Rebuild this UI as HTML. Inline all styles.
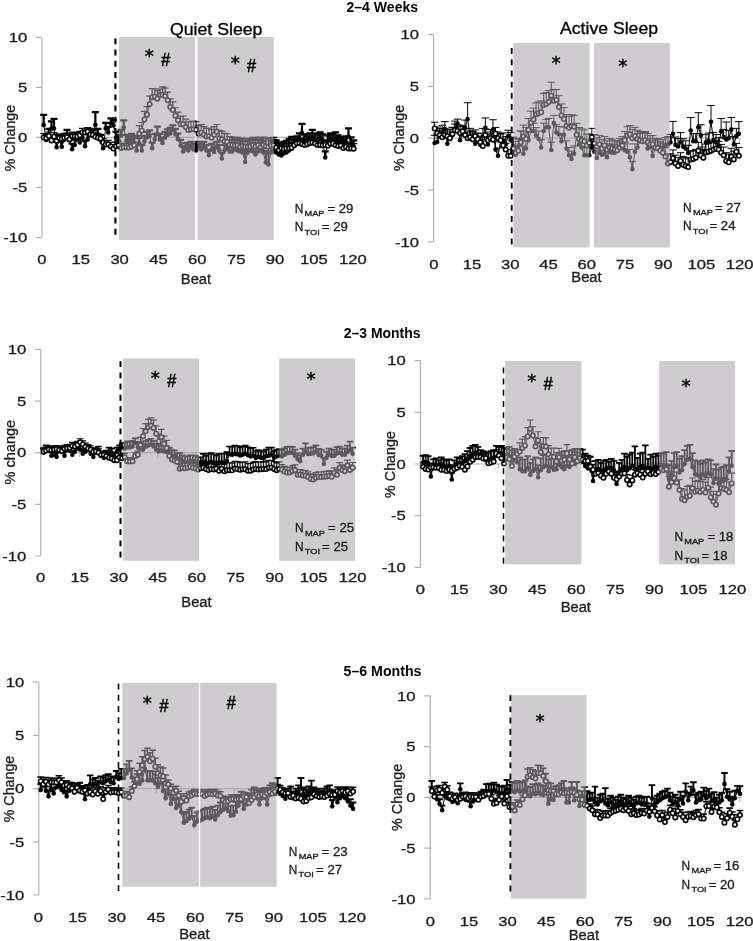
<!DOCTYPE html>
<html lang="en"><head><meta charset="utf-8"><title>Figure</title>
<style>html,body{margin:0;padding:0;background:#fff}body{width:753px;height:941px;overflow:hidden}svg{display:block}text{font-family:'Liberation Sans', 'DejaVu Sans', sans-serif}.dj{font-family:'DejaVu Sans',sans-serif}</style></head><body>
<svg width="753" height="941" viewBox="0 0 753 941">
<rect width="753" height="941" fill="#fff"/>
<g><g stroke="#b3b3b3" stroke-width="1.2" fill="none">
<path d="M41.9 37.3V237.6"/>
<path d="M36 37.3H41.9M36 87.37H41.9M36 137.45H41.9M36 187.52H41.9M36 237.6H41.9"/>
<path d="M41.9 137.45H354.95"/>
<path d="M41.9 137.45v4.5M80.77 137.45v4.5M119.63 137.45v4.5M158.5 137.45v4.5M197.36 137.45v4.5M236.23 137.45v4.5M275.09 137.45v4.5M313.95 137.45v4.5M352.82 137.45v4.5"/>
</g>
<path d="M43.69 124.93V114.92M40.19 114.92H47.19M46.27 140.05V134.55M42.77 134.55H49.77M48.86 134.45V128.94M45.36 128.94H52.36M51.44 128.44V121.43M47.94 121.43H54.94M54.02 128.44V118.92M50.52 118.92H57.52M56.6 147.26V141.76M53.1 141.76H60.1M59.19 140.45V134.95M55.69 134.95H62.69M61.77 146.76V141.26M58.27 141.26H65.27M64.35 139.45V133.94M60.85 133.94H67.85M66.94 135.45V129.94M63.44 129.94H70.44M69.52 140.45V134.95M66.02 134.95H73.02M72.1 149.27V143.76M68.6 143.76H75.6M74.69 145.06V139.55M71.19 139.55H78.19M77.27 139.45V133.94M73.77 133.94H80.77M79.85 142.46V136.95M76.35 136.95H83.35M82.44 137.45V131.94M78.94 131.94H85.94M85.02 146.16V140.65M81.52 140.65H88.52M87.6 139.45V133.94M84.1 133.94H91.1M90.18 134.45V128.94M86.68 128.94H93.68M92.77 135.45V129.94M89.27 129.94H96.27M95.35 124.63V112.11M91.85 112.11H98.85M97.93 134.45V128.94M94.43 128.94H101.43M100.52 140.45V134.95M97.02 134.95H104.02M103.1 148.17V142.66M99.6 142.66H106.6M105.68 128.34V122.83M102.18 122.83H109.18M108.27 132.44V126.93M104.77 126.93H111.77M110.85 123.43V118.42M107.35 118.42H114.35M113.43 125.43V119.92M109.93 119.92H116.93M116.01 137.45V131.94M112.51 131.94H119.51M118.6 140.45V134.95M115.1 134.95H122.1M121.18 135.45V129.94M117.68 129.94H124.68M123.76 127.43V120.42M120.26 120.42H127.26M126.35 140.45V134.95M122.85 134.95H129.85M128.93 142.46V136.95M125.43 136.95H132.43M131.51 139.45V133.94M128.01 133.94H135.01M134.09 141.46V135.95M130.59 135.95H137.59M136.68 150.47V144.96M133.18 144.96H140.18M139.26 143.46V137.95M135.76 137.95H142.76M141.84 150.47V144.96M138.34 144.96H145.34M144.43 141.46V135.95M140.93 135.95H147.93M147.01 137.45V131.94M143.51 131.94H150.51M149.59 135.95V130.44M146.09 130.44H153.09M152.18 148.17V142.66M148.68 142.66H155.68M154.76 139.45V133.94M151.26 133.94H158.26M157.34 134.15V126.63M153.84 126.63H160.84M159.93 139.45V133.94M156.43 133.94H163.43M162.51 143.06V137.55M159.01 137.55H166.01M165.09 137.45V131.94M161.59 131.94H168.59M167.67 134.75V129.24M164.17 129.24H171.17M170.26 133.44V127.94M166.76 127.94H173.76M172.84 130.24V125.23M169.34 125.23H176.34M175.42 134.45V128.94M171.92 128.94H178.92M178.01 139.15V133.64M174.51 133.64H181.51M180.59 145.46V139.95M177.09 139.95H184.09M183.17 151.47V145.96M179.67 145.96H186.67M185.75 148.47V142.96M182.25 142.96H189.25M188.34 150.47V144.96M184.84 144.96H191.84M190.92 147.46V141.96M187.42 141.96H194.42M193.5 149.47V143.96M190 143.96H197M196.09 150.47V144.96M192.59 144.96H199.59M198.67 147.46V141.96M195.17 141.96H202.17M201.25 149.47V143.96M197.75 143.96H204.75M203.84 147.46V141.96M200.34 141.96H207.34M206.42 150.47V144.96M202.92 144.96H209.92M209 155.28V149.77M205.5 149.77H212.5M211.59 149.47V143.96M208.09 143.96H215.09M214.17 151.97V146.46M210.67 146.46H217.67M216.75 147.46V141.96M213.25 141.96H220.25M219.33 150.47V144.96M215.83 144.96H222.83M221.92 158.48V152.97M218.42 152.97H225.42M224.5 150.47V144.96M221 144.96H228M227.08 148.47V142.96M223.58 142.96H230.58M229.67 151.47V145.96M226.17 145.96H233.17M232.25 151.47V139.95M228.75 139.95H235.75M234.83 149.47V137.95M231.33 137.95H238.33M237.42 150.47V138.95M233.92 138.95H240.92M240 151.47V139.95M236.5 139.95H243.5M242.58 152.47V140.96M239.08 140.96H246.08M245.16 161.99V150.47M241.66 150.47H248.66M247.75 152.47V140.96M244.25 140.96H251.25M250.33 150.47V138.95M246.83 138.95H253.83M252.91 151.47V139.95M249.41 139.95H256.41M255.5 154.48V142.96M252 142.96H259M258.08 151.47V139.95M254.58 139.95H261.58M260.66 150.47V138.95M257.16 138.95H264.16M263.25 152.47V140.96M259.75 140.96H266.75M265.83 162.49V150.97M262.33 150.97H269.33M268.41 164.49V152.97M264.91 152.97H271.91M270.99 152.47V140.96M267.49 140.96H274.49M273.58 151.47V139.95M270.08 139.95H277.08M276.16 152.47V140.96M272.66 140.96H279.66M278.74 154.48V142.96M275.24 142.96H282.24M281.33 155.48V143.96M277.83 143.96H284.83M283.91 153.47V141.96M280.41 141.96H287.41M286.49 152.47V140.96M282.99 140.96H289.99M289.08 150.47V138.95M285.58 138.95H292.58M291.66 148.47V136.95M288.16 136.95H295.16M294.24 145.46V139.45M290.74 139.45H297.74M296.82 142.46V136.45M293.32 136.45H300.32M299.41 139.45V133.44M295.91 133.44H302.91M301.99 132.94V123.93M298.49 123.93H305.49M304.57 140.45V134.45M301.07 134.45H308.07M307.16 142.46V136.45M303.66 136.45H310.66M309.74 139.45V133.44M306.24 133.44H313.24M312.32 137.45V129.94M308.82 129.94H315.82M314.91 139.45V133.44M311.41 133.44H318.41M317.49 140.45V134.45M313.99 134.45H320.99M320.07 138.45V132.44M316.57 132.44H323.57M322.65 140.45V134.45M319.15 134.45H326.15M325.24 157.48V151.47M321.74 151.47H328.74M327.82 141.46V135.45M324.32 135.45H331.32M330.4 139.45V133.44M326.9 133.44H333.9M332.99 140.45V134.45M329.49 134.45H336.49M335.57 138.45V132.44M332.07 132.44H339.07M338.15 141.46V135.45M334.65 135.45H341.65M340.74 143.46V137.45M337.24 137.45H344.24M343.32 145.46V139.45M339.82 139.45H346.82M345.9 142.46V136.45M342.4 136.45H349.4M348.48 136.45V128.44M344.98 128.44H351.98M351.07 143.46V137.45M347.57 137.45H354.57M353.65 146.46V140.45M350.15 140.45H357.15" stroke="#000" stroke-width="2.2" fill="none"/>
<path d="M43.69 124.93L46.27 140.05L48.86 134.45L51.44 128.44L54.02 128.44L56.6 147.26L59.19 140.45L61.77 146.76L64.35 139.45L66.94 135.45L69.52 140.45L72.1 149.27L74.69 145.06L77.27 139.45L79.85 142.46L82.44 137.45L85.02 146.16L87.6 139.45L90.18 134.45L92.77 135.45L95.35 124.63L97.93 134.45L100.52 140.45L103.1 148.17L105.68 128.34L108.27 132.44L110.85 123.43L113.43 125.43L116.01 137.45L118.6 140.45L121.18 135.45L123.76 127.43L126.35 140.45L128.93 142.46L131.51 139.45L134.09 141.46L136.68 150.47L139.26 143.46L141.84 150.47L144.43 141.46L147.01 137.45L149.59 135.95L152.18 148.17L154.76 139.45L157.34 134.15L159.93 139.45L162.51 143.06L165.09 137.45L167.67 134.75L170.26 133.44L172.84 130.24L175.42 134.45L178.01 139.15L180.59 145.46L183.17 151.47L185.75 148.47L188.34 150.47L190.92 147.46L193.5 149.47L196.09 150.47L198.67 147.46L201.25 149.47L203.84 147.46L206.42 150.47L209 155.28L211.59 149.47L214.17 151.97L216.75 147.46L219.33 150.47L221.92 158.48L224.5 150.47L227.08 148.47L229.67 151.47L232.25 151.47L234.83 149.47L237.42 150.47L240 151.47L242.58 152.47L245.16 161.99L247.75 152.47L250.33 150.47L252.91 151.47L255.5 154.48L258.08 151.47L260.66 150.47L263.25 152.47L265.83 162.49L268.41 164.49L270.99 152.47L273.58 151.47L276.16 152.47L278.74 154.48L281.33 155.48L283.91 153.47L286.49 152.47L289.08 150.47L291.66 148.47L294.24 145.46L296.82 142.46L299.41 139.45L301.99 132.94L304.57 140.45L307.16 142.46L309.74 139.45L312.32 137.45L314.91 139.45L317.49 140.45L320.07 138.45L322.65 140.45L325.24 157.48L327.82 141.46L330.4 139.45L332.99 140.45L335.57 138.45L338.15 141.46L340.74 143.46L343.32 145.46L345.9 142.46L348.48 136.45L351.07 143.46L353.65 146.46" stroke="#000" stroke-width="1" fill="none"/>
<g fill="#000"><circle cx="43.69" cy="124.93" r="2.3"/><circle cx="46.27" cy="140.05" r="2.3"/><circle cx="48.86" cy="134.45" r="2.3"/><circle cx="51.44" cy="128.44" r="2.3"/><circle cx="54.02" cy="128.44" r="2.3"/><circle cx="56.6" cy="147.26" r="2.3"/><circle cx="59.19" cy="140.45" r="2.3"/><circle cx="61.77" cy="146.76" r="2.3"/><circle cx="64.35" cy="139.45" r="2.3"/><circle cx="66.94" cy="135.45" r="2.3"/><circle cx="69.52" cy="140.45" r="2.3"/><circle cx="72.1" cy="149.27" r="2.3"/><circle cx="74.69" cy="145.06" r="2.3"/><circle cx="77.27" cy="139.45" r="2.3"/><circle cx="79.85" cy="142.46" r="2.3"/><circle cx="82.44" cy="137.45" r="2.3"/><circle cx="85.02" cy="146.16" r="2.3"/><circle cx="87.6" cy="139.45" r="2.3"/><circle cx="90.18" cy="134.45" r="2.3"/><circle cx="92.77" cy="135.45" r="2.3"/><circle cx="95.35" cy="124.63" r="2.3"/><circle cx="97.93" cy="134.45" r="2.3"/><circle cx="100.52" cy="140.45" r="2.3"/><circle cx="103.1" cy="148.17" r="2.3"/><circle cx="105.68" cy="128.34" r="2.3"/><circle cx="108.27" cy="132.44" r="2.3"/><circle cx="110.85" cy="123.43" r="2.3"/><circle cx="113.43" cy="125.43" r="2.3"/><circle cx="116.01" cy="137.45" r="2.3"/><circle cx="118.6" cy="140.45" r="2.3"/><circle cx="121.18" cy="135.45" r="2.3"/><circle cx="123.76" cy="127.43" r="2.3"/><circle cx="126.35" cy="140.45" r="2.3"/><circle cx="128.93" cy="142.46" r="2.3"/><circle cx="131.51" cy="139.45" r="2.3"/><circle cx="134.09" cy="141.46" r="2.3"/><circle cx="136.68" cy="150.47" r="2.3"/><circle cx="139.26" cy="143.46" r="2.3"/><circle cx="141.84" cy="150.47" r="2.3"/><circle cx="144.43" cy="141.46" r="2.3"/><circle cx="147.01" cy="137.45" r="2.3"/><circle cx="149.59" cy="135.95" r="2.3"/><circle cx="152.18" cy="148.17" r="2.3"/><circle cx="154.76" cy="139.45" r="2.3"/><circle cx="157.34" cy="134.15" r="2.3"/><circle cx="159.93" cy="139.45" r="2.3"/><circle cx="162.51" cy="143.06" r="2.3"/><circle cx="165.09" cy="137.45" r="2.3"/><circle cx="167.67" cy="134.75" r="2.3"/><circle cx="170.26" cy="133.44" r="2.3"/><circle cx="172.84" cy="130.24" r="2.3"/><circle cx="175.42" cy="134.45" r="2.3"/><circle cx="178.01" cy="139.15" r="2.3"/><circle cx="180.59" cy="145.46" r="2.3"/><circle cx="183.17" cy="151.47" r="2.3"/><circle cx="185.75" cy="148.47" r="2.3"/><circle cx="188.34" cy="150.47" r="2.3"/><circle cx="190.92" cy="147.46" r="2.3"/><circle cx="193.5" cy="149.47" r="2.3"/><circle cx="196.09" cy="150.47" r="2.3"/><circle cx="198.67" cy="147.46" r="2.3"/><circle cx="201.25" cy="149.47" r="2.3"/><circle cx="203.84" cy="147.46" r="2.3"/><circle cx="206.42" cy="150.47" r="2.3"/><circle cx="209" cy="155.28" r="2.3"/><circle cx="211.59" cy="149.47" r="2.3"/><circle cx="214.17" cy="151.97" r="2.3"/><circle cx="216.75" cy="147.46" r="2.3"/><circle cx="219.33" cy="150.47" r="2.3"/><circle cx="221.92" cy="158.48" r="2.3"/><circle cx="224.5" cy="150.47" r="2.3"/><circle cx="227.08" cy="148.47" r="2.3"/><circle cx="229.67" cy="151.47" r="2.3"/><circle cx="232.25" cy="151.47" r="2.3"/><circle cx="234.83" cy="149.47" r="2.3"/><circle cx="237.42" cy="150.47" r="2.3"/><circle cx="240" cy="151.47" r="2.3"/><circle cx="242.58" cy="152.47" r="2.3"/><circle cx="245.16" cy="161.99" r="2.3"/><circle cx="247.75" cy="152.47" r="2.3"/><circle cx="250.33" cy="150.47" r="2.3"/><circle cx="252.91" cy="151.47" r="2.3"/><circle cx="255.5" cy="154.48" r="2.3"/><circle cx="258.08" cy="151.47" r="2.3"/><circle cx="260.66" cy="150.47" r="2.3"/><circle cx="263.25" cy="152.47" r="2.3"/><circle cx="265.83" cy="162.49" r="2.3"/><circle cx="268.41" cy="164.49" r="2.3"/><circle cx="270.99" cy="152.47" r="2.3"/><circle cx="273.58" cy="151.47" r="2.3"/><circle cx="276.16" cy="152.47" r="2.3"/><circle cx="278.74" cy="154.48" r="2.3"/><circle cx="281.33" cy="155.48" r="2.3"/><circle cx="283.91" cy="153.47" r="2.3"/><circle cx="286.49" cy="152.47" r="2.3"/><circle cx="289.08" cy="150.47" r="2.3"/><circle cx="291.66" cy="148.47" r="2.3"/><circle cx="294.24" cy="145.46" r="2.3"/><circle cx="296.82" cy="142.46" r="2.3"/><circle cx="299.41" cy="139.45" r="2.3"/><circle cx="301.99" cy="132.94" r="2.3"/><circle cx="304.57" cy="140.45" r="2.3"/><circle cx="307.16" cy="142.46" r="2.3"/><circle cx="309.74" cy="139.45" r="2.3"/><circle cx="312.32" cy="137.45" r="2.3"/><circle cx="314.91" cy="139.45" r="2.3"/><circle cx="317.49" cy="140.45" r="2.3"/><circle cx="320.07" cy="138.45" r="2.3"/><circle cx="322.65" cy="140.45" r="2.3"/><circle cx="325.24" cy="157.48" r="2.3"/><circle cx="327.82" cy="141.46" r="2.3"/><circle cx="330.4" cy="139.45" r="2.3"/><circle cx="332.99" cy="140.45" r="2.3"/><circle cx="335.57" cy="138.45" r="2.3"/><circle cx="338.15" cy="141.46" r="2.3"/><circle cx="340.74" cy="143.46" r="2.3"/><circle cx="343.32" cy="145.46" r="2.3"/><circle cx="345.9" cy="142.46" r="2.3"/><circle cx="348.48" cy="136.45" r="2.3"/><circle cx="351.07" cy="143.46" r="2.3"/><circle cx="353.65" cy="146.46" r="2.3"/></g>
<path d="M43.69 137.52V133.51M40.19 133.51H47.19M46.27 138.04V134.04M42.77 134.04H49.77M48.86 136.02V132.01M45.36 132.01H52.36M51.44 140.38V136.38M47.94 136.38H54.94M54.02 136.72V132.71M50.52 132.71H57.52M56.6 140.78V136.77M53.1 136.77H60.1M59.19 138.04V134.03M55.69 134.03H62.69M61.77 138.64V134.64M58.27 134.64H65.27M64.35 137.96V133.95M60.85 133.95H67.85M66.94 137.19V133.18M63.44 133.18H70.44M69.52 139.3V135.3M66.02 135.3H73.02M72.1 136.03V132.02M68.6 132.02H75.6M74.69 136.37V132.36M71.19 132.36H78.19M77.27 136.6V132.6M73.77 132.6H80.77M79.85 135.32V131.32M76.35 131.32H83.35M82.44 132.39V128.38M78.94 128.38H85.94M85.02 132.59V128.58M81.52 128.58H88.52M87.6 131.61V127.61M84.1 127.61H91.1M90.18 134.55V130.55M86.68 130.55H93.68M92.77 134.96V130.95M89.27 130.95H96.27M95.35 136.87V132.87M91.85 132.87H98.85M97.93 137.7V133.69M94.43 133.69H101.43M100.52 138.56V134.56M97.02 134.56H104.02M103.1 142.71V138.7M99.6 138.7H106.6M105.68 144.6V140.6M102.18 140.6H109.18M108.27 144.38V140.38M104.77 140.38H111.77M110.85 146.44V142.43M107.35 142.43H114.35M113.43 148.53V144.52M109.93 144.52H116.93M116.01 146.2V142.19M112.51 142.19H119.51M118.6 145.3V141.29M115.1 141.29H122.1M121.18 147.97V143.97M117.68 143.97H124.68M123.76 147.16V143.16M120.26 143.16H127.26M126.35 147.41V143.41M122.85 143.41H129.85M128.93 147.45V143.45M125.43 143.45H132.43M131.51 146.65V142.64M128.01 142.64H135.01M134.09 145.34V141.33M130.59 141.33H137.59M136.68 140.34V136.34M133.18 136.34H140.18M139.26 133.61V125.6M135.76 125.6H142.76M141.84 130.49V122.48M138.34 122.48H145.34M144.43 119.4V111.39M140.93 111.39H147.93M147.01 114.67V106.66M143.51 106.66H150.51M149.59 104.21V96.2M146.09 96.2H153.09M152.18 97.14V88.63M148.68 88.63H155.68M154.76 96.75V88.74M151.26 88.74H158.26M157.34 98.69V90.68M153.84 90.68H160.84M159.93 95.11V89.1M156.43 89.1H163.43M162.51 94.8V86.79M159.01 86.79H166.01M165.09 96.17V88.16M161.59 88.16H168.59M167.67 100.16V92.14M164.17 92.14H171.17M170.26 106.98V98.97M166.76 98.97H173.76M172.84 109.98V101.97M169.34 101.97H176.34M175.42 115.77V107.76M171.92 107.76H178.92M178.01 120.23V112.22M174.51 112.22H181.51M180.59 124.18V116.17M177.09 116.17H184.09M183.17 124.03V116.02M179.67 116.02H186.67M185.75 127.12V119.11M182.25 119.11H189.25M188.34 129.99V121.98M184.84 121.98H191.84M190.92 129.41V121.4M187.42 121.4H194.42M193.5 129.13V121.12M190 121.12H197M196.09 129.64V121.63M192.59 121.63H199.59M198.67 133.67V125.66M195.17 125.66H202.17M201.25 132.7V124.69M197.75 124.69H204.75M203.84 134.63V126.62M200.34 126.62H207.34M206.42 136.4V128.39M202.92 128.39H209.92M209 136.17V128.16M205.5 128.16H212.5M211.59 137.64V129.63M208.09 129.63H215.09M214.17 134.74V126.72M210.67 126.72H217.67M216.75 131.53V124.52M213.25 124.52H220.25M219.33 138.48V130.47M215.83 130.47H222.83M221.92 139.32V131.31M218.42 131.31H225.42M224.5 141.29V133.28M221 133.28H228M227.08 141.95V133.94M223.58 133.94H230.58M229.67 144.67V136.65M226.17 136.65H233.17M232.25 145.04V137.03M228.75 137.03H235.75M234.83 145.87V137.86M231.33 137.86H238.33M237.42 145.3V137.29M233.92 137.29H240.92M240 146.87V138.86M236.5 138.86H243.5M242.58 146.06V138.05M239.08 138.05H246.08M245.16 146.83V138.82M241.66 138.82H248.66M247.75 146.82V138.81M244.25 138.81H251.25M250.33 146.53V138.51M246.83 138.51H253.83M252.91 145.28V137.27M249.41 137.27H256.41M255.5 146.34V138.33M252 138.33H259M258.08 145.12V137.11M254.58 137.11H261.58M260.66 146.93V138.92M257.16 138.92H264.16M263.25 145.03V137.01M259.75 137.01H266.75M265.83 146.32V138.3M262.33 138.3H269.33M268.41 146.83V138.82M264.91 138.82H271.91M270.99 145.62V137.6M267.49 137.6H274.49M273.58 145.35V137.34M270.08 137.34H277.08M276.16 147.75V139.74M272.66 139.74H279.66M278.74 150.07V145.06M275.24 145.06H282.24M281.33 148.32V143.31M277.83 143.31H284.83M283.91 148.88V143.87M280.41 143.87H287.41M286.49 148.42V143.41M282.99 143.41H289.99M289.08 148.31V143.3M285.58 143.3H292.58M291.66 147.66V142.65M288.16 142.65H295.16M294.24 145.18V140.17M290.74 140.17H297.74M296.82 143.2V138.19M293.32 138.19H300.32M299.41 143.1V138.09M295.91 138.09H302.91M301.99 144.12V139.11M298.49 139.11H305.49M304.57 145.1V140.1M301.07 140.1H308.07M307.16 144.22V139.21M303.66 139.21H310.66M309.74 142.94V137.93M306.24 137.93H313.24M312.32 142.59V137.59M308.82 137.59H315.82M314.91 143.62V138.62M311.41 138.62H318.41M317.49 145.11V140.1M313.99 140.1H320.99M320.07 144.9V139.89M316.57 139.89H323.57M322.65 145.52V140.51M319.15 140.51H326.15M325.24 144.96V139.95M321.74 139.95H328.74M327.82 145.63V140.62M324.32 140.62H331.32M330.4 143.79V138.78M326.9 138.78H333.9M332.99 143.71V138.71M329.49 138.71H336.49M335.57 145.34V140.33M332.07 140.33H339.07M338.15 145.96V140.96M334.65 140.96H341.65M340.74 145.57V140.56M337.24 140.56H344.24M343.32 148.04V143.03M339.82 143.03H346.82M345.9 146.9V141.89M342.4 141.89H349.4M348.48 148.43V143.42M344.98 143.42H351.98M351.07 148.46V143.45M347.57 143.45H354.57M353.65 148.63V143.63M350.15 143.63H357.15" stroke="#000" stroke-width="1.2" fill="none"/>
<path d="M43.69 137.52L46.27 138.04L48.86 136.02L51.44 140.38L54.02 136.72L56.6 140.78L59.19 138.04L61.77 138.64L64.35 137.96L66.94 137.19L69.52 139.3L72.1 136.03L74.69 136.37L77.27 136.6L79.85 135.32L82.44 132.39L85.02 132.59L87.6 131.61L90.18 134.55L92.77 134.96L95.35 136.87L97.93 137.7L100.52 138.56L103.1 142.71L105.68 144.6L108.27 144.38L110.85 146.44L113.43 148.53L116.01 146.2L118.6 145.3L121.18 147.97L123.76 147.16L126.35 147.41L128.93 147.45L131.51 146.65L134.09 145.34L136.68 140.34L139.26 133.61L141.84 130.49L144.43 119.4L147.01 114.67L149.59 104.21L152.18 97.14L154.76 96.75L157.34 98.69L159.93 95.11L162.51 94.8L165.09 96.17L167.67 100.16L170.26 106.98L172.84 109.98L175.42 115.77L178.01 120.23L180.59 124.18L183.17 124.03L185.75 127.12L188.34 129.99L190.92 129.41L193.5 129.13L196.09 129.64L198.67 133.67L201.25 132.7L203.84 134.63L206.42 136.4L209 136.17L211.59 137.64L214.17 134.74L216.75 131.53L219.33 138.48L221.92 139.32L224.5 141.29L227.08 141.95L229.67 144.67L232.25 145.04L234.83 145.87L237.42 145.3L240 146.87L242.58 146.06L245.16 146.83L247.75 146.82L250.33 146.53L252.91 145.28L255.5 146.34L258.08 145.12L260.66 146.93L263.25 145.03L265.83 146.32L268.41 146.83L270.99 145.62L273.58 145.35L276.16 147.75L278.74 150.07L281.33 148.32L283.91 148.88L286.49 148.42L289.08 148.31L291.66 147.66L294.24 145.18L296.82 143.2L299.41 143.1L301.99 144.12L304.57 145.1L307.16 144.22L309.74 142.94L312.32 142.59L314.91 143.62L317.49 145.11L320.07 144.9L322.65 145.52L325.24 144.96L327.82 145.63L330.4 143.79L332.99 143.71L335.57 145.34L338.15 145.96L340.74 145.57L343.32 148.04L345.9 146.9L348.48 148.43L351.07 148.46L353.65 148.63" stroke="#000" stroke-width="1" fill="none"/>
<g fill="#fff" stroke="#000" stroke-width="1.6"><circle cx="43.69" cy="137.52" r="2.2"/><circle cx="46.27" cy="138.04" r="2.2"/><circle cx="48.86" cy="136.02" r="2.2"/><circle cx="51.44" cy="140.38" r="2.2"/><circle cx="54.02" cy="136.72" r="2.2"/><circle cx="56.6" cy="140.78" r="2.2"/><circle cx="59.19" cy="138.04" r="2.2"/><circle cx="61.77" cy="138.64" r="2.2"/><circle cx="64.35" cy="137.96" r="2.2"/><circle cx="66.94" cy="137.19" r="2.2"/><circle cx="69.52" cy="139.3" r="2.2"/><circle cx="72.1" cy="136.03" r="2.2"/><circle cx="74.69" cy="136.37" r="2.2"/><circle cx="77.27" cy="136.6" r="2.2"/><circle cx="79.85" cy="135.32" r="2.2"/><circle cx="82.44" cy="132.39" r="2.2"/><circle cx="85.02" cy="132.59" r="2.2"/><circle cx="87.6" cy="131.61" r="2.2"/><circle cx="90.18" cy="134.55" r="2.2"/><circle cx="92.77" cy="134.96" r="2.2"/><circle cx="95.35" cy="136.87" r="2.2"/><circle cx="97.93" cy="137.7" r="2.2"/><circle cx="100.52" cy="138.56" r="2.2"/><circle cx="103.1" cy="142.71" r="2.2"/><circle cx="105.68" cy="144.6" r="2.2"/><circle cx="108.27" cy="144.38" r="2.2"/><circle cx="110.85" cy="146.44" r="2.2"/><circle cx="113.43" cy="148.53" r="2.2"/><circle cx="116.01" cy="146.2" r="2.2"/><circle cx="118.6" cy="145.3" r="2.2"/><circle cx="121.18" cy="147.97" r="2.2"/><circle cx="123.76" cy="147.16" r="2.2"/><circle cx="126.35" cy="147.41" r="2.2"/><circle cx="128.93" cy="147.45" r="2.2"/><circle cx="131.51" cy="146.65" r="2.2"/><circle cx="134.09" cy="145.34" r="2.2"/><circle cx="136.68" cy="140.34" r="2.2"/><circle cx="139.26" cy="133.61" r="2.2"/><circle cx="141.84" cy="130.49" r="2.2"/><circle cx="144.43" cy="119.4" r="2.2"/><circle cx="147.01" cy="114.67" r="2.2"/><circle cx="149.59" cy="104.21" r="2.2"/><circle cx="152.18" cy="97.14" r="2.2"/><circle cx="154.76" cy="96.75" r="2.2"/><circle cx="157.34" cy="98.69" r="2.2"/><circle cx="159.93" cy="95.11" r="2.2"/><circle cx="162.51" cy="94.8" r="2.2"/><circle cx="165.09" cy="96.17" r="2.2"/><circle cx="167.67" cy="100.16" r="2.2"/><circle cx="170.26" cy="106.98" r="2.2"/><circle cx="172.84" cy="109.98" r="2.2"/><circle cx="175.42" cy="115.77" r="2.2"/><circle cx="178.01" cy="120.23" r="2.2"/><circle cx="180.59" cy="124.18" r="2.2"/><circle cx="183.17" cy="124.03" r="2.2"/><circle cx="185.75" cy="127.12" r="2.2"/><circle cx="188.34" cy="129.99" r="2.2"/><circle cx="190.92" cy="129.41" r="2.2"/><circle cx="193.5" cy="129.13" r="2.2"/><circle cx="196.09" cy="129.64" r="2.2"/><circle cx="198.67" cy="133.67" r="2.2"/><circle cx="201.25" cy="132.7" r="2.2"/><circle cx="203.84" cy="134.63" r="2.2"/><circle cx="206.42" cy="136.4" r="2.2"/><circle cx="209" cy="136.17" r="2.2"/><circle cx="211.59" cy="137.64" r="2.2"/><circle cx="214.17" cy="134.74" r="2.2"/><circle cx="216.75" cy="131.53" r="2.2"/><circle cx="219.33" cy="138.48" r="2.2"/><circle cx="221.92" cy="139.32" r="2.2"/><circle cx="224.5" cy="141.29" r="2.2"/><circle cx="227.08" cy="141.95" r="2.2"/><circle cx="229.67" cy="144.67" r="2.2"/><circle cx="232.25" cy="145.04" r="2.2"/><circle cx="234.83" cy="145.87" r="2.2"/><circle cx="237.42" cy="145.3" r="2.2"/><circle cx="240" cy="146.87" r="2.2"/><circle cx="242.58" cy="146.06" r="2.2"/><circle cx="245.16" cy="146.83" r="2.2"/><circle cx="247.75" cy="146.82" r="2.2"/><circle cx="250.33" cy="146.53" r="2.2"/><circle cx="252.91" cy="145.28" r="2.2"/><circle cx="255.5" cy="146.34" r="2.2"/><circle cx="258.08" cy="145.12" r="2.2"/><circle cx="260.66" cy="146.93" r="2.2"/><circle cx="263.25" cy="145.03" r="2.2"/><circle cx="265.83" cy="146.32" r="2.2"/><circle cx="268.41" cy="146.83" r="2.2"/><circle cx="270.99" cy="145.62" r="2.2"/><circle cx="273.58" cy="145.35" r="2.2"/><circle cx="276.16" cy="147.75" r="2.2"/><circle cx="278.74" cy="150.07" r="2.2"/><circle cx="281.33" cy="148.32" r="2.2"/><circle cx="283.91" cy="148.88" r="2.2"/><circle cx="286.49" cy="148.42" r="2.2"/><circle cx="289.08" cy="148.31" r="2.2"/><circle cx="291.66" cy="147.66" r="2.2"/><circle cx="294.24" cy="145.18" r="2.2"/><circle cx="296.82" cy="143.2" r="2.2"/><circle cx="299.41" cy="143.1" r="2.2"/><circle cx="301.99" cy="144.12" r="2.2"/><circle cx="304.57" cy="145.1" r="2.2"/><circle cx="307.16" cy="144.22" r="2.2"/><circle cx="309.74" cy="142.94" r="2.2"/><circle cx="312.32" cy="142.59" r="2.2"/><circle cx="314.91" cy="143.62" r="2.2"/><circle cx="317.49" cy="145.11" r="2.2"/><circle cx="320.07" cy="144.9" r="2.2"/><circle cx="322.65" cy="145.52" r="2.2"/><circle cx="325.24" cy="144.96" r="2.2"/><circle cx="327.82" cy="145.63" r="2.2"/><circle cx="330.4" cy="143.79" r="2.2"/><circle cx="332.99" cy="143.71" r="2.2"/><circle cx="335.57" cy="145.34" r="2.2"/><circle cx="338.15" cy="145.96" r="2.2"/><circle cx="340.74" cy="145.57" r="2.2"/><circle cx="343.32" cy="148.04" r="2.2"/><circle cx="345.9" cy="146.9" r="2.2"/><circle cx="348.48" cy="148.43" r="2.2"/><circle cx="351.07" cy="148.46" r="2.2"/><circle cx="353.65" cy="148.63" r="2.2"/></g>
<rect x="119" y="37" width="76" height="203" fill="#a6a3a5" fill-opacity="0.55"/>
<rect x="197.6" y="37" width="76.2" height="203" fill="#a6a3a5" fill-opacity="0.55"/>
<path d="M115.4 38.4V234.8" stroke="#000" stroke-width="2.1" stroke-dasharray="5.9 5.3" fill="none"/>
<text x="0" y="0" font-size="13.3" fill="#1a1a1a" text-anchor="end" transform="translate(27.3 42.05) scale(1.25 1)" stroke="#1a1a1a" stroke-width="0.3">10</text>
<text x="0" y="0" font-size="13.3" fill="#1a1a1a" text-anchor="end" transform="translate(27.3 92.12) scale(1.25 1)" stroke="#1a1a1a" stroke-width="0.3">5</text>
<text x="0" y="0" font-size="13.3" fill="#1a1a1a" text-anchor="end" transform="translate(27.3 142.2) scale(1.25 1)" stroke="#1a1a1a" stroke-width="0.3">0</text>
<text x="0" y="0" font-size="13.3" fill="#1a1a1a" text-anchor="end" transform="translate(27.3 192.27) scale(1.25 1)" stroke="#1a1a1a" stroke-width="0.3">-5</text>
<text x="0" y="0" font-size="13.3" fill="#1a1a1a" text-anchor="end" transform="translate(27.3 242.35) scale(1.25 1)" stroke="#1a1a1a" stroke-width="0.3">-10</text>
<text x="0" y="0" font-size="13.3" fill="#1a1a1a" text-anchor="middle" transform="translate(41.9 264.4) scale(1.25 1)" stroke="#1a1a1a" stroke-width="0.3">0</text>
<text x="0" y="0" font-size="13.3" fill="#1a1a1a" text-anchor="middle" transform="translate(80.77 264.4) scale(1.25 1)" stroke="#1a1a1a" stroke-width="0.3">15</text>
<text x="0" y="0" font-size="13.3" fill="#1a1a1a" text-anchor="middle" transform="translate(119.63 264.4) scale(1.25 1)" stroke="#1a1a1a" stroke-width="0.3">30</text>
<text x="0" y="0" font-size="13.3" fill="#1a1a1a" text-anchor="middle" transform="translate(158.5 264.4) scale(1.25 1)" stroke="#1a1a1a" stroke-width="0.3">45</text>
<text x="0" y="0" font-size="13.3" fill="#1a1a1a" text-anchor="middle" transform="translate(197.36 264.4) scale(1.25 1)" stroke="#1a1a1a" stroke-width="0.3">60</text>
<text x="0" y="0" font-size="13.3" fill="#1a1a1a" text-anchor="middle" transform="translate(236.23 264.4) scale(1.25 1)" stroke="#1a1a1a" stroke-width="0.3">75</text>
<text x="0" y="0" font-size="13.3" fill="#1a1a1a" text-anchor="middle" transform="translate(275.09 264.4) scale(1.25 1)" stroke="#1a1a1a" stroke-width="0.3">90</text>
<text x="0" y="0" font-size="13.3" fill="#1a1a1a" text-anchor="middle" transform="translate(313.95 264.4) scale(1.25 1)" stroke="#1a1a1a" stroke-width="0.3">105</text>
<text x="0" y="0" font-size="13.3" fill="#1a1a1a" text-anchor="middle" transform="translate(352.82 264.4) scale(1.25 1)" stroke="#1a1a1a" stroke-width="0.3">120</text>
<text x="196" y="283.7" font-size="14" fill="#1a1a1a" text-anchor="middle" textLength="30.3" lengthAdjust="spacingAndGlyphs" stroke="#1a1a1a" stroke-width="0.3">Beat</text>
<text x="0" y="0" font-size="15.2" fill="#1a1a1a" text-anchor="middle" textLength="66.4" lengthAdjust="spacingAndGlyphs" transform="translate(14.7 138.1) rotate(-90)" stroke="#1a1a1a" stroke-width="0.3">% Change</text>
<text x="294.7" y="212.5" font-size="12.6" fill="#1a1a1a" textLength="8.6" lengthAdjust="spacingAndGlyphs" stroke="#1a1a1a" stroke-width="0.3">N</text>
<text x="304.6" y="215.8" font-size="7.7" fill="#1a1a1a" textLength="19.9" lengthAdjust="spacingAndGlyphs" stroke="#1a1a1a" stroke-width="0.3">MAP</text>
<text x="327.4" y="212.5" font-size="12.6" fill="#1a1a1a" textLength="26" lengthAdjust="spacingAndGlyphs" stroke="#1a1a1a" stroke-width="0.3">= 29</text>
<text x="294.7" y="231.4" font-size="12.6" fill="#1a1a1a" textLength="8.6" lengthAdjust="spacingAndGlyphs" stroke="#1a1a1a" stroke-width="0.3">N</text>
<text x="304.5" y="234.5" font-size="7.7" fill="#1a1a1a" textLength="15.3" lengthAdjust="spacingAndGlyphs" stroke="#1a1a1a" stroke-width="0.3">TOI</text>
<text x="321.8" y="231.4" font-size="12.6" fill="#1a1a1a" textLength="26" lengthAdjust="spacingAndGlyphs" stroke="#1a1a1a" stroke-width="0.3">= 29</text>
<text x="149.25" y="62.2" font-size="18.3" fill="#000" text-anchor="middle" class="dj" stroke="#000" stroke-width="0.4">*</text>
<text x="0" y="0" font-size="18" fill="#000" text-anchor="middle" transform="translate(165.75 65.55) scale(0.9 1)" stroke="#000" stroke-width="0.55">#</text>
<text x="235.3" y="68.9" font-size="18.3" fill="#000" text-anchor="middle" class="dj" stroke="#000" stroke-width="0.4">*</text>
<text x="0" y="0" font-size="18" fill="#000" text-anchor="middle" transform="translate(251.6 71.9) scale(0.9 1)" stroke="#000" stroke-width="0.55">#</text></g>
<g><g stroke="#b3b3b3" stroke-width="1.2" fill="none">
<path d="M433.6 34.5V241.9"/>
<path d="M427.7 34.5H433.6M427.7 86.35H433.6M427.7 138.2H433.6M427.7 190.05H433.6M427.7 241.9H433.6"/>
<path d="M433.6 138.2H740.17"/>
<path d="M433.9 138.2v4.5M472.12 138.2v4.5M510.34 138.2v4.5M548.56 138.2v4.5M586.78 138.2v4.5M625 138.2v4.5M663.22 138.2v4.5M701.44 138.2v4.5M739.66 138.2v4.5"/>
</g>
<path d="M434.67 143.07V135.3M430.87 135.3H438.47M437.21 141.93V134.16M433.41 134.16H441.01M439.74 136.13V128.35M435.94 128.35H443.54M442.28 133.01V125.24M438.48 125.24H446.08M444.81 129.07V121.61M441.01 121.61H448.61M447.35 143.7V135.92M443.55 135.92H451.15M449.88 137.16V129.39M446.08 129.39H453.68M452.42 135.09V127.31M448.62 127.31H456.22M454.95 128.87V121.09M451.15 121.09H458.75M457.49 123.79V119.12M453.69 119.12H461.29M460.02 140.27V132.5M456.22 132.5H463.82M462.56 134.05V126.27M458.75 126.27H466.36M465.09 127.83V120.05M461.29 120.05H468.89M467.62 119.12V102.73M463.82 102.73H471.43M470.16 136.13V128.35M466.36 128.35H473.96M472.7 139.24V131.46M468.9 131.46H476.5M475.23 143.7V135.92M471.43 135.92H479.03M477.76 141.31V133.53M473.96 133.53H481.56M480.3 144.84V137.06M476.5 137.06H484.1M482.84 136.13V128.35M479.04 128.35H486.64M485.37 127.83V117.98M481.57 117.98H489.17M487.91 144.42V136.64M484.11 136.64H491.71M490.44 137.16V129.39M486.64 129.39H494.24M492.98 129.7V119.74M489.18 119.74H496.78M495.51 149.61V141.83M491.71 141.83H499.31M498.05 155.83V148.05M494.25 148.05H501.85M500.58 141.31V133.53M496.78 133.53H504.38M503.12 140.79V133.01M499.31 133.01H506.92M505.65 144.42V136.64M501.85 136.64H509.45M508.19 136.13V130.22M504.38 130.22H511.99M510.72 140.27V132.5M506.92 132.5H514.52M513.25 145.46V137.68M509.45 137.68H517.05M515.79 154.79V147.01M511.99 147.01H519.59M518.33 146.5V138.72M514.53 138.72H522.12M520.86 138.93V131.15M517.06 131.15H524.66M523.39 153.75V145.98M519.6 145.98H527.19M525.93 148.57V140.79M522.13 140.79H529.73M528.47 140.27V132.5M524.67 132.5H532.26M531 130.94V123.16M527.2 123.16H534.8M533.54 130.94V123.16M529.74 123.16H537.34M536.07 135.4V127.62M532.27 127.62H539.87M538.61 138.93V131.15M534.81 131.15H542.4M541.14 147.53V139.76M537.34 139.76H544.94M543.68 130.94V123.16M539.88 123.16H547.48M546.21 127.21V119.43M542.41 119.43H550.01M548.75 127.21V118.39M544.95 118.39H552.54M551.28 150.02V142.24M547.48 142.24H555.08M553.82 123.16V115.39M550.02 115.39H557.62M556.35 132.5V124.72M552.55 124.72H560.15M558.88 134.26V126.48M555.09 126.48H562.68M561.42 141.31V133.53M557.62 133.53H565.22M563.96 134.78V127M560.16 127H567.75M566.49 148.57V140.79M562.69 140.79H570.29M569.03 155.31V147.53M565.23 147.53H572.83M571.56 158.94V151.16M567.76 151.16H575.36M574.1 153.75V145.98M570.3 145.98H577.89M576.63 135.4V127.62M572.83 127.62H580.43M579.16 144.42V136.64M575.37 136.64H582.96M581.7 147.53V139.76M577.9 139.76H585.5M584.24 155.31V147.53M580.44 147.53H588.03M586.77 155.31V147.53M582.97 147.53H590.57M589.31 155.31V147.53M585.51 147.53H593.11M591.84 147.53V139.76M588.04 139.76H595.64M594.38 151.68V143.9M590.58 143.9H598.17M596.91 157.9V150.13M593.11 150.13H600.71M599.45 152.72V144.94M595.65 144.94H603.25M601.98 154.79V147.01M598.18 147.01H605.78M604.51 153.75V145.98M600.72 145.98H608.31M607.05 157.18V149.4M603.25 149.4H610.85M609.59 151.68V143.9M605.79 143.9H613.38M612.12 152.72V144.94M608.32 144.94H615.92M614.65 152.72V144.94M610.86 144.94H618.45M617.19 150.64V142.87M613.39 142.87H620.99M619.73 148.57V140.79M615.93 140.79H623.52M622.26 147.53V139.76M618.46 139.76H626.06M624.8 150.13V142.35M621 142.35H628.6M627.33 151.68V143.9M623.53 143.9H631.13M629.87 157.18V149.4M626.07 149.4H633.66M632.4 169.1V161.33M628.6 161.33H636.2M634.94 151.68V143.9M631.14 143.9H638.74M637.47 147.53V139.76M633.67 139.76H641.27M640 141.31V133.53M636.21 133.53H643.8M642.54 140.27V132.5M638.74 132.5H646.34M645.08 140.27V132.5M641.28 132.5H648.88M647.61 148.57V140.79M643.81 140.79H651.41M650.14 146.5V138.72M646.35 138.72H653.94M652.68 155.83V148.05M648.88 148.05H656.48M655.22 148.57V140.79M651.42 140.79H659.01M657.75 146.5V138.72M653.95 138.72H661.55M660.29 150.64V142.87M656.49 142.87H664.09M662.82 147.53V139.76M659.02 139.76H666.62M665.36 145.46V137.68M661.56 137.68H669.15M667.89 144.42V136.64M664.09 136.64H671.69M670.43 142.35V134.57M666.63 134.57H674.23M672.96 133.74V121.4M669.16 121.4H676.76M675.5 144.84V137.06M671.7 137.06H679.29M678.03 146.5V138.72M674.23 138.72H681.83M680.57 142.35V132.5M676.77 132.5H684.37M683.1 146.5V138.72M679.3 138.72H686.9M685.63 148.57V140.79M681.84 140.79H689.43M688.17 153.03V145.25M684.37 145.25H691.97M690.71 130.53V117.46M686.91 117.46H694.5M693.24 141.31V133.53M689.44 133.53H697.04M695.78 141.31V133.53M691.98 133.53H699.58M698.31 127.31V112.69M694.51 112.69H702.11M700.85 135.4V124.72M697.05 124.72H704.64M703.38 158.21V150.44M699.58 150.44H707.18M705.91 142.35V134.57M702.12 134.57H709.71M708.45 140.79V133.01M704.65 133.01H712.25M710.99 121.82V105.43M707.19 105.43H714.78M713.52 140.17V132.39M709.72 132.39H717.32M716.06 142.35V134.57M712.26 134.57H719.86M718.59 145.46V137.68M714.79 137.68H722.39M721.12 131.36V118.5M717.33 118.5H724.92M723.66 137.16V129.39M719.86 129.39H727.46M726.2 139.55V122.02M722.4 122.02H730M728.73 138.2V130.42M724.93 130.42H732.53M731.27 129.59V117.46M727.47 117.46H735.07M733.8 144.42V136.64M730 136.64H737.6M736.34 136.13V128.35M732.54 128.35H740.13M738.87 133.74V121.61M735.07 121.61H742.67" stroke="#000" stroke-width="1" fill="none"/>
<path d="M434.67 143.07L437.21 141.93L439.74 136.13L442.28 133.01L444.81 129.07L447.35 143.7L449.88 137.16L452.42 135.09L454.95 128.87L457.49 123.79L460.02 140.27L462.56 134.05L465.09 127.83L467.62 119.12L470.16 136.13L472.7 139.24L475.23 143.7L477.76 141.31L480.3 144.84L482.84 136.13L485.37 127.83L487.91 144.42L490.44 137.16L492.98 129.7L495.51 149.61L498.05 155.83L500.58 141.31L503.12 140.79L505.65 144.42L508.19 136.13L510.72 140.27L513.25 145.46L515.79 154.79L518.33 146.5L520.86 138.93L523.39 153.75L525.93 148.57L528.47 140.27L531 130.94L533.54 130.94L536.07 135.4L538.61 138.93L541.14 147.53L543.68 130.94L546.21 127.21L548.75 127.21L551.28 150.02L553.82 123.16L556.35 132.5L558.88 134.26L561.42 141.31L563.96 134.78L566.49 148.57L569.03 155.31L571.56 158.94L574.1 153.75L576.63 135.4L579.16 144.42L581.7 147.53L584.24 155.31L586.77 155.31L589.31 155.31L591.84 147.53L594.38 151.68L596.91 157.9L599.45 152.72L601.98 154.79L604.51 153.75L607.05 157.18L609.59 151.68L612.12 152.72L614.65 152.72L617.19 150.64L619.73 148.57L622.26 147.53L624.8 150.13L627.33 151.68L629.87 157.18L632.4 169.1L634.94 151.68L637.47 147.53L640 141.31L642.54 140.27L645.08 140.27L647.61 148.57L650.14 146.5L652.68 155.83L655.22 148.57L657.75 146.5L660.29 150.64L662.82 147.53L665.36 145.46L667.89 144.42L670.43 142.35L672.96 133.74L675.5 144.84L678.03 146.5L680.57 142.35L683.1 146.5L685.63 148.57L688.17 153.03L690.71 130.53L693.24 141.31L695.78 141.31L698.31 127.31L700.85 135.4L703.38 158.21L705.91 142.35L708.45 140.79L710.99 121.82L713.52 140.17L716.06 142.35L718.59 145.46L721.12 131.36L723.66 137.16L726.2 139.55L728.73 138.2L731.27 129.59L733.8 144.42L736.34 136.13L738.87 133.74" stroke="#000" stroke-width="1" fill="none"/>
<g fill="#000"><circle cx="434.67" cy="143.07" r="2.3"/><circle cx="437.21" cy="141.93" r="2.3"/><circle cx="439.74" cy="136.13" r="2.3"/><circle cx="442.28" cy="133.01" r="2.3"/><circle cx="444.81" cy="129.07" r="2.3"/><circle cx="447.35" cy="143.7" r="2.3"/><circle cx="449.88" cy="137.16" r="2.3"/><circle cx="452.42" cy="135.09" r="2.3"/><circle cx="454.95" cy="128.87" r="2.3"/><circle cx="457.49" cy="123.79" r="2.3"/><circle cx="460.02" cy="140.27" r="2.3"/><circle cx="462.56" cy="134.05" r="2.3"/><circle cx="465.09" cy="127.83" r="2.3"/><circle cx="467.62" cy="119.12" r="2.3"/><circle cx="470.16" cy="136.13" r="2.3"/><circle cx="472.7" cy="139.24" r="2.3"/><circle cx="475.23" cy="143.7" r="2.3"/><circle cx="477.76" cy="141.31" r="2.3"/><circle cx="480.3" cy="144.84" r="2.3"/><circle cx="482.84" cy="136.13" r="2.3"/><circle cx="485.37" cy="127.83" r="2.3"/><circle cx="487.91" cy="144.42" r="2.3"/><circle cx="490.44" cy="137.16" r="2.3"/><circle cx="492.98" cy="129.7" r="2.3"/><circle cx="495.51" cy="149.61" r="2.3"/><circle cx="498.05" cy="155.83" r="2.3"/><circle cx="500.58" cy="141.31" r="2.3"/><circle cx="503.12" cy="140.79" r="2.3"/><circle cx="505.65" cy="144.42" r="2.3"/><circle cx="508.19" cy="136.13" r="2.3"/><circle cx="510.72" cy="140.27" r="2.3"/><circle cx="513.25" cy="145.46" r="2.3"/><circle cx="515.79" cy="154.79" r="2.3"/><circle cx="518.33" cy="146.5" r="2.3"/><circle cx="520.86" cy="138.93" r="2.3"/><circle cx="523.39" cy="153.75" r="2.3"/><circle cx="525.93" cy="148.57" r="2.3"/><circle cx="528.47" cy="140.27" r="2.3"/><circle cx="531" cy="130.94" r="2.3"/><circle cx="533.54" cy="130.94" r="2.3"/><circle cx="536.07" cy="135.4" r="2.3"/><circle cx="538.61" cy="138.93" r="2.3"/><circle cx="541.14" cy="147.53" r="2.3"/><circle cx="543.68" cy="130.94" r="2.3"/><circle cx="546.21" cy="127.21" r="2.3"/><circle cx="548.75" cy="127.21" r="2.3"/><circle cx="551.28" cy="150.02" r="2.3"/><circle cx="553.82" cy="123.16" r="2.3"/><circle cx="556.35" cy="132.5" r="2.3"/><circle cx="558.88" cy="134.26" r="2.3"/><circle cx="561.42" cy="141.31" r="2.3"/><circle cx="563.96" cy="134.78" r="2.3"/><circle cx="566.49" cy="148.57" r="2.3"/><circle cx="569.03" cy="155.31" r="2.3"/><circle cx="571.56" cy="158.94" r="2.3"/><circle cx="574.1" cy="153.75" r="2.3"/><circle cx="576.63" cy="135.4" r="2.3"/><circle cx="579.16" cy="144.42" r="2.3"/><circle cx="581.7" cy="147.53" r="2.3"/><circle cx="584.24" cy="155.31" r="2.3"/><circle cx="586.77" cy="155.31" r="2.3"/><circle cx="589.31" cy="155.31" r="2.3"/><circle cx="591.84" cy="147.53" r="2.3"/><circle cx="594.38" cy="151.68" r="2.3"/><circle cx="596.91" cy="157.9" r="2.3"/><circle cx="599.45" cy="152.72" r="2.3"/><circle cx="601.98" cy="154.79" r="2.3"/><circle cx="604.51" cy="153.75" r="2.3"/><circle cx="607.05" cy="157.18" r="2.3"/><circle cx="609.59" cy="151.68" r="2.3"/><circle cx="612.12" cy="152.72" r="2.3"/><circle cx="614.65" cy="152.72" r="2.3"/><circle cx="617.19" cy="150.64" r="2.3"/><circle cx="619.73" cy="148.57" r="2.3"/><circle cx="622.26" cy="147.53" r="2.3"/><circle cx="624.8" cy="150.13" r="2.3"/><circle cx="627.33" cy="151.68" r="2.3"/><circle cx="629.87" cy="157.18" r="2.3"/><circle cx="632.4" cy="169.1" r="2.3"/><circle cx="634.94" cy="151.68" r="2.3"/><circle cx="637.47" cy="147.53" r="2.3"/><circle cx="640" cy="141.31" r="2.3"/><circle cx="642.54" cy="140.27" r="2.3"/><circle cx="645.08" cy="140.27" r="2.3"/><circle cx="647.61" cy="148.57" r="2.3"/><circle cx="650.14" cy="146.5" r="2.3"/><circle cx="652.68" cy="155.83" r="2.3"/><circle cx="655.22" cy="148.57" r="2.3"/><circle cx="657.75" cy="146.5" r="2.3"/><circle cx="660.29" cy="150.64" r="2.3"/><circle cx="662.82" cy="147.53" r="2.3"/><circle cx="665.36" cy="145.46" r="2.3"/><circle cx="667.89" cy="144.42" r="2.3"/><circle cx="670.43" cy="142.35" r="2.3"/><circle cx="672.96" cy="133.74" r="2.3"/><circle cx="675.5" cy="144.84" r="2.3"/><circle cx="678.03" cy="146.5" r="2.3"/><circle cx="680.57" cy="142.35" r="2.3"/><circle cx="683.1" cy="146.5" r="2.3"/><circle cx="685.63" cy="148.57" r="2.3"/><circle cx="688.17" cy="153.03" r="2.3"/><circle cx="690.71" cy="130.53" r="2.3"/><circle cx="693.24" cy="141.31" r="2.3"/><circle cx="695.78" cy="141.31" r="2.3"/><circle cx="698.31" cy="127.31" r="2.3"/><circle cx="700.85" cy="135.4" r="2.3"/><circle cx="703.38" cy="158.21" r="2.3"/><circle cx="705.91" cy="142.35" r="2.3"/><circle cx="708.45" cy="140.79" r="2.3"/><circle cx="710.99" cy="121.82" r="2.3"/><circle cx="713.52" cy="140.17" r="2.3"/><circle cx="716.06" cy="142.35" r="2.3"/><circle cx="718.59" cy="145.46" r="2.3"/><circle cx="721.12" cy="131.36" r="2.3"/><circle cx="723.66" cy="137.16" r="2.3"/><circle cx="726.2" cy="139.55" r="2.3"/><circle cx="728.73" cy="138.2" r="2.3"/><circle cx="731.27" cy="129.59" r="2.3"/><circle cx="733.8" cy="144.42" r="2.3"/><circle cx="736.34" cy="136.13" r="2.3"/><circle cx="738.87" cy="133.74" r="2.3"/></g>
<path d="M434.67 128.45V122.23M430.87 122.23H438.47M437.21 133.22V127M433.41 127H441.01M439.74 135.09V128.87M435.94 128.87H443.54M442.28 137.16V130.94M438.48 130.94H446.08M444.81 135.09V128.87M441.01 128.87H448.61M447.35 136.13V129.9M443.55 129.9H451.15M449.88 138.2V131.98M446.08 131.98H453.68M452.42 134.05V127.83M448.62 127.83H456.22M454.95 130.22V123.99M451.15 123.99H458.75M457.49 130.94V124.72M453.69 124.72H461.29M460.02 133.01V126.79M456.22 126.79H463.82M462.56 131.46V125.24M458.75 125.24H466.36M465.09 135.09V128.87M461.29 128.87H468.89M467.62 138.2V131.98M463.82 131.98H471.43M470.16 137.16V130.94M466.36 130.94H473.96M472.7 139.24V133.01M468.9 133.01H476.5M475.23 136.13V129.9M471.43 129.9H479.03M477.76 139.24V133.01M473.96 133.01H481.56M480.3 142.35V136.13M476.5 136.13H484.1M482.84 145.98V139.76M479.04 139.76H486.64M485.37 135.09V128.87M481.57 128.87H489.17M487.91 140.27V134.05M484.11 134.05H491.71M490.44 138.2V131.98M486.64 131.98H494.24M492.98 139.55V133.33M489.18 133.33H496.78M495.51 133.74V127.52M491.71 127.52H499.31M498.05 138.2V131.98M494.25 131.98H501.85M500.58 140.27V134.05M496.78 134.05H504.38M503.12 145.46V139.24M499.31 139.24H506.92M505.65 149.61V143.38M501.85 143.38H509.45M508.19 155.83V149.61M504.38 149.61H511.99M510.72 155.83V149.61M506.92 149.61H514.52M513.25 148.57V137.16M509.45 137.16H517.05M515.79 152.72V141.31M511.99 141.31H519.59M518.33 150.64V139.24M514.53 139.24H522.12M520.86 142.35V130.94M517.06 130.94H524.66M523.39 136.54V125.13M519.6 125.13H527.19M525.93 138.93V127.52M522.13 127.52H529.73M528.47 129.9V118.5M524.67 118.5H532.26M531 122.64V111.24M527.2 111.24H534.8M533.54 119.53V108.13M529.74 108.13H537.34M536.07 114.35V102.94M532.27 102.94H539.87M538.61 113.31V101.91M534.81 101.91H542.4M541.14 112.27V100.87M537.34 100.87H544.94M543.68 105.02V93.61M539.88 93.61H547.48M546.21 103.98V92.57M542.41 92.57H550.01M548.75 101.91V90.5M544.95 90.5H552.54M551.28 95.68V82.2M547.48 82.2H555.08M553.82 100.87V89.46M550.02 89.46H557.62M556.35 99.83V89.46M552.55 89.46H560.15M558.88 107.09V95.68M555.09 95.68H562.68M561.42 115.39V103.98M557.62 103.98H565.22M563.96 119.02V107.61M560.16 107.61H567.75M566.49 126.07V114.66M562.69 114.66H570.29M569.03 127.83V116.42M565.23 116.42H572.83M571.56 126.07V114.66M567.76 114.66H575.36M574.1 126.79V115.39M570.3 115.39H577.89M576.63 134.78V123.37M572.83 123.37H580.43M579.16 138.93V127.52M575.37 127.52H582.96M581.7 140.27V128.87M577.9 128.87H585.5M584.24 141.31V129.9M580.44 129.9H588.03M586.77 145.46V134.05M582.97 134.05H590.57M589.31 142.97V134.16M585.51 134.16H593.11M591.84 137.16V128.35M588.04 128.35H595.64M594.38 143.38V134.57M590.58 134.57H598.17M596.91 146.5V137.68M593.11 137.68H600.71M599.45 144.42V135.61M595.65 135.61H603.25M601.98 148.57V139.76M598.18 139.76H605.78M604.51 145.46V136.64M600.72 136.64H608.31M607.05 149.61V140.79M603.25 140.79H610.85M609.59 147.53V138.72M605.79 138.72H613.38M612.12 148.57V139.76M608.32 139.76H615.92M614.65 149.61V140.79M610.86 140.79H618.45M617.19 150.13V141.31M613.39 141.31H620.99M619.73 147.53V138.72M615.93 138.72H623.52M622.26 145.46V136.64M618.46 136.64H626.06M624.8 140.27V131.46M621 131.46H628.6M627.33 135.5V126.69M623.53 126.69H631.13M629.87 134.36V125.55M626.07 125.55H633.66M632.4 138.2V129.39M628.6 129.39H636.2M634.94 136.13V127.31M631.14 127.31H638.74M637.47 139.03V130.22M633.67 130.22H641.27M640 140.27V131.46M636.21 131.46H643.8M642.54 141.31V132.5M638.74 132.5H646.34M645.08 140.27V131.46M641.28 131.46H648.88M647.61 142.35V133.53M643.81 133.53H651.41M650.14 144.42V135.61M646.35 135.61H653.94M652.68 144.42V135.61M648.88 135.61H656.48M655.22 147.53V138.72M651.42 138.72H659.01M657.75 148.05V139.24M653.95 139.24H661.55M660.29 150.64V141.83M656.49 141.83H664.09M662.82 152.72V143.9M659.02 143.9H666.62M665.36 156.55V147.74M661.56 147.74H669.15M667.89 163.5V154.69M664.09 154.69H671.69M670.43 162.05V153.75M666.63 153.75H674.23M672.96 158.21V149.92M669.16 149.92H676.76M675.5 163.5V155.21M671.7 155.21H679.29M678.03 165.89V157.59M674.23 157.59H681.83M680.57 161.01V152.72M676.77 152.72H684.37M683.1 164.64V156.35M679.3 156.35H686.9M685.63 165.89V157.59M681.84 157.59H689.43M688.17 167.03V158.73M684.37 158.73H691.97M690.71 159.46V151.16M686.91 151.16H694.5M693.24 158.94V150.64M689.44 150.64H697.04M695.78 157.7V149.4M691.98 149.4H699.58M698.31 150.64V142.35M694.51 142.35H702.11M700.85 155.31V147.01M697.05 147.01H704.64M703.38 157.7V149.4M699.58 149.4H707.18M705.91 152.41V144.11M702.12 144.11H709.71M708.45 151.68V143.38M704.65 143.38H712.25M710.99 150.64V142.35M707.19 142.35H714.78M713.52 149.61V141.31M709.72 141.31H717.32M716.06 148.57V140.27M712.26 140.27H719.86M718.59 149.61V141.31M714.79 141.31H722.39M721.12 152.72V144.42M717.33 144.42H724.92M723.66 155.31V147.01M719.86 147.01H727.46M726.2 161.01V152.72M722.4 152.72H730M728.73 162.36V154.07M724.93 154.07H732.53M731.27 156.55V148.26M727.47 148.26H735.07M733.8 159.46V151.16M730 151.16H737.6M736.34 151.68V143.38M732.54 143.38H740.13M738.87 155.83V147.53M735.07 147.53H742.67" stroke="#000" stroke-width="1" fill="none"/>
<path d="M434.67 128.45L437.21 133.22L439.74 135.09L442.28 137.16L444.81 135.09L447.35 136.13L449.88 138.2L452.42 134.05L454.95 130.22L457.49 130.94L460.02 133.01L462.56 131.46L465.09 135.09L467.62 138.2L470.16 137.16L472.7 139.24L475.23 136.13L477.76 139.24L480.3 142.35L482.84 145.98L485.37 135.09L487.91 140.27L490.44 138.2L492.98 139.55L495.51 133.74L498.05 138.2L500.58 140.27L503.12 145.46L505.65 149.61L508.19 155.83L510.72 155.83L513.25 148.57L515.79 152.72L518.33 150.64L520.86 142.35L523.39 136.54L525.93 138.93L528.47 129.9L531 122.64L533.54 119.53L536.07 114.35L538.61 113.31L541.14 112.27L543.68 105.02L546.21 103.98L548.75 101.91L551.28 95.68L553.82 100.87L556.35 99.83L558.88 107.09L561.42 115.39L563.96 119.02L566.49 126.07L569.03 127.83L571.56 126.07L574.1 126.79L576.63 134.78L579.16 138.93L581.7 140.27L584.24 141.31L586.77 145.46L589.31 142.97L591.84 137.16L594.38 143.38L596.91 146.5L599.45 144.42L601.98 148.57L604.51 145.46L607.05 149.61L609.59 147.53L612.12 148.57L614.65 149.61L617.19 150.13L619.73 147.53L622.26 145.46L624.8 140.27L627.33 135.5L629.87 134.36L632.4 138.2L634.94 136.13L637.47 139.03L640 140.27L642.54 141.31L645.08 140.27L647.61 142.35L650.14 144.42L652.68 144.42L655.22 147.53L657.75 148.05L660.29 150.64L662.82 152.72L665.36 156.55L667.89 163.5L670.43 162.05L672.96 158.21L675.5 163.5L678.03 165.89L680.57 161.01L683.1 164.64L685.63 165.89L688.17 167.03L690.71 159.46L693.24 158.94L695.78 157.7L698.31 150.64L700.85 155.31L703.38 157.7L705.91 152.41L708.45 151.68L710.99 150.64L713.52 149.61L716.06 148.57L718.59 149.61L721.12 152.72L723.66 155.31L726.2 161.01L728.73 162.36L731.27 156.55L733.8 159.46L736.34 151.68L738.87 155.83" stroke="#000" stroke-width="1" fill="none"/>
<g fill="#fff" stroke="#000" stroke-width="1.6"><circle cx="434.67" cy="128.45" r="2.2"/><circle cx="437.21" cy="133.22" r="2.2"/><circle cx="439.74" cy="135.09" r="2.2"/><circle cx="442.28" cy="137.16" r="2.2"/><circle cx="444.81" cy="135.09" r="2.2"/><circle cx="447.35" cy="136.13" r="2.2"/><circle cx="449.88" cy="138.2" r="2.2"/><circle cx="452.42" cy="134.05" r="2.2"/><circle cx="454.95" cy="130.22" r="2.2"/><circle cx="457.49" cy="130.94" r="2.2"/><circle cx="460.02" cy="133.01" r="2.2"/><circle cx="462.56" cy="131.46" r="2.2"/><circle cx="465.09" cy="135.09" r="2.2"/><circle cx="467.62" cy="138.2" r="2.2"/><circle cx="470.16" cy="137.16" r="2.2"/><circle cx="472.7" cy="139.24" r="2.2"/><circle cx="475.23" cy="136.13" r="2.2"/><circle cx="477.76" cy="139.24" r="2.2"/><circle cx="480.3" cy="142.35" r="2.2"/><circle cx="482.84" cy="145.98" r="2.2"/><circle cx="485.37" cy="135.09" r="2.2"/><circle cx="487.91" cy="140.27" r="2.2"/><circle cx="490.44" cy="138.2" r="2.2"/><circle cx="492.98" cy="139.55" r="2.2"/><circle cx="495.51" cy="133.74" r="2.2"/><circle cx="498.05" cy="138.2" r="2.2"/><circle cx="500.58" cy="140.27" r="2.2"/><circle cx="503.12" cy="145.46" r="2.2"/><circle cx="505.65" cy="149.61" r="2.2"/><circle cx="508.19" cy="155.83" r="2.2"/><circle cx="510.72" cy="155.83" r="2.2"/><circle cx="513.25" cy="148.57" r="2.2"/><circle cx="515.79" cy="152.72" r="2.2"/><circle cx="518.33" cy="150.64" r="2.2"/><circle cx="520.86" cy="142.35" r="2.2"/><circle cx="523.39" cy="136.54" r="2.2"/><circle cx="525.93" cy="138.93" r="2.2"/><circle cx="528.47" cy="129.9" r="2.2"/><circle cx="531" cy="122.64" r="2.2"/><circle cx="533.54" cy="119.53" r="2.2"/><circle cx="536.07" cy="114.35" r="2.2"/><circle cx="538.61" cy="113.31" r="2.2"/><circle cx="541.14" cy="112.27" r="2.2"/><circle cx="543.68" cy="105.02" r="2.2"/><circle cx="546.21" cy="103.98" r="2.2"/><circle cx="548.75" cy="101.91" r="2.2"/><circle cx="551.28" cy="95.68" r="2.2"/><circle cx="553.82" cy="100.87" r="2.2"/><circle cx="556.35" cy="99.83" r="2.2"/><circle cx="558.88" cy="107.09" r="2.2"/><circle cx="561.42" cy="115.39" r="2.2"/><circle cx="563.96" cy="119.02" r="2.2"/><circle cx="566.49" cy="126.07" r="2.2"/><circle cx="569.03" cy="127.83" r="2.2"/><circle cx="571.56" cy="126.07" r="2.2"/><circle cx="574.1" cy="126.79" r="2.2"/><circle cx="576.63" cy="134.78" r="2.2"/><circle cx="579.16" cy="138.93" r="2.2"/><circle cx="581.7" cy="140.27" r="2.2"/><circle cx="584.24" cy="141.31" r="2.2"/><circle cx="586.77" cy="145.46" r="2.2"/><circle cx="589.31" cy="142.97" r="2.2"/><circle cx="591.84" cy="137.16" r="2.2"/><circle cx="594.38" cy="143.38" r="2.2"/><circle cx="596.91" cy="146.5" r="2.2"/><circle cx="599.45" cy="144.42" r="2.2"/><circle cx="601.98" cy="148.57" r="2.2"/><circle cx="604.51" cy="145.46" r="2.2"/><circle cx="607.05" cy="149.61" r="2.2"/><circle cx="609.59" cy="147.53" r="2.2"/><circle cx="612.12" cy="148.57" r="2.2"/><circle cx="614.65" cy="149.61" r="2.2"/><circle cx="617.19" cy="150.13" r="2.2"/><circle cx="619.73" cy="147.53" r="2.2"/><circle cx="622.26" cy="145.46" r="2.2"/><circle cx="624.8" cy="140.27" r="2.2"/><circle cx="627.33" cy="135.5" r="2.2"/><circle cx="629.87" cy="134.36" r="2.2"/><circle cx="632.4" cy="138.2" r="2.2"/><circle cx="634.94" cy="136.13" r="2.2"/><circle cx="637.47" cy="139.03" r="2.2"/><circle cx="640" cy="140.27" r="2.2"/><circle cx="642.54" cy="141.31" r="2.2"/><circle cx="645.08" cy="140.27" r="2.2"/><circle cx="647.61" cy="142.35" r="2.2"/><circle cx="650.14" cy="144.42" r="2.2"/><circle cx="652.68" cy="144.42" r="2.2"/><circle cx="655.22" cy="147.53" r="2.2"/><circle cx="657.75" cy="148.05" r="2.2"/><circle cx="660.29" cy="150.64" r="2.2"/><circle cx="662.82" cy="152.72" r="2.2"/><circle cx="665.36" cy="156.55" r="2.2"/><circle cx="667.89" cy="163.5" r="2.2"/><circle cx="670.43" cy="162.05" r="2.2"/><circle cx="672.96" cy="158.21" r="2.2"/><circle cx="675.5" cy="163.5" r="2.2"/><circle cx="678.03" cy="165.89" r="2.2"/><circle cx="680.57" cy="161.01" r="2.2"/><circle cx="683.1" cy="164.64" r="2.2"/><circle cx="685.63" cy="165.89" r="2.2"/><circle cx="688.17" cy="167.03" r="2.2"/><circle cx="690.71" cy="159.46" r="2.2"/><circle cx="693.24" cy="158.94" r="2.2"/><circle cx="695.78" cy="157.7" r="2.2"/><circle cx="698.31" cy="150.64" r="2.2"/><circle cx="700.85" cy="155.31" r="2.2"/><circle cx="703.38" cy="157.7" r="2.2"/><circle cx="705.91" cy="152.41" r="2.2"/><circle cx="708.45" cy="151.68" r="2.2"/><circle cx="710.99" cy="150.64" r="2.2"/><circle cx="713.52" cy="149.61" r="2.2"/><circle cx="716.06" cy="148.57" r="2.2"/><circle cx="718.59" cy="149.61" r="2.2"/><circle cx="721.12" cy="152.72" r="2.2"/><circle cx="723.66" cy="155.31" r="2.2"/><circle cx="726.2" cy="161.01" r="2.2"/><circle cx="728.73" cy="162.36" r="2.2"/><circle cx="731.27" cy="156.55" r="2.2"/><circle cx="733.8" cy="159.46" r="2.2"/><circle cx="736.34" cy="151.68" r="2.2"/><circle cx="738.87" cy="155.83" r="2.2"/></g>
<rect x="513.3" y="43" width="76.2" height="204.4" fill="#a6a3a5" fill-opacity="0.55"/>
<rect x="594" y="43" width="75.8" height="204.4" fill="#a6a3a5" fill-opacity="0.55"/>
<path d="M511.7 48.1V245" stroke="#000" stroke-width="1.8" stroke-dasharray="5.9 5.3" fill="none"/>
<text x="0" y="0" font-size="13.3" fill="#1a1a1a" text-anchor="end" transform="translate(419 39.25) scale(1.25 1)" stroke="#1a1a1a" stroke-width="0.3">10</text>
<text x="0" y="0" font-size="13.3" fill="#1a1a1a" text-anchor="end" transform="translate(419 91.1) scale(1.25 1)" stroke="#1a1a1a" stroke-width="0.3">5</text>
<text x="0" y="0" font-size="13.3" fill="#1a1a1a" text-anchor="end" transform="translate(419 142.95) scale(1.25 1)" stroke="#1a1a1a" stroke-width="0.3">0</text>
<text x="0" y="0" font-size="13.3" fill="#1a1a1a" text-anchor="end" transform="translate(419 194.8) scale(1.25 1)" stroke="#1a1a1a" stroke-width="0.3">-5</text>
<text x="0" y="0" font-size="13.3" fill="#1a1a1a" text-anchor="end" transform="translate(419 246.65) scale(1.25 1)" stroke="#1a1a1a" stroke-width="0.3">-10</text>
<text x="0" y="0" font-size="13.3" fill="#1a1a1a" text-anchor="middle" transform="translate(433.9 268.6) scale(1.25 1)" stroke="#1a1a1a" stroke-width="0.3">0</text>
<text x="0" y="0" font-size="13.3" fill="#1a1a1a" text-anchor="middle" transform="translate(472.12 268.6) scale(1.25 1)" stroke="#1a1a1a" stroke-width="0.3">15</text>
<text x="0" y="0" font-size="13.3" fill="#1a1a1a" text-anchor="middle" transform="translate(510.34 268.6) scale(1.25 1)" stroke="#1a1a1a" stroke-width="0.3">30</text>
<text x="0" y="0" font-size="13.3" fill="#1a1a1a" text-anchor="middle" transform="translate(548.56 268.6) scale(1.25 1)" stroke="#1a1a1a" stroke-width="0.3">45</text>
<text x="0" y="0" font-size="13.3" fill="#1a1a1a" text-anchor="middle" transform="translate(586.78 268.6) scale(1.25 1)" stroke="#1a1a1a" stroke-width="0.3">60</text>
<text x="0" y="0" font-size="13.3" fill="#1a1a1a" text-anchor="middle" transform="translate(625 268.6) scale(1.25 1)" stroke="#1a1a1a" stroke-width="0.3">75</text>
<text x="0" y="0" font-size="13.3" fill="#1a1a1a" text-anchor="middle" transform="translate(663.22 268.6) scale(1.25 1)" stroke="#1a1a1a" stroke-width="0.3">90</text>
<text x="0" y="0" font-size="13.3" fill="#1a1a1a" text-anchor="middle" transform="translate(701.44 268.6) scale(1.25 1)" stroke="#1a1a1a" stroke-width="0.3">105</text>
<text x="0" y="0" font-size="13.3" fill="#1a1a1a" text-anchor="middle" transform="translate(739.66 268.6) scale(1.25 1)" stroke="#1a1a1a" stroke-width="0.3">120</text>
<text x="586.5" y="282.4" font-size="14" fill="#1a1a1a" text-anchor="middle" textLength="30.3" lengthAdjust="spacingAndGlyphs" stroke="#1a1a1a" stroke-width="0.3">Beat</text>
<text x="0" y="0" font-size="15.2" fill="#1a1a1a" text-anchor="middle" textLength="66" lengthAdjust="spacingAndGlyphs" transform="translate(403.5 138) rotate(-90)" stroke="#1a1a1a" stroke-width="0.3">% Change</text>
<text x="683" y="211.9" font-size="12.6" fill="#1a1a1a" textLength="8.6" lengthAdjust="spacingAndGlyphs" stroke="#1a1a1a" stroke-width="0.3">N</text>
<text x="692.9" y="215.2" font-size="7.7" fill="#1a1a1a" textLength="19.9" lengthAdjust="spacingAndGlyphs" stroke="#1a1a1a" stroke-width="0.3">MAP</text>
<text x="714.9" y="211.9" font-size="12.6" fill="#1a1a1a" textLength="26" lengthAdjust="spacingAndGlyphs" stroke="#1a1a1a" stroke-width="0.3">= 27</text>
<text x="683" y="230.4" font-size="12.6" fill="#1a1a1a" textLength="8.6" lengthAdjust="spacingAndGlyphs" stroke="#1a1a1a" stroke-width="0.3">N</text>
<text x="692.8" y="233.5" font-size="7.7" fill="#1a1a1a" textLength="15.3" lengthAdjust="spacingAndGlyphs" stroke="#1a1a1a" stroke-width="0.3">TOI</text>
<text x="709.5" y="230.4" font-size="12.6" fill="#1a1a1a" textLength="26" lengthAdjust="spacingAndGlyphs" stroke="#1a1a1a" stroke-width="0.3">= 24</text>
<text x="555.95" y="69.2" font-size="18.3" fill="#000" text-anchor="middle" class="dj" stroke="#000" stroke-width="0.4">*</text>
<text x="622.7" y="72.15" font-size="18.3" fill="#000" text-anchor="middle" class="dj" stroke="#000" stroke-width="0.4">*</text></g>
<g><g stroke="#b3b3b3" stroke-width="1.2" fill="none">
<path d="M40.8 349.4V556"/>
<path d="M34.9 349.4H40.8M34.9 401.05H40.8M34.9 452.7H40.8M34.9 504.35H40.8M34.9 556H40.8"/>
<path d="M40.8 452.7H353.96"/>
<path d="M40.7 452.7v4.5M79.69 452.7v4.5M118.67 452.7v4.5M157.66 452.7v4.5M196.64 452.7v4.5M235.62 452.7v4.5M274.61 452.7v4.5M313.6 452.7v4.5M352.58 452.7v4.5"/>
</g>
<path d="M43.5 452.7V448.57M40.2 448.57H46.8M46.12 449.6V445.47M42.82 445.47H49.42M48.74 450.63V446.5M45.44 446.5H52.04M51.36 455.8V451.67M48.06 451.67H54.66M53.98 454.77V450.63M50.68 450.63H57.28M56.6 456.83V452.7M53.3 452.7H59.9M59.22 450.63V446.5M55.92 446.5H62.52M61.84 451.67V447.53M58.54 447.53H65.14M64.46 455.8V451.67M61.16 451.67H67.76M67.08 449.6V445.47M63.78 445.47H70.38M69.7 450.63V446.5M66.4 446.5H73M72.32 454.77V450.63M69.02 450.63H75.62M74.94 451.67V447.53M71.64 447.53H78.24M77.56 448.57V444.44M74.26 444.44H80.86M80.18 449.6V445.47M76.88 445.47H83.48M82.8 453.73V449.6M79.5 449.6H86.1M85.42 451.67V447.53M82.12 447.53H88.72M88.04 449.6V445.47M84.74 445.47H91.34M90.66 453.73V449.6M87.36 449.6H93.96M93.28 456.83V452.7M89.98 452.7H96.58M95.9 452.7V448.57M92.6 448.57H99.2M98.52 450.63V446.5M95.22 446.5H101.82M101.14 455.8V451.67M97.84 451.67H104.44M103.76 457.87V453.73M100.46 453.73H107.06M106.38 454.77V450.63M103.08 450.63H109.68M109 451.67V447.53M105.7 447.53H112.3M111.62 452.7V448.57M108.32 448.57H114.92M114.24 456.83V452.7M110.94 452.7H117.54M116.86 451.67V447.53M113.56 447.53H120.16M119.48 449.6V445.47M116.18 445.47H122.78M122.1 447.53V443.4M118.8 443.4H125.4M124.72 448.57V442.89M121.42 442.89H128.02M127.34 447.15V441.47M124.04 441.47H130.64M129.96 447.53V441.85M126.66 441.85H133.26M132.58 446.52V440.84M129.28 440.84H135.88M135.2 442.99V438.34M131.9 438.34H138.5M137.82 447.53V441.85M134.52 441.85H141.12M140.44 448.16V442.48M137.14 442.48H143.74M143.06 449.6V443.92M139.76 443.92H146.36M145.68 446.74V441.06M142.38 441.06H148.98M148.3 445.47V439.79M145 439.79H151.6M150.92 444.44V438.75M147.62 438.75H154.22M153.54 446.5V440.82M150.24 440.82H156.84M156.16 449.6V443.92M152.86 443.92H159.46M158.78 451.35V445.67M155.48 445.67H162.08M161.4 450.63V444.95M158.1 444.95H164.7M164.02 451.6V445.91M160.72 445.91H167.32M166.64 451.67V445.99M163.34 445.99H169.94M169.26 453.34V447.66M165.96 447.66H172.56M171.88 455.8V450.12M168.58 450.12H175.18M174.5 456.11V450.43M171.2 450.43H177.8M177.12 458.9V453.22M173.82 453.22H180.42M179.74 458.61V452.92M176.44 452.92H183.04M182.36 460.96V455.28M179.06 455.28H185.66M184.98 462V456.32M181.68 456.32H188.28M187.6 462V456.32M184.3 456.32H190.9M190.22 461.15V455.47M186.92 455.47H193.52M192.84 460.96V455.28M189.54 455.28H196.14M195.46 461.53V455.85M192.16 455.85H198.76M198.08 463.03V457.35M194.78 457.35H201.38M200.7 463.03V457.35M197.4 457.35H204M203.32 462.67V453.89M200.02 453.89H206.62M205.94 464.58V455.8M202.64 455.8H209.24M208.56 462.76V453.98M205.26 453.98H211.86M211.18 462V453.22M207.88 453.22H214.48M213.8 463.3V454.52M210.5 454.52H217.1M216.42 464.06V455.28M213.12 455.28H219.72M219.04 462.89V454.11M215.74 454.11H222.34M221.66 462.51V453.73M218.36 453.73H224.96M224.28 462.55V453.77M220.98 453.77H227.58M226.9 460.96V452.18M223.6 452.18H230.2M229.52 454.25V446.5M226.22 446.5H232.82M232.14 454.77V446.71M228.84 446.71H235.44M234.76 453.73V445.67M231.46 445.67H238.06M237.38 454.25V446.19M234.08 446.19H240.68M240 455.53V447.48M236.7 447.48H243.3M242.62 454.77V446.71M239.32 446.71H245.92M245.24 453.73V445.67M241.94 445.67H248.54M247.86 455.28V447.23M244.56 447.23H251.16M250.48 456.36V448.3M247.18 448.3H253.78M253.1 455.8V447.74M249.8 447.74H256.4M255.72 457.87V451.15M252.42 451.15H259.02M258.34 456.83V450.12M255.04 450.12H261.64M260.96 457.67V450.96M257.66 450.96H264.26M263.58 458.38V451.67M260.28 451.67H266.88M266.2 456.32V449.6M262.9 449.6H269.5M268.82 455.8V447.53M265.52 447.53H272.12M271.44 454.77V447.53M268.14 447.53H274.74M274.06 457.87V451.15M270.76 451.15H277.36M276.68 456.47V449.75M273.38 449.75H279.98M279.3 455.8V449.08M276 449.08H282.6M281.92 456.32V450.13M278.62 450.13H285.22M284.54 454.77V448.57M281.24 448.57H287.84M287.16 453.13V446.93M283.86 446.93H290.46M289.78 452.7V446.5M286.48 446.5H293.08M292.4 452.98V446.78M289.1 446.78H295.7M295.02 455.8V449.6M291.72 449.6H298.32M297.64 459.2V453M294.34 453H300.94M300.26 461.27V455.08M296.96 455.08H303.56M302.88 454.77V448.57M299.58 448.57H306.18M305.5 451.67V443.4M302.2 443.4H308.8M308.12 454.01V447.81M304.82 447.81H311.42M310.74 453.73V447.53M307.44 447.53H314.04M313.36 453.28V447.09M310.06 447.09H316.66M315.98 451.67V445.47M312.68 445.47H319.28M318.6 454.95V448.76M315.3 448.76H321.9M321.22 455.8V449.6M317.92 449.6H324.52M323.84 464.06V457.87M320.54 457.87H327.14M326.46 457.87V451.67M323.16 451.67H329.76M329.08 454.77V448.57M325.78 448.57H332.38M331.7 456.07V449.87M328.4 449.87H335M334.32 455.8V449.6M331.02 449.6H337.62M336.94 453.39V447.19M333.64 447.19H340.24M339.56 452.7V446.5M336.26 446.5H342.86M342.18 454.58V448.38M338.88 448.38H345.48M344.8 454.77V448.57M341.5 448.57H348.1M347.42 451.92V445.72M344.12 445.72H350.72M350.04 450.12V441.65M346.74 441.65H353.34M352.66 453.73V447.53M349.36 447.53H355.96" stroke="#000" stroke-width="1.7" fill="none"/>
<path d="M43.5 452.7L46.12 449.6L48.74 450.63L51.36 455.8L53.98 454.77L56.6 456.83L59.22 450.63L61.84 451.67L64.46 455.8L67.08 449.6L69.7 450.63L72.32 454.77L74.94 451.67L77.56 448.57L80.18 449.6L82.8 453.73L85.42 451.67L88.04 449.6L90.66 453.73L93.28 456.83L95.9 452.7L98.52 450.63L101.14 455.8L103.76 457.87L106.38 454.77L109 451.67L111.62 452.7L114.24 456.83L116.86 451.67L119.48 449.6L122.1 447.53L124.72 448.57L127.34 447.15L129.96 447.53L132.58 446.52L135.2 442.99L137.82 447.53L140.44 448.16L143.06 449.6L145.68 446.74L148.3 445.47L150.92 444.44L153.54 446.5L156.16 449.6L158.78 451.35L161.4 450.63L164.02 451.6L166.64 451.67L169.26 453.34L171.88 455.8L174.5 456.11L177.12 458.9L179.74 458.61L182.36 460.96L184.98 462L187.6 462L190.22 461.15L192.84 460.96L195.46 461.53L198.08 463.03L200.7 463.03L203.32 462.67L205.94 464.58L208.56 462.76L211.18 462L213.8 463.3L216.42 464.06L219.04 462.89L221.66 462.51L224.28 462.55L226.9 460.96L229.52 454.25L232.14 454.77L234.76 453.73L237.38 454.25L240 455.53L242.62 454.77L245.24 453.73L247.86 455.28L250.48 456.36L253.1 455.8L255.72 457.87L258.34 456.83L260.96 457.67L263.58 458.38L266.2 456.32L268.82 455.8L271.44 454.77L274.06 457.87L276.68 456.47L279.3 455.8L281.92 456.32L284.54 454.77L287.16 453.13L289.78 452.7L292.4 452.98L295.02 455.8L297.64 459.2L300.26 461.27L302.88 454.77L305.5 451.67L308.12 454.01L310.74 453.73L313.36 453.28L315.98 451.67L318.6 454.95L321.22 455.8L323.84 464.06L326.46 457.87L329.08 454.77L331.7 456.07L334.32 455.8L336.94 453.39L339.56 452.7L342.18 454.58L344.8 454.77L347.42 451.92L350.04 450.12L352.66 453.73" stroke="#000" stroke-width="1" fill="none"/>
<g fill="#000"><circle cx="43.5" cy="452.7" r="2.3"/><circle cx="46.12" cy="449.6" r="2.3"/><circle cx="48.74" cy="450.63" r="2.3"/><circle cx="51.36" cy="455.8" r="2.3"/><circle cx="53.98" cy="454.77" r="2.3"/><circle cx="56.6" cy="456.83" r="2.3"/><circle cx="59.22" cy="450.63" r="2.3"/><circle cx="61.84" cy="451.67" r="2.3"/><circle cx="64.46" cy="455.8" r="2.3"/><circle cx="67.08" cy="449.6" r="2.3"/><circle cx="69.7" cy="450.63" r="2.3"/><circle cx="72.32" cy="454.77" r="2.3"/><circle cx="74.94" cy="451.67" r="2.3"/><circle cx="77.56" cy="448.57" r="2.3"/><circle cx="80.18" cy="449.6" r="2.3"/><circle cx="82.8" cy="453.73" r="2.3"/><circle cx="85.42" cy="451.67" r="2.3"/><circle cx="88.04" cy="449.6" r="2.3"/><circle cx="90.66" cy="453.73" r="2.3"/><circle cx="93.28" cy="456.83" r="2.3"/><circle cx="95.9" cy="452.7" r="2.3"/><circle cx="98.52" cy="450.63" r="2.3"/><circle cx="101.14" cy="455.8" r="2.3"/><circle cx="103.76" cy="457.87" r="2.3"/><circle cx="106.38" cy="454.77" r="2.3"/><circle cx="109" cy="451.67" r="2.3"/><circle cx="111.62" cy="452.7" r="2.3"/><circle cx="114.24" cy="456.83" r="2.3"/><circle cx="116.86" cy="451.67" r="2.3"/><circle cx="119.48" cy="449.6" r="2.3"/><circle cx="122.1" cy="447.53" r="2.3"/><circle cx="124.72" cy="448.57" r="2.3"/><circle cx="127.34" cy="447.15" r="2.3"/><circle cx="129.96" cy="447.53" r="2.3"/><circle cx="132.58" cy="446.52" r="2.3"/><circle cx="135.2" cy="442.99" r="2.3"/><circle cx="137.82" cy="447.53" r="2.3"/><circle cx="140.44" cy="448.16" r="2.3"/><circle cx="143.06" cy="449.6" r="2.3"/><circle cx="145.68" cy="446.74" r="2.3"/><circle cx="148.3" cy="445.47" r="2.3"/><circle cx="150.92" cy="444.44" r="2.3"/><circle cx="153.54" cy="446.5" r="2.3"/><circle cx="156.16" cy="449.6" r="2.3"/><circle cx="158.78" cy="451.35" r="2.3"/><circle cx="161.4" cy="450.63" r="2.3"/><circle cx="164.02" cy="451.6" r="2.3"/><circle cx="166.64" cy="451.67" r="2.3"/><circle cx="169.26" cy="453.34" r="2.3"/><circle cx="171.88" cy="455.8" r="2.3"/><circle cx="174.5" cy="456.11" r="2.3"/><circle cx="177.12" cy="458.9" r="2.3"/><circle cx="179.74" cy="458.61" r="2.3"/><circle cx="182.36" cy="460.96" r="2.3"/><circle cx="184.98" cy="462" r="2.3"/><circle cx="187.6" cy="462" r="2.3"/><circle cx="190.22" cy="461.15" r="2.3"/><circle cx="192.84" cy="460.96" r="2.3"/><circle cx="195.46" cy="461.53" r="2.3"/><circle cx="198.08" cy="463.03" r="2.3"/><circle cx="200.7" cy="463.03" r="2.3"/><circle cx="203.32" cy="462.67" r="2.3"/><circle cx="205.94" cy="464.58" r="2.3"/><circle cx="208.56" cy="462.76" r="2.3"/><circle cx="211.18" cy="462" r="2.3"/><circle cx="213.8" cy="463.3" r="2.3"/><circle cx="216.42" cy="464.06" r="2.3"/><circle cx="219.04" cy="462.89" r="2.3"/><circle cx="221.66" cy="462.51" r="2.3"/><circle cx="224.28" cy="462.55" r="2.3"/><circle cx="226.9" cy="460.96" r="2.3"/><circle cx="229.52" cy="454.25" r="2.3"/><circle cx="232.14" cy="454.77" r="2.3"/><circle cx="234.76" cy="453.73" r="2.3"/><circle cx="237.38" cy="454.25" r="2.3"/><circle cx="240" cy="455.53" r="2.3"/><circle cx="242.62" cy="454.77" r="2.3"/><circle cx="245.24" cy="453.73" r="2.3"/><circle cx="247.86" cy="455.28" r="2.3"/><circle cx="250.48" cy="456.36" r="2.3"/><circle cx="253.1" cy="455.8" r="2.3"/><circle cx="255.72" cy="457.87" r="2.3"/><circle cx="258.34" cy="456.83" r="2.3"/><circle cx="260.96" cy="457.67" r="2.3"/><circle cx="263.58" cy="458.38" r="2.3"/><circle cx="266.2" cy="456.32" r="2.3"/><circle cx="268.82" cy="455.8" r="2.3"/><circle cx="271.44" cy="454.77" r="2.3"/><circle cx="274.06" cy="457.87" r="2.3"/><circle cx="276.68" cy="456.47" r="2.3"/><circle cx="279.3" cy="455.8" r="2.3"/><circle cx="281.92" cy="456.32" r="2.3"/><circle cx="284.54" cy="454.77" r="2.3"/><circle cx="287.16" cy="453.13" r="2.3"/><circle cx="289.78" cy="452.7" r="2.3"/><circle cx="292.4" cy="452.98" r="2.3"/><circle cx="295.02" cy="455.8" r="2.3"/><circle cx="297.64" cy="459.2" r="2.3"/><circle cx="300.26" cy="461.27" r="2.3"/><circle cx="302.88" cy="454.77" r="2.3"/><circle cx="305.5" cy="451.67" r="2.3"/><circle cx="308.12" cy="454.01" r="2.3"/><circle cx="310.74" cy="453.73" r="2.3"/><circle cx="313.36" cy="453.28" r="2.3"/><circle cx="315.98" cy="451.67" r="2.3"/><circle cx="318.6" cy="454.95" r="2.3"/><circle cx="321.22" cy="455.8" r="2.3"/><circle cx="323.84" cy="464.06" r="2.3"/><circle cx="326.46" cy="457.87" r="2.3"/><circle cx="329.08" cy="454.77" r="2.3"/><circle cx="331.7" cy="456.07" r="2.3"/><circle cx="334.32" cy="455.8" r="2.3"/><circle cx="336.94" cy="453.39" r="2.3"/><circle cx="339.56" cy="452.7" r="2.3"/><circle cx="342.18" cy="454.58" r="2.3"/><circle cx="344.8" cy="454.77" r="2.3"/><circle cx="347.42" cy="451.92" r="2.3"/><circle cx="350.04" cy="450.12" r="2.3"/><circle cx="352.66" cy="453.73" r="2.3"/></g>
<path d="M43.5 451.55V447.94M40.2 447.94H46.8M46.12 450.62V447.01M42.82 447.01H49.42M48.74 449.44V445.82M45.44 445.82H52.04M51.36 449.97V446.35M48.06 446.35H54.66M53.98 449.54V445.92M50.68 445.92H57.28M56.6 449.24V445.62M53.3 445.62H59.9M59.22 449.96V446.34M55.92 446.34H62.52M61.84 450.79V447.17M58.54 447.17H65.14M64.46 448.85V445.23M61.16 445.23H67.76M67.08 448.37V444.76M63.78 444.76H70.38M69.7 447.87V444.25M66.4 444.25H73M72.32 445.94V442.32M69.02 442.32H75.62M74.94 446.46V442.84M71.64 442.84H78.24M77.56 444.94V441.33M74.26 441.33H80.86M80.18 442.36V438.74M76.88 438.74H83.48M82.8 444.43V440.82M79.5 440.82H86.1M85.42 446.83V443.21M82.12 443.21H88.72M88.04 448.56V444.95M84.74 444.95H91.34M90.66 449.61V445.99M87.36 445.99H93.96M93.28 451.84V448.22M89.98 448.22H96.58M95.9 451.49V447.87M92.6 447.87H99.2M98.52 452.58V448.97M95.22 448.97H101.82M101.14 454.89V451.27M97.84 451.27H104.44M103.76 454.87V451.25M100.46 451.25H107.06M106.38 456.12V452.51M103.08 452.51H109.68M109 457.72V454.1M105.7 454.1H112.3M111.62 458.6V454.98M108.32 454.98H114.92M114.24 460.18V456.57M110.94 456.57H117.54M116.86 460.15V456.53M113.56 456.53H120.16M119.48 457.35V453.74M116.18 453.74H122.78M122.1 458.22V454.61M118.8 454.61H125.4M124.72 457V453.38M121.42 453.38H128.02M127.34 461.13V457.52M124.04 457.52H130.64M129.96 461.58V457.97M126.66 457.97H133.26M132.58 461.28V457.66M129.28 457.66H135.88M135.2 456.09V452.48M131.9 452.48H138.5M137.82 454.67V451.06M134.52 451.06H141.12M140.44 445.12V437.37M137.14 437.37H143.74M143.06 436.26V428.52M139.76 428.52H146.36M145.68 431.28V423.53M142.38 423.53H148.98M148.3 427.2V419.45M145 419.45H151.6M150.92 425.6V417.86M147.62 417.86H154.22M153.54 427.91V420.16M150.24 420.16H156.84M156.16 433.72V425.97M152.86 425.97H159.46M158.78 441.49V433.74M155.48 433.74H162.08M161.4 437.11V429.36M158.1 429.36H164.7M164.02 443.82V436.07M160.72 436.07H167.32M166.64 448.16V440.41M163.34 440.41H169.94M169.26 456.01V448.26M165.96 448.26H172.56M171.88 459.48V454.83M168.58 454.83H175.18M174.5 460.56V455.91M171.2 455.91H177.8M177.12 461.78V457.14M173.82 457.14H180.42M179.74 468.72V464.07M176.44 464.07H183.04M182.36 468.05V463.4M179.06 463.4H185.66M184.98 468.22V463.57M181.68 463.57H188.28M187.6 467.67V463.02M184.3 463.02H190.9M190.22 467.01V462.36M186.92 462.36H193.52M192.84 467.75V463.1M189.54 463.1H196.14M195.46 468.52V463.88M192.16 463.88H198.76M198.08 469.46V464.81M194.78 464.81H201.38M200.7 468.13V460.9M197.4 460.9H204M203.32 467.64V460.4M200.02 460.4H206.62M205.94 469.12V461.89M202.64 461.89H209.24M208.56 469.97V462.74M205.26 462.74H211.86M211.18 469.07V461.84M207.88 461.84H214.48M213.8 469.43V462.2M210.5 462.2H217.1M216.42 468.68V461.45M213.12 461.45H219.72M219.04 470.69V463.45M215.74 463.45H222.34M221.66 468.85V461.62M218.36 461.62H224.96M224.28 471.36V464.13M220.98 464.13H227.58M226.9 470.19V462.96M223.6 462.96H230.2M229.52 470.21V462.97M226.22 462.97H232.82M232.14 470.34V463.11M228.84 463.11H235.44M234.76 468.6V461.37M231.46 461.37H238.06M237.38 468.89V461.66M234.08 461.66H240.68M240 469.78V462.55M236.7 462.55H243.3M242.62 469.34V462.11M239.32 462.11H245.92M245.24 469.13V461.9M241.94 461.9H248.54M247.86 470.79V463.56M244.56 463.56H251.16M250.48 470.75V463.52M247.18 463.52H253.78M253.1 469.58V462.35M249.8 462.35H256.4M255.72 468.92V461.69M252.42 461.69H259.02M258.34 469.43V462.2M255.04 462.2H261.64M260.96 469.33V462.1M257.66 462.1H264.26M263.58 468.9V461.67M260.28 461.67H266.88M266.2 469.11V461.88M262.9 461.88H269.5M268.82 467.74V460.51M265.52 460.51H272.12M271.44 467.55V460.32M268.14 460.32H274.74M274.06 468.88V461.65M270.76 461.65H277.36M276.68 470.16V462.93M273.38 462.93H279.98M279.3 469.09V461.86M276 461.86H282.6M281.92 469.76V464.6M278.62 464.6H285.22M284.54 471.51V466.34M281.24 466.34H287.84M287.16 472.46V467.3M283.86 467.3H290.46M289.78 472.4V467.23M286.48 467.23H293.08M292.4 470.94V465.78M289.1 465.78H295.7M295.02 470.06V464.89M291.72 464.89H298.32M297.64 474.75V469.58M294.34 469.58H300.94M300.26 474.84V469.67M296.96 469.67H303.56M302.88 475.51V470.35M299.58 470.35H306.18M305.5 475.69V470.52M302.2 470.52H308.8M308.12 476.94V471.78M304.82 471.78H311.42M310.74 478.96V473.8M307.44 473.8H314.04M313.36 479.56V474.4M310.06 474.4H316.66M315.98 477.82V472.66M312.68 472.66H319.28M318.6 477.02V471.85M315.3 471.85H321.9M321.22 477.08V471.91M317.92 471.91H324.52M323.84 476.74V471.58M320.54 471.58H327.14M326.46 476.44V471.28M323.16 471.28H329.76M329.08 475.78V470.61M325.78 470.61H332.38M331.7 476.77V471.6M328.4 471.6H335M334.32 472.99V467.83M331.02 467.83H337.62M336.94 474.84V469.68M333.64 469.68H340.24M339.56 467.84V462.67M336.26 462.67H342.86M342.18 470.12V464.96M338.88 464.96H345.48M344.8 471.16V465.99M341.5 465.99H348.1M347.42 465.29V460.12M344.12 460.12H350.72M350.04 469.93V464.77M346.74 464.77H353.34M352.66 467.68V462.51M349.36 462.51H355.96" stroke="#000" stroke-width="1.2" fill="none"/>
<path d="M43.5 451.55L46.12 450.62L48.74 449.44L51.36 449.97L53.98 449.54L56.6 449.24L59.22 449.96L61.84 450.79L64.46 448.85L67.08 448.37L69.7 447.87L72.32 445.94L74.94 446.46L77.56 444.94L80.18 442.36L82.8 444.43L85.42 446.83L88.04 448.56L90.66 449.61L93.28 451.84L95.9 451.49L98.52 452.58L101.14 454.89L103.76 454.87L106.38 456.12L109 457.72L111.62 458.6L114.24 460.18L116.86 460.15L119.48 457.35L122.1 458.22L124.72 457L127.34 461.13L129.96 461.58L132.58 461.28L135.2 456.09L137.82 454.67L140.44 445.12L143.06 436.26L145.68 431.28L148.3 427.2L150.92 425.6L153.54 427.91L156.16 433.72L158.78 441.49L161.4 437.11L164.02 443.82L166.64 448.16L169.26 456.01L171.88 459.48L174.5 460.56L177.12 461.78L179.74 468.72L182.36 468.05L184.98 468.22L187.6 467.67L190.22 467.01L192.84 467.75L195.46 468.52L198.08 469.46L200.7 468.13L203.32 467.64L205.94 469.12L208.56 469.97L211.18 469.07L213.8 469.43L216.42 468.68L219.04 470.69L221.66 468.85L224.28 471.36L226.9 470.19L229.52 470.21L232.14 470.34L234.76 468.6L237.38 468.89L240 469.78L242.62 469.34L245.24 469.13L247.86 470.79L250.48 470.75L253.1 469.58L255.72 468.92L258.34 469.43L260.96 469.33L263.58 468.9L266.2 469.11L268.82 467.74L271.44 467.55L274.06 468.88L276.68 470.16L279.3 469.09L281.92 469.76L284.54 471.51L287.16 472.46L289.78 472.4L292.4 470.94L295.02 470.06L297.64 474.75L300.26 474.84L302.88 475.51L305.5 475.69L308.12 476.94L310.74 478.96L313.36 479.56L315.98 477.82L318.6 477.02L321.22 477.08L323.84 476.74L326.46 476.44L329.08 475.78L331.7 476.77L334.32 472.99L336.94 474.84L339.56 467.84L342.18 470.12L344.8 471.16L347.42 465.29L350.04 469.93L352.66 467.68" stroke="#000" stroke-width="1" fill="none"/>
<g fill="#fff" stroke="#000" stroke-width="1.6"><circle cx="43.5" cy="451.55" r="2.2"/><circle cx="46.12" cy="450.62" r="2.2"/><circle cx="48.74" cy="449.44" r="2.2"/><circle cx="51.36" cy="449.97" r="2.2"/><circle cx="53.98" cy="449.54" r="2.2"/><circle cx="56.6" cy="449.24" r="2.2"/><circle cx="59.22" cy="449.96" r="2.2"/><circle cx="61.84" cy="450.79" r="2.2"/><circle cx="64.46" cy="448.85" r="2.2"/><circle cx="67.08" cy="448.37" r="2.2"/><circle cx="69.7" cy="447.87" r="2.2"/><circle cx="72.32" cy="445.94" r="2.2"/><circle cx="74.94" cy="446.46" r="2.2"/><circle cx="77.56" cy="444.94" r="2.2"/><circle cx="80.18" cy="442.36" r="2.2"/><circle cx="82.8" cy="444.43" r="2.2"/><circle cx="85.42" cy="446.83" r="2.2"/><circle cx="88.04" cy="448.56" r="2.2"/><circle cx="90.66" cy="449.61" r="2.2"/><circle cx="93.28" cy="451.84" r="2.2"/><circle cx="95.9" cy="451.49" r="2.2"/><circle cx="98.52" cy="452.58" r="2.2"/><circle cx="101.14" cy="454.89" r="2.2"/><circle cx="103.76" cy="454.87" r="2.2"/><circle cx="106.38" cy="456.12" r="2.2"/><circle cx="109" cy="457.72" r="2.2"/><circle cx="111.62" cy="458.6" r="2.2"/><circle cx="114.24" cy="460.18" r="2.2"/><circle cx="116.86" cy="460.15" r="2.2"/><circle cx="119.48" cy="457.35" r="2.2"/><circle cx="122.1" cy="458.22" r="2.2"/><circle cx="124.72" cy="457" r="2.2"/><circle cx="127.34" cy="461.13" r="2.2"/><circle cx="129.96" cy="461.58" r="2.2"/><circle cx="132.58" cy="461.28" r="2.2"/><circle cx="135.2" cy="456.09" r="2.2"/><circle cx="137.82" cy="454.67" r="2.2"/><circle cx="140.44" cy="445.12" r="2.2"/><circle cx="143.06" cy="436.26" r="2.2"/><circle cx="145.68" cy="431.28" r="2.2"/><circle cx="148.3" cy="427.2" r="2.2"/><circle cx="150.92" cy="425.6" r="2.2"/><circle cx="153.54" cy="427.91" r="2.2"/><circle cx="156.16" cy="433.72" r="2.2"/><circle cx="158.78" cy="441.49" r="2.2"/><circle cx="161.4" cy="437.11" r="2.2"/><circle cx="164.02" cy="443.82" r="2.2"/><circle cx="166.64" cy="448.16" r="2.2"/><circle cx="169.26" cy="456.01" r="2.2"/><circle cx="171.88" cy="459.48" r="2.2"/><circle cx="174.5" cy="460.56" r="2.2"/><circle cx="177.12" cy="461.78" r="2.2"/><circle cx="179.74" cy="468.72" r="2.2"/><circle cx="182.36" cy="468.05" r="2.2"/><circle cx="184.98" cy="468.22" r="2.2"/><circle cx="187.6" cy="467.67" r="2.2"/><circle cx="190.22" cy="467.01" r="2.2"/><circle cx="192.84" cy="467.75" r="2.2"/><circle cx="195.46" cy="468.52" r="2.2"/><circle cx="198.08" cy="469.46" r="2.2"/><circle cx="200.7" cy="468.13" r="2.2"/><circle cx="203.32" cy="467.64" r="2.2"/><circle cx="205.94" cy="469.12" r="2.2"/><circle cx="208.56" cy="469.97" r="2.2"/><circle cx="211.18" cy="469.07" r="2.2"/><circle cx="213.8" cy="469.43" r="2.2"/><circle cx="216.42" cy="468.68" r="2.2"/><circle cx="219.04" cy="470.69" r="2.2"/><circle cx="221.66" cy="468.85" r="2.2"/><circle cx="224.28" cy="471.36" r="2.2"/><circle cx="226.9" cy="470.19" r="2.2"/><circle cx="229.52" cy="470.21" r="2.2"/><circle cx="232.14" cy="470.34" r="2.2"/><circle cx="234.76" cy="468.6" r="2.2"/><circle cx="237.38" cy="468.89" r="2.2"/><circle cx="240" cy="469.78" r="2.2"/><circle cx="242.62" cy="469.34" r="2.2"/><circle cx="245.24" cy="469.13" r="2.2"/><circle cx="247.86" cy="470.79" r="2.2"/><circle cx="250.48" cy="470.75" r="2.2"/><circle cx="253.1" cy="469.58" r="2.2"/><circle cx="255.72" cy="468.92" r="2.2"/><circle cx="258.34" cy="469.43" r="2.2"/><circle cx="260.96" cy="469.33" r="2.2"/><circle cx="263.58" cy="468.9" r="2.2"/><circle cx="266.2" cy="469.11" r="2.2"/><circle cx="268.82" cy="467.74" r="2.2"/><circle cx="271.44" cy="467.55" r="2.2"/><circle cx="274.06" cy="468.88" r="2.2"/><circle cx="276.68" cy="470.16" r="2.2"/><circle cx="279.3" cy="469.09" r="2.2"/><circle cx="281.92" cy="469.76" r="2.2"/><circle cx="284.54" cy="471.51" r="2.2"/><circle cx="287.16" cy="472.46" r="2.2"/><circle cx="289.78" cy="472.4" r="2.2"/><circle cx="292.4" cy="470.94" r="2.2"/><circle cx="295.02" cy="470.06" r="2.2"/><circle cx="297.64" cy="474.75" r="2.2"/><circle cx="300.26" cy="474.84" r="2.2"/><circle cx="302.88" cy="475.51" r="2.2"/><circle cx="305.5" cy="475.69" r="2.2"/><circle cx="308.12" cy="476.94" r="2.2"/><circle cx="310.74" cy="478.96" r="2.2"/><circle cx="313.36" cy="479.56" r="2.2"/><circle cx="315.98" cy="477.82" r="2.2"/><circle cx="318.6" cy="477.02" r="2.2"/><circle cx="321.22" cy="477.08" r="2.2"/><circle cx="323.84" cy="476.74" r="2.2"/><circle cx="326.46" cy="476.44" r="2.2"/><circle cx="329.08" cy="475.78" r="2.2"/><circle cx="331.7" cy="476.77" r="2.2"/><circle cx="334.32" cy="472.99" r="2.2"/><circle cx="336.94" cy="474.84" r="2.2"/><circle cx="339.56" cy="467.84" r="2.2"/><circle cx="342.18" cy="470.12" r="2.2"/><circle cx="344.8" cy="471.16" r="2.2"/><circle cx="347.42" cy="465.29" r="2.2"/><circle cx="350.04" cy="469.93" r="2.2"/><circle cx="352.66" cy="467.68" r="2.2"/></g>
<rect x="123.2" y="358.4" width="76" height="202.4" fill="#a6a3a5" fill-opacity="0.55"/>
<rect x="279.2" y="358.4" width="75.9" height="202.4" fill="#a6a3a5" fill-opacity="0.55"/>
<path d="M120.5 361.2V558.2" stroke="#000" stroke-width="2" stroke-dasharray="5.9 5.3" fill="none"/>
<text x="0" y="0" font-size="13.3" fill="#1a1a1a" text-anchor="end" transform="translate(26.2 354.15) scale(1.25 1)" stroke="#1a1a1a" stroke-width="0.3">10</text>
<text x="0" y="0" font-size="13.3" fill="#1a1a1a" text-anchor="end" transform="translate(26.2 405.8) scale(1.25 1)" stroke="#1a1a1a" stroke-width="0.3">5</text>
<text x="0" y="0" font-size="13.3" fill="#1a1a1a" text-anchor="end" transform="translate(26.2 457.45) scale(1.25 1)" stroke="#1a1a1a" stroke-width="0.3">0</text>
<text x="0" y="0" font-size="13.3" fill="#1a1a1a" text-anchor="end" transform="translate(26.2 509.1) scale(1.25 1)" stroke="#1a1a1a" stroke-width="0.3">-5</text>
<text x="0" y="0" font-size="13.3" fill="#1a1a1a" text-anchor="end" transform="translate(26.2 560.75) scale(1.25 1)" stroke="#1a1a1a" stroke-width="0.3">-10</text>
<text x="0" y="0" font-size="13.3" fill="#1a1a1a" text-anchor="middle" transform="translate(40.7 581.85) scale(1.25 1)" stroke="#1a1a1a" stroke-width="0.3">0</text>
<text x="0" y="0" font-size="13.3" fill="#1a1a1a" text-anchor="middle" transform="translate(79.69 581.85) scale(1.25 1)" stroke="#1a1a1a" stroke-width="0.3">15</text>
<text x="0" y="0" font-size="13.3" fill="#1a1a1a" text-anchor="middle" transform="translate(118.67 581.85) scale(1.25 1)" stroke="#1a1a1a" stroke-width="0.3">30</text>
<text x="0" y="0" font-size="13.3" fill="#1a1a1a" text-anchor="middle" transform="translate(157.66 581.85) scale(1.25 1)" stroke="#1a1a1a" stroke-width="0.3">45</text>
<text x="0" y="0" font-size="13.3" fill="#1a1a1a" text-anchor="middle" transform="translate(196.64 581.85) scale(1.25 1)" stroke="#1a1a1a" stroke-width="0.3">60</text>
<text x="0" y="0" font-size="13.3" fill="#1a1a1a" text-anchor="middle" transform="translate(235.62 581.85) scale(1.25 1)" stroke="#1a1a1a" stroke-width="0.3">75</text>
<text x="0" y="0" font-size="13.3" fill="#1a1a1a" text-anchor="middle" transform="translate(274.61 581.85) scale(1.25 1)" stroke="#1a1a1a" stroke-width="0.3">90</text>
<text x="0" y="0" font-size="13.3" fill="#1a1a1a" text-anchor="middle" transform="translate(313.6 581.85) scale(1.25 1)" stroke="#1a1a1a" stroke-width="0.3">105</text>
<text x="0" y="0" font-size="13.3" fill="#1a1a1a" text-anchor="middle" transform="translate(352.58 581.85) scale(1.25 1)" stroke="#1a1a1a" stroke-width="0.3">120</text>
<text x="196.5" y="607.3" font-size="14" fill="#1a1a1a" text-anchor="middle" textLength="30.3" lengthAdjust="spacingAndGlyphs" stroke="#1a1a1a" stroke-width="0.3">Beat</text>
<text x="0" y="0" font-size="15.2" fill="#1a1a1a" text-anchor="middle" textLength="64.8" lengthAdjust="spacingAndGlyphs" transform="translate(14.6 452.2) rotate(-90)" stroke="#1a1a1a" stroke-width="0.3">% change</text>
<text x="295" y="532.4" font-size="12.6" fill="#1a1a1a" textLength="8.6" lengthAdjust="spacingAndGlyphs" stroke="#1a1a1a" stroke-width="0.3">N</text>
<text x="304.9" y="535.7" font-size="7.7" fill="#1a1a1a" textLength="19.9" lengthAdjust="spacingAndGlyphs" stroke="#1a1a1a" stroke-width="0.3">MAP</text>
<text x="328.1" y="532.4" font-size="12.6" fill="#1a1a1a" textLength="26" lengthAdjust="spacingAndGlyphs" stroke="#1a1a1a" stroke-width="0.3">= 25</text>
<text x="295" y="551.1" font-size="12.6" fill="#1a1a1a" textLength="8.6" lengthAdjust="spacingAndGlyphs" stroke="#1a1a1a" stroke-width="0.3">N</text>
<text x="304.8" y="554.2" font-size="7.7" fill="#1a1a1a" textLength="15.3" lengthAdjust="spacingAndGlyphs" stroke="#1a1a1a" stroke-width="0.3">TOI</text>
<text x="322.1" y="551.1" font-size="12.6" fill="#1a1a1a" textLength="26" lengthAdjust="spacingAndGlyphs" stroke="#1a1a1a" stroke-width="0.3">= 25</text>
<text x="155.3" y="384.1" font-size="18.3" fill="#000" text-anchor="middle" class="dj" stroke="#000" stroke-width="0.4">*</text>
<text x="0" y="0" font-size="18" fill="#000" text-anchor="middle" transform="translate(171.75 387) scale(0.9 1)" stroke="#000" stroke-width="0.55">#</text>
<text x="311.15" y="385.2" font-size="18.3" fill="#000" text-anchor="middle" class="dj" stroke="#000" stroke-width="0.4">*</text></g>
<g><g stroke="#b3b3b3" stroke-width="1.2" fill="none">
<path d="M420.4 360.7V567.3"/>
<path d="M414.5 360.7H420.4M414.5 412.35H420.4M414.5 464H420.4M414.5 515.65H420.4M414.5 567.3H420.4"/>
<path d="M420.4 464H732.99"/>
<path d="M420.3 464v4.5M459.3 464v4.5M498.3 464v4.5M537.3 464v4.5M576.3 464v4.5M615.3 464v4.5M654.3 464v4.5M693.3 464v4.5M732.3 464v4.5"/>
</g>
<path d="M423 462.45V455.74M419.7 455.74H426.3M425.62 461.93V455.22M422.32 455.22H428.92M428.23 462.97V456.25M424.93 456.25H431.53M430.85 476.4V469.68M427.55 469.68H434.15M433.46 466.07V459.35M430.16 459.35H436.76M436.08 465.03V458.32M432.78 458.32H439.38M438.7 467.1V460.38M435.4 460.38H442M441.31 464V457.29M438.01 457.29H444.61M443.93 466.07V459.35M440.63 459.35H447.23M446.54 467.1V460.38M443.24 460.38H449.84M449.16 466.07V459.35M445.86 459.35H452.46M451.78 479.5V472.78M448.48 472.78H455.08M454.39 467.1V460.38M451.09 460.38H457.69M457.01 464V457.29M453.71 457.29H460.31M459.62 465.03V458.32M456.32 458.32H462.92M462.24 462.97V456.25M458.94 456.25H465.54M464.86 460.9V454.19M461.56 454.19H468.16M467.47 458.83V451.09M464.17 451.09H470.77M470.09 455.74V447.99M466.79 447.99H473.39M472.7 453.67V445.92M469.4 445.92H476M475.32 452.64V444.89M472.02 444.89H478.62M477.94 454.7V446.96M474.64 446.96H481.24M480.55 457.8V450.05M477.25 450.05H483.85M483.17 458.83V451.09M479.87 451.09H486.47M485.78 459.87V452.12M482.48 452.12H489.08M488.4 460.9V453.15M485.1 453.15H491.7M491.02 458.83V451.09M487.72 451.09H494.32M493.63 457.8V450.05M490.33 450.05H496.93M496.25 453.67V445.92M492.95 445.92H499.55M498.86 454.7V446.96M495.56 446.96H502.16M501.48 453.67V445.92M498.18 445.92H504.78M504.1 457.8V447.99M500.8 447.99H507.4M506.71 458.83V449.02M503.41 449.02H510.01M509.33 456.77V446.96M506.03 446.96H512.63M511.94 459.87V450.05M508.64 450.05H515.24M514.56 458.83V449.02M511.26 449.02H517.86M517.18 461.93V452.12M513.88 452.12H520.48M519.79 469.17V457.29M516.49 457.29H523.09M522.41 471.23V459.35M519.11 459.35H525.71M525.02 471.23V459.35M521.72 459.35H528.32M527.64 468.13V456.25M524.34 456.25H530.94M530.26 474.85V462.97M526.96 462.97H533.56M532.87 471.23V459.35M529.57 459.35H536.17M535.49 469.17V457.29M532.19 457.29H538.79M538.1 477.22V465.34M534.8 465.34H541.4M540.72 470.2V458.32M537.42 458.32H544.02M543.34 467.1V455.22M540.04 455.22H546.64M545.95 466.07V454.19M542.65 454.19H549.25M548.57 471.23V459.35M545.27 459.35H551.87M551.18 467.1V455.22M547.88 455.22H554.48M553.8 469.68V457.8M550.5 457.8H557.1M556.42 469.17V457.29M553.12 457.29H559.72M559.03 465.03V453.15M555.73 453.15H562.33M561.65 467.1V455.22M558.35 455.22H564.95M564.26 469.17V457.29M560.96 457.29H567.56M566.88 466.07V451.09M563.58 451.09H570.18M569.5 467.1V455.22M566.2 455.22H572.8M572.11 461.93V450.05M568.81 450.05H575.41M574.73 464V452.12M571.43 452.12H578.03M577.34 460.9V449.02M574.04 449.02H580.64M579.96 460.9V449.02M576.66 449.02H583.26M582.58 461.93V449.54M579.28 449.54H585.88M585.19 466.07V453.67M581.89 453.67H588.49M587.81 468.13V455.74M584.51 455.74H591.11M590.42 469.17V456.77M587.12 456.77H593.72M593.04 481.04V471.75M589.74 471.75H596.34M595.66 470.2V460.9M592.36 460.9H598.96M598.27 469.17V459.87M594.97 459.87H601.57M600.89 472.26V462.97M597.59 462.97H604.19M603.5 470.2V460.9M600.2 460.9H606.8M606.12 469.17V459.87M602.82 459.87H609.42M608.74 471.23V461.93M605.44 461.93H612.04M611.35 468.13V458.83M608.05 458.83H614.65M613.97 470.2V460.9M610.67 460.9H617.27M616.58 484.04V474.74M613.28 474.74H619.88M619.2 472.26V462.97M615.9 462.97H622.5M621.82 469.17V459.87M618.52 459.87H625.12M624.43 467.1V453.67M621.13 453.67H627.73M627.05 470.2V456.77M623.75 456.77H630.35M629.66 468.13V454.7M626.36 454.7H632.96M632.28 466.07V452.64M628.98 452.64H635.58M634.9 469.17V446.44M631.6 446.44H638.2M637.51 471.23V457.8M634.21 457.8H640.81M640.13 467.1V453.67M636.83 453.67H643.43M642.74 466.07V452.64M639.44 452.64H646.04M645.36 469.17V445.41M642.06 445.41H648.66M647.98 472.26V458.83M644.68 458.83H651.28M650.59 468.13V454.7M647.29 454.7H653.89M653.21 470.2V456.77M649.91 456.77H656.51M655.82 467.1V453.67M652.52 453.67H659.12M658.44 469.17V455.74M655.14 455.74H661.74M661.06 467.1V453.15M657.76 453.15H664.36M663.67 468.13V454.19M660.37 454.19H666.97M666.29 466.07V452.12M662.99 452.12H669.59M668.9 478.98V465.03M665.6 465.03H672.2M671.52 474.85V460.9M668.22 460.9H674.82M674.14 467.1V453.15M670.84 453.15H677.44M676.75 466.07V452.12M673.45 452.12H680.05M679.37 472.57V458.63M676.07 458.63H682.67M681.98 470.2V456.25M678.68 456.25H685.28M684.6 464V450.05M681.3 450.05H687.9M687.22 459.87V445.92M683.92 445.92H690.52M689.83 458.83V444.89M686.53 444.89H693.13M692.45 467.1V453.15M689.15 453.15H695.75M695.06 474.33V460.38M691.76 460.38H698.36M697.68 475.36V461.42M694.38 461.42H700.98M700.3 477.43V463.48M697 463.48H703.6M702.91 474.33V460.38M699.61 460.38H706.21M705.53 476.4V462.45M702.23 462.45H708.83M708.14 473.3V459.35M704.84 459.35H711.44M710.76 474.33V460.38M707.46 460.38H714.06M713.38 483.11V469.17M710.08 469.17H716.68M715.99 478.46V464.52M712.69 464.52H719.29M718.61 483.63V469.68M715.31 469.68H721.91M721.22 481.56V467.62M717.92 467.62H724.52M723.84 480.53V466.58M720.54 466.58H727.14M726.46 478.98V465.03M723.16 465.03H729.76M729.07 471.23V457.29M725.77 457.29H732.37M731.69 465.76V450.78M728.39 450.78H734.99" stroke="#000" stroke-width="1.8" fill="none"/>
<path d="M423 462.45L425.62 461.93L428.23 462.97L430.85 476.4L433.46 466.07L436.08 465.03L438.7 467.1L441.31 464L443.93 466.07L446.54 467.1L449.16 466.07L451.78 479.5L454.39 467.1L457.01 464L459.62 465.03L462.24 462.97L464.86 460.9L467.47 458.83L470.09 455.74L472.7 453.67L475.32 452.64L477.94 454.7L480.55 457.8L483.17 458.83L485.78 459.87L488.4 460.9L491.02 458.83L493.63 457.8L496.25 453.67L498.86 454.7L501.48 453.67L504.1 457.8L506.71 458.83L509.33 456.77L511.94 459.87L514.56 458.83L517.18 461.93L519.79 469.17L522.41 471.23L525.02 471.23L527.64 468.13L530.26 474.85L532.87 471.23L535.49 469.17L538.1 477.22L540.72 470.2L543.34 467.1L545.95 466.07L548.57 471.23L551.18 467.1L553.8 469.68L556.42 469.17L559.03 465.03L561.65 467.1L564.26 469.17L566.88 466.07L569.5 467.1L572.11 461.93L574.73 464L577.34 460.9L579.96 460.9L582.58 461.93L585.19 466.07L587.81 468.13L590.42 469.17L593.04 481.04L595.66 470.2L598.27 469.17L600.89 472.26L603.5 470.2L606.12 469.17L608.74 471.23L611.35 468.13L613.97 470.2L616.58 484.04L619.2 472.26L621.82 469.17L624.43 467.1L627.05 470.2L629.66 468.13L632.28 466.07L634.9 469.17L637.51 471.23L640.13 467.1L642.74 466.07L645.36 469.17L647.98 472.26L650.59 468.13L653.21 470.2L655.82 467.1L658.44 469.17L661.06 467.1L663.67 468.13L666.29 466.07L668.9 478.98L671.52 474.85L674.14 467.1L676.75 466.07L679.37 472.57L681.98 470.2L684.6 464L687.22 459.87L689.83 458.83L692.45 467.1L695.06 474.33L697.68 475.36L700.3 477.43L702.91 474.33L705.53 476.4L708.14 473.3L710.76 474.33L713.38 483.11L715.99 478.46L718.61 483.63L721.22 481.56L723.84 480.53L726.46 478.98L729.07 471.23L731.69 465.76" stroke="#000" stroke-width="1" fill="none"/>
<g fill="#000"><circle cx="423" cy="462.45" r="2.3"/><circle cx="425.62" cy="461.93" r="2.3"/><circle cx="428.23" cy="462.97" r="2.3"/><circle cx="430.85" cy="476.4" r="2.3"/><circle cx="433.46" cy="466.07" r="2.3"/><circle cx="436.08" cy="465.03" r="2.3"/><circle cx="438.7" cy="467.1" r="2.3"/><circle cx="441.31" cy="464" r="2.3"/><circle cx="443.93" cy="466.07" r="2.3"/><circle cx="446.54" cy="467.1" r="2.3"/><circle cx="449.16" cy="466.07" r="2.3"/><circle cx="451.78" cy="479.5" r="2.3"/><circle cx="454.39" cy="467.1" r="2.3"/><circle cx="457.01" cy="464" r="2.3"/><circle cx="459.62" cy="465.03" r="2.3"/><circle cx="462.24" cy="462.97" r="2.3"/><circle cx="464.86" cy="460.9" r="2.3"/><circle cx="467.47" cy="458.83" r="2.3"/><circle cx="470.09" cy="455.74" r="2.3"/><circle cx="472.7" cy="453.67" r="2.3"/><circle cx="475.32" cy="452.64" r="2.3"/><circle cx="477.94" cy="454.7" r="2.3"/><circle cx="480.55" cy="457.8" r="2.3"/><circle cx="483.17" cy="458.83" r="2.3"/><circle cx="485.78" cy="459.87" r="2.3"/><circle cx="488.4" cy="460.9" r="2.3"/><circle cx="491.02" cy="458.83" r="2.3"/><circle cx="493.63" cy="457.8" r="2.3"/><circle cx="496.25" cy="453.67" r="2.3"/><circle cx="498.86" cy="454.7" r="2.3"/><circle cx="501.48" cy="453.67" r="2.3"/><circle cx="504.1" cy="457.8" r="2.3"/><circle cx="506.71" cy="458.83" r="2.3"/><circle cx="509.33" cy="456.77" r="2.3"/><circle cx="511.94" cy="459.87" r="2.3"/><circle cx="514.56" cy="458.83" r="2.3"/><circle cx="517.18" cy="461.93" r="2.3"/><circle cx="519.79" cy="469.17" r="2.3"/><circle cx="522.41" cy="471.23" r="2.3"/><circle cx="525.02" cy="471.23" r="2.3"/><circle cx="527.64" cy="468.13" r="2.3"/><circle cx="530.26" cy="474.85" r="2.3"/><circle cx="532.87" cy="471.23" r="2.3"/><circle cx="535.49" cy="469.17" r="2.3"/><circle cx="538.1" cy="477.22" r="2.3"/><circle cx="540.72" cy="470.2" r="2.3"/><circle cx="543.34" cy="467.1" r="2.3"/><circle cx="545.95" cy="466.07" r="2.3"/><circle cx="548.57" cy="471.23" r="2.3"/><circle cx="551.18" cy="467.1" r="2.3"/><circle cx="553.8" cy="469.68" r="2.3"/><circle cx="556.42" cy="469.17" r="2.3"/><circle cx="559.03" cy="465.03" r="2.3"/><circle cx="561.65" cy="467.1" r="2.3"/><circle cx="564.26" cy="469.17" r="2.3"/><circle cx="566.88" cy="466.07" r="2.3"/><circle cx="569.5" cy="467.1" r="2.3"/><circle cx="572.11" cy="461.93" r="2.3"/><circle cx="574.73" cy="464" r="2.3"/><circle cx="577.34" cy="460.9" r="2.3"/><circle cx="579.96" cy="460.9" r="2.3"/><circle cx="582.58" cy="461.93" r="2.3"/><circle cx="585.19" cy="466.07" r="2.3"/><circle cx="587.81" cy="468.13" r="2.3"/><circle cx="590.42" cy="469.17" r="2.3"/><circle cx="593.04" cy="481.04" r="2.3"/><circle cx="595.66" cy="470.2" r="2.3"/><circle cx="598.27" cy="469.17" r="2.3"/><circle cx="600.89" cy="472.26" r="2.3"/><circle cx="603.5" cy="470.2" r="2.3"/><circle cx="606.12" cy="469.17" r="2.3"/><circle cx="608.74" cy="471.23" r="2.3"/><circle cx="611.35" cy="468.13" r="2.3"/><circle cx="613.97" cy="470.2" r="2.3"/><circle cx="616.58" cy="484.04" r="2.3"/><circle cx="619.2" cy="472.26" r="2.3"/><circle cx="621.82" cy="469.17" r="2.3"/><circle cx="624.43" cy="467.1" r="2.3"/><circle cx="627.05" cy="470.2" r="2.3"/><circle cx="629.66" cy="468.13" r="2.3"/><circle cx="632.28" cy="466.07" r="2.3"/><circle cx="634.9" cy="469.17" r="2.3"/><circle cx="637.51" cy="471.23" r="2.3"/><circle cx="640.13" cy="467.1" r="2.3"/><circle cx="642.74" cy="466.07" r="2.3"/><circle cx="645.36" cy="469.17" r="2.3"/><circle cx="647.98" cy="472.26" r="2.3"/><circle cx="650.59" cy="468.13" r="2.3"/><circle cx="653.21" cy="470.2" r="2.3"/><circle cx="655.82" cy="467.1" r="2.3"/><circle cx="658.44" cy="469.17" r="2.3"/><circle cx="661.06" cy="467.1" r="2.3"/><circle cx="663.67" cy="468.13" r="2.3"/><circle cx="666.29" cy="466.07" r="2.3"/><circle cx="668.9" cy="478.98" r="2.3"/><circle cx="671.52" cy="474.85" r="2.3"/><circle cx="674.14" cy="467.1" r="2.3"/><circle cx="676.75" cy="466.07" r="2.3"/><circle cx="679.37" cy="472.57" r="2.3"/><circle cx="681.98" cy="470.2" r="2.3"/><circle cx="684.6" cy="464" r="2.3"/><circle cx="687.22" cy="459.87" r="2.3"/><circle cx="689.83" cy="458.83" r="2.3"/><circle cx="692.45" cy="467.1" r="2.3"/><circle cx="695.06" cy="474.33" r="2.3"/><circle cx="697.68" cy="475.36" r="2.3"/><circle cx="700.3" cy="477.43" r="2.3"/><circle cx="702.91" cy="474.33" r="2.3"/><circle cx="705.53" cy="476.4" r="2.3"/><circle cx="708.14" cy="473.3" r="2.3"/><circle cx="710.76" cy="474.33" r="2.3"/><circle cx="713.38" cy="483.11" r="2.3"/><circle cx="715.99" cy="478.46" r="2.3"/><circle cx="718.61" cy="483.63" r="2.3"/><circle cx="721.22" cy="481.56" r="2.3"/><circle cx="723.84" cy="480.53" r="2.3"/><circle cx="726.46" cy="478.98" r="2.3"/><circle cx="729.07" cy="471.23" r="2.3"/><circle cx="731.69" cy="465.76" r="2.3"/></g>
<path d="M423 466.87V462.74M419.7 462.74H426.3M425.62 468.92V464.79M422.32 464.79H428.92M428.23 469.54V465.4M424.93 465.4H431.53M430.85 467.56V463.42M427.55 463.42H434.15M433.46 467.13V462.99M430.16 462.99H436.76M436.08 467.84V463.71M432.78 463.71H439.38M438.7 467.84V463.71M435.4 463.71H442M441.31 469.85V465.72M438.01 465.72H444.61M443.93 469.84V465.71M440.63 465.71H447.23M446.54 470.98V466.84M443.24 466.84H449.84M449.16 469.63V465.5M445.86 465.5H452.46M451.78 470.5V466.37M448.48 466.37H455.08M454.39 468.91V464.78M451.09 464.78H457.69M457.01 467.72V463.59M453.71 463.59H460.31M459.62 465.82V461.69M456.32 461.69H462.92M462.24 467.02V462.89M458.94 462.89H465.54M464.86 469.63V465.5M461.56 465.5H468.16M467.47 466.43V462.3M464.17 462.3H470.77M470.09 461.84V457.7M466.79 457.7H473.39M472.7 459.65V455.52M469.4 455.52H476M475.32 457.3V453.16M472.02 453.16H478.62M477.94 456.88V452.74M474.64 452.74H481.24M480.55 457.03V452.9M477.25 452.9H483.85M483.17 458.51V454.38M479.87 454.38H486.47M485.78 458.08V453.95M482.48 453.95H489.08M488.4 463.24V459.11M485.1 459.11H491.7M491.02 462.61V458.48M487.72 458.48H494.32M493.63 461.57V457.44M490.33 457.44H496.93M496.25 453.61V449.48M492.95 449.48H499.55M498.86 455.56V451.43M495.56 451.43H502.16M501.48 458.33V454.2M498.18 454.2H504.78M504.1 463.62V459.49M500.8 459.49H507.4M506.71 457.74V453.61M503.41 453.61H510.01M509.33 459.09V454.95M506.03 454.95H512.63M511.94 466.06V461.93M508.64 461.93H515.24M514.56 456.68V452.55M511.26 452.55H517.86M517.18 453.85V449.72M513.88 449.72H520.48M519.79 451.61V442.83M516.49 442.83H523.09M522.41 447.91V439.13M519.11 439.13H525.71M525.02 445.48V436.7M521.72 436.7H528.32M527.64 436.49V427.71M524.34 427.71H530.94M530.26 428.8V420.02M526.96 420.02H533.56M532.87 435.53V426.75M529.57 426.75H536.17M535.49 446.58V437.8M532.19 437.8H538.79M538.1 440.52V431.74M534.8 431.74H541.4M540.72 452.05V443.27M537.42 443.27H544.02M543.34 446.27V437.49M540.04 437.49H546.64M545.95 446.6V437.82M542.65 437.82H549.25M548.57 454.48V445.7M545.27 445.7H551.87M551.18 456.99V448.21M547.88 448.21H554.48M553.8 456.98V448.2M550.5 448.2H557.1M556.42 461.38V452.6M553.12 452.6H559.72M559.03 457.15V448.37M555.73 448.37H562.33M561.65 460.7V451.92M558.35 451.92H564.95M564.26 459.62V450.84M560.96 450.84H567.56M566.88 453.49V444.71M563.58 444.71H570.18M569.5 459.38V450.6M566.2 450.6H572.8M572.11 463.62V454.84M568.81 454.84H575.41M574.73 457.33V448.54M571.43 448.54H578.03M577.34 461.1V452.32M574.04 452.32H580.64M579.96 458.03V449.25M576.66 449.25H583.26M582.58 459.64V454.47M579.28 454.47H585.88M585.19 461.12V455.95M581.89 455.95H588.49M587.81 460.91V455.74M584.51 455.74H591.11M590.42 466.53V461.37M587.12 461.37H593.72M593.04 469.74V464.58M589.74 464.58H596.34M595.66 473.74V468.58M592.36 468.58H598.96M598.27 473.04V467.87M594.97 467.87H601.57M600.89 475.67V470.5M597.59 470.5H604.19M603.5 477.81V472.65M600.2 472.65H606.8M606.12 473.77V468.61M602.82 468.61H609.42M608.74 471.53V466.37M605.44 466.37H612.04M611.35 473.71V468.54M608.05 468.54H614.65M613.97 477.74V472.57M610.67 472.57H617.27M616.58 479.24V474.07M613.28 474.07H619.88M619.2 476.57V471.4M615.9 471.4H622.5M621.82 473.64V468.48M618.52 468.48H625.12M624.43 473.37V468.2M621.13 468.2H627.73M627.05 479.88V474.72M623.75 474.72H630.35M629.66 484.46V479.29M626.36 479.29H632.96M632.28 480.43V475.26M628.98 475.26H635.58M634.9 474.72V469.56M631.6 469.56H638.2M637.51 473.16V467.99M634.21 467.99H640.81M640.13 474.71V469.54M636.83 469.54H643.43M642.74 477.6V472.43M639.44 472.43H646.04M645.36 473.76V468.6M642.06 468.6H648.66M647.98 471.44V466.28M644.68 466.28H651.28M650.59 474.31V469.15M647.29 469.15H653.89M653.21 472.94V467.78M649.91 467.78H656.51M655.82 474.05V468.88M652.52 468.88H659.12M658.44 471.88V466.71M655.14 466.71H661.74M661.06 468.95V463.79M657.76 463.79H664.36M663.67 470.34V465.17M660.37 465.17H666.97M666.29 469.29V464.13M662.99 464.13H669.59M668.9 486.72V476.39M665.6 476.39H672.2M671.52 482.27V471.94M668.22 471.94H674.82M674.14 478.16V467.83M670.84 467.83H677.44M676.75 482.55V472.22M673.45 472.22H680.05M679.37 490.08V479.75M676.07 479.75H682.67M681.98 498.84V488.51M678.68 488.51H685.28M684.6 500.24V489.91M681.3 489.91H687.9M687.22 496.69V486.36M683.92 486.36H690.52M689.83 495.72V485.39M686.53 485.39H693.13M692.45 488.32V477.99M689.15 477.99H695.75M695.06 491.66V481.33M691.76 481.33H698.36M697.68 490.63V480.3M694.38 480.3H700.98M700.3 491.91V481.58M697 481.58H703.6M702.91 489.93V479.6M699.61 479.6H706.21M705.53 492.48V482.15M702.23 482.15H708.83M708.14 487.63V477.3M704.84 477.3H711.44M710.76 497.47V487.14M707.46 487.14H714.06M713.38 501.58V491.25M710.08 491.25H716.68M715.99 504.7V494.37M712.69 494.37H719.29M718.61 493.46V483.13M715.31 483.13H721.91M721.22 488.11V477.78M717.92 477.78H724.52M723.84 488.9V478.57M720.54 478.57H727.14M726.46 489.85V479.52M723.16 479.52H729.76M729.07 492.18V481.85M725.77 481.85H732.37M731.69 483.45V473.12M728.39 473.12H734.99" stroke="#000" stroke-width="1.2" fill="none"/>
<path d="M423 466.87L425.62 468.92L428.23 469.54L430.85 467.56L433.46 467.13L436.08 467.84L438.7 467.84L441.31 469.85L443.93 469.84L446.54 470.98L449.16 469.63L451.78 470.5L454.39 468.91L457.01 467.72L459.62 465.82L462.24 467.02L464.86 469.63L467.47 466.43L470.09 461.84L472.7 459.65L475.32 457.3L477.94 456.88L480.55 457.03L483.17 458.51L485.78 458.08L488.4 463.24L491.02 462.61L493.63 461.57L496.25 453.61L498.86 455.56L501.48 458.33L504.1 463.62L506.71 457.74L509.33 459.09L511.94 466.06L514.56 456.68L517.18 453.85L519.79 451.61L522.41 447.91L525.02 445.48L527.64 436.49L530.26 428.8L532.87 435.53L535.49 446.58L538.1 440.52L540.72 452.05L543.34 446.27L545.95 446.6L548.57 454.48L551.18 456.99L553.8 456.98L556.42 461.38L559.03 457.15L561.65 460.7L564.26 459.62L566.88 453.49L569.5 459.38L572.11 463.62L574.73 457.33L577.34 461.1L579.96 458.03L582.58 459.64L585.19 461.12L587.81 460.91L590.42 466.53L593.04 469.74L595.66 473.74L598.27 473.04L600.89 475.67L603.5 477.81L606.12 473.77L608.74 471.53L611.35 473.71L613.97 477.74L616.58 479.24L619.2 476.57L621.82 473.64L624.43 473.37L627.05 479.88L629.66 484.46L632.28 480.43L634.9 474.72L637.51 473.16L640.13 474.71L642.74 477.6L645.36 473.76L647.98 471.44L650.59 474.31L653.21 472.94L655.82 474.05L658.44 471.88L661.06 468.95L663.67 470.34L666.29 469.29L668.9 486.72L671.52 482.27L674.14 478.16L676.75 482.55L679.37 490.08L681.98 498.84L684.6 500.24L687.22 496.69L689.83 495.72L692.45 488.32L695.06 491.66L697.68 490.63L700.3 491.91L702.91 489.93L705.53 492.48L708.14 487.63L710.76 497.47L713.38 501.58L715.99 504.7L718.61 493.46L721.22 488.11L723.84 488.9L726.46 489.85L729.07 492.18L731.69 483.45" stroke="#000" stroke-width="1" fill="none"/>
<g fill="#fff" stroke="#000" stroke-width="1.6"><circle cx="423" cy="466.87" r="2.2"/><circle cx="425.62" cy="468.92" r="2.2"/><circle cx="428.23" cy="469.54" r="2.2"/><circle cx="430.85" cy="467.56" r="2.2"/><circle cx="433.46" cy="467.13" r="2.2"/><circle cx="436.08" cy="467.84" r="2.2"/><circle cx="438.7" cy="467.84" r="2.2"/><circle cx="441.31" cy="469.85" r="2.2"/><circle cx="443.93" cy="469.84" r="2.2"/><circle cx="446.54" cy="470.98" r="2.2"/><circle cx="449.16" cy="469.63" r="2.2"/><circle cx="451.78" cy="470.5" r="2.2"/><circle cx="454.39" cy="468.91" r="2.2"/><circle cx="457.01" cy="467.72" r="2.2"/><circle cx="459.62" cy="465.82" r="2.2"/><circle cx="462.24" cy="467.02" r="2.2"/><circle cx="464.86" cy="469.63" r="2.2"/><circle cx="467.47" cy="466.43" r="2.2"/><circle cx="470.09" cy="461.84" r="2.2"/><circle cx="472.7" cy="459.65" r="2.2"/><circle cx="475.32" cy="457.3" r="2.2"/><circle cx="477.94" cy="456.88" r="2.2"/><circle cx="480.55" cy="457.03" r="2.2"/><circle cx="483.17" cy="458.51" r="2.2"/><circle cx="485.78" cy="458.08" r="2.2"/><circle cx="488.4" cy="463.24" r="2.2"/><circle cx="491.02" cy="462.61" r="2.2"/><circle cx="493.63" cy="461.57" r="2.2"/><circle cx="496.25" cy="453.61" r="2.2"/><circle cx="498.86" cy="455.56" r="2.2"/><circle cx="501.48" cy="458.33" r="2.2"/><circle cx="504.1" cy="463.62" r="2.2"/><circle cx="506.71" cy="457.74" r="2.2"/><circle cx="509.33" cy="459.09" r="2.2"/><circle cx="511.94" cy="466.06" r="2.2"/><circle cx="514.56" cy="456.68" r="2.2"/><circle cx="517.18" cy="453.85" r="2.2"/><circle cx="519.79" cy="451.61" r="2.2"/><circle cx="522.41" cy="447.91" r="2.2"/><circle cx="525.02" cy="445.48" r="2.2"/><circle cx="527.64" cy="436.49" r="2.2"/><circle cx="530.26" cy="428.8" r="2.2"/><circle cx="532.87" cy="435.53" r="2.2"/><circle cx="535.49" cy="446.58" r="2.2"/><circle cx="538.1" cy="440.52" r="2.2"/><circle cx="540.72" cy="452.05" r="2.2"/><circle cx="543.34" cy="446.27" r="2.2"/><circle cx="545.95" cy="446.6" r="2.2"/><circle cx="548.57" cy="454.48" r="2.2"/><circle cx="551.18" cy="456.99" r="2.2"/><circle cx="553.8" cy="456.98" r="2.2"/><circle cx="556.42" cy="461.38" r="2.2"/><circle cx="559.03" cy="457.15" r="2.2"/><circle cx="561.65" cy="460.7" r="2.2"/><circle cx="564.26" cy="459.62" r="2.2"/><circle cx="566.88" cy="453.49" r="2.2"/><circle cx="569.5" cy="459.38" r="2.2"/><circle cx="572.11" cy="463.62" r="2.2"/><circle cx="574.73" cy="457.33" r="2.2"/><circle cx="577.34" cy="461.1" r="2.2"/><circle cx="579.96" cy="458.03" r="2.2"/><circle cx="582.58" cy="459.64" r="2.2"/><circle cx="585.19" cy="461.12" r="2.2"/><circle cx="587.81" cy="460.91" r="2.2"/><circle cx="590.42" cy="466.53" r="2.2"/><circle cx="593.04" cy="469.74" r="2.2"/><circle cx="595.66" cy="473.74" r="2.2"/><circle cx="598.27" cy="473.04" r="2.2"/><circle cx="600.89" cy="475.67" r="2.2"/><circle cx="603.5" cy="477.81" r="2.2"/><circle cx="606.12" cy="473.77" r="2.2"/><circle cx="608.74" cy="471.53" r="2.2"/><circle cx="611.35" cy="473.71" r="2.2"/><circle cx="613.97" cy="477.74" r="2.2"/><circle cx="616.58" cy="479.24" r="2.2"/><circle cx="619.2" cy="476.57" r="2.2"/><circle cx="621.82" cy="473.64" r="2.2"/><circle cx="624.43" cy="473.37" r="2.2"/><circle cx="627.05" cy="479.88" r="2.2"/><circle cx="629.66" cy="484.46" r="2.2"/><circle cx="632.28" cy="480.43" r="2.2"/><circle cx="634.9" cy="474.72" r="2.2"/><circle cx="637.51" cy="473.16" r="2.2"/><circle cx="640.13" cy="474.71" r="2.2"/><circle cx="642.74" cy="477.6" r="2.2"/><circle cx="645.36" cy="473.76" r="2.2"/><circle cx="647.98" cy="471.44" r="2.2"/><circle cx="650.59" cy="474.31" r="2.2"/><circle cx="653.21" cy="472.94" r="2.2"/><circle cx="655.82" cy="474.05" r="2.2"/><circle cx="658.44" cy="471.88" r="2.2"/><circle cx="661.06" cy="468.95" r="2.2"/><circle cx="663.67" cy="470.34" r="2.2"/><circle cx="666.29" cy="469.29" r="2.2"/><circle cx="668.9" cy="486.72" r="2.2"/><circle cx="671.52" cy="482.27" r="2.2"/><circle cx="674.14" cy="478.16" r="2.2"/><circle cx="676.75" cy="482.55" r="2.2"/><circle cx="679.37" cy="490.08" r="2.2"/><circle cx="681.98" cy="498.84" r="2.2"/><circle cx="684.6" cy="500.24" r="2.2"/><circle cx="687.22" cy="496.69" r="2.2"/><circle cx="689.83" cy="495.72" r="2.2"/><circle cx="692.45" cy="488.32" r="2.2"/><circle cx="695.06" cy="491.66" r="2.2"/><circle cx="697.68" cy="490.63" r="2.2"/><circle cx="700.3" cy="491.91" r="2.2"/><circle cx="702.91" cy="489.93" r="2.2"/><circle cx="705.53" cy="492.48" r="2.2"/><circle cx="708.14" cy="487.63" r="2.2"/><circle cx="710.76" cy="497.47" r="2.2"/><circle cx="713.38" cy="501.58" r="2.2"/><circle cx="715.99" cy="504.7" r="2.2"/><circle cx="718.61" cy="493.46" r="2.2"/><circle cx="721.22" cy="488.11" r="2.2"/><circle cx="723.84" cy="488.9" r="2.2"/><circle cx="726.46" cy="489.85" r="2.2"/><circle cx="729.07" cy="492.18" r="2.2"/><circle cx="731.69" cy="483.45" r="2.2"/></g>
<rect x="505.2" y="361" width="76.2" height="203.4" fill="#a6a3a5" fill-opacity="0.55"/>
<rect x="659.1" y="361" width="75.9" height="203.4" fill="#a6a3a5" fill-opacity="0.55"/>
<path d="M503.5 367.4V563.7" stroke="#000" stroke-width="1.5" stroke-dasharray="5.9 5.3" fill="none"/>
<text x="0" y="0" font-size="13.3" fill="#1a1a1a" text-anchor="end" transform="translate(405.8 365.45) scale(1.25 1)" stroke="#1a1a1a" stroke-width="0.3">10</text>
<text x="0" y="0" font-size="13.3" fill="#1a1a1a" text-anchor="end" transform="translate(405.8 417.1) scale(1.25 1)" stroke="#1a1a1a" stroke-width="0.3">5</text>
<text x="0" y="0" font-size="13.3" fill="#1a1a1a" text-anchor="end" transform="translate(405.8 468.75) scale(1.25 1)" stroke="#1a1a1a" stroke-width="0.3">0</text>
<text x="0" y="0" font-size="13.3" fill="#1a1a1a" text-anchor="end" transform="translate(405.8 520.4) scale(1.25 1)" stroke="#1a1a1a" stroke-width="0.3">-5</text>
<text x="0" y="0" font-size="13.3" fill="#1a1a1a" text-anchor="end" transform="translate(405.8 572.05) scale(1.25 1)" stroke="#1a1a1a" stroke-width="0.3">-10</text>
<text x="0" y="0" font-size="13.3" fill="#1a1a1a" text-anchor="middle" transform="translate(420.3 594.05) scale(1.25 1)" stroke="#1a1a1a" stroke-width="0.3">0</text>
<text x="0" y="0" font-size="13.3" fill="#1a1a1a" text-anchor="middle" transform="translate(459.3 594.05) scale(1.25 1)" stroke="#1a1a1a" stroke-width="0.3">15</text>
<text x="0" y="0" font-size="13.3" fill="#1a1a1a" text-anchor="middle" transform="translate(498.3 594.05) scale(1.25 1)" stroke="#1a1a1a" stroke-width="0.3">30</text>
<text x="0" y="0" font-size="13.3" fill="#1a1a1a" text-anchor="middle" transform="translate(537.3 594.05) scale(1.25 1)" stroke="#1a1a1a" stroke-width="0.3">45</text>
<text x="0" y="0" font-size="13.3" fill="#1a1a1a" text-anchor="middle" transform="translate(576.3 594.05) scale(1.25 1)" stroke="#1a1a1a" stroke-width="0.3">60</text>
<text x="0" y="0" font-size="13.3" fill="#1a1a1a" text-anchor="middle" transform="translate(615.3 594.05) scale(1.25 1)" stroke="#1a1a1a" stroke-width="0.3">75</text>
<text x="0" y="0" font-size="13.3" fill="#1a1a1a" text-anchor="middle" transform="translate(654.3 594.05) scale(1.25 1)" stroke="#1a1a1a" stroke-width="0.3">90</text>
<text x="0" y="0" font-size="13.3" fill="#1a1a1a" text-anchor="middle" transform="translate(693.3 594.05) scale(1.25 1)" stroke="#1a1a1a" stroke-width="0.3">105</text>
<text x="0" y="0" font-size="13.3" fill="#1a1a1a" text-anchor="middle" transform="translate(732.3 594.05) scale(1.25 1)" stroke="#1a1a1a" stroke-width="0.3">120</text>
<text x="575.8" y="611.5" font-size="14" fill="#1a1a1a" text-anchor="middle" textLength="30.3" lengthAdjust="spacingAndGlyphs" stroke="#1a1a1a" stroke-width="0.3">Beat</text>
<text x="0" y="0" font-size="15.2" fill="#1a1a1a" text-anchor="middle" textLength="66.8" lengthAdjust="spacingAndGlyphs" transform="translate(394.7 464.5) rotate(-90)" stroke="#1a1a1a" stroke-width="0.3">% Change</text>
<text x="674.4" y="540.5" font-size="12.6" fill="#1a1a1a" textLength="8.6" lengthAdjust="spacingAndGlyphs" stroke="#1a1a1a" stroke-width="0.3">N</text>
<text x="684.3" y="543.8" font-size="7.7" fill="#1a1a1a" textLength="19.9" lengthAdjust="spacingAndGlyphs" stroke="#1a1a1a" stroke-width="0.3">MAP</text>
<text x="707.4" y="540.5" font-size="12.6" fill="#1a1a1a" textLength="26" lengthAdjust="spacingAndGlyphs" stroke="#1a1a1a" stroke-width="0.3">= 18</text>
<text x="674.4" y="559.7" font-size="12.6" fill="#1a1a1a" textLength="8.6" lengthAdjust="spacingAndGlyphs" stroke="#1a1a1a" stroke-width="0.3">N</text>
<text x="684.2" y="562.8" font-size="7.7" fill="#1a1a1a" textLength="15.3" lengthAdjust="spacingAndGlyphs" stroke="#1a1a1a" stroke-width="0.3">TOI</text>
<text x="701.5" y="559.7" font-size="12.6" fill="#1a1a1a" textLength="26" lengthAdjust="spacingAndGlyphs" stroke="#1a1a1a" stroke-width="0.3">= 18</text>
<text x="531.85" y="387" font-size="18.3" fill="#000" text-anchor="middle" class="dj" stroke="#000" stroke-width="0.4">*</text>
<text x="0" y="0" font-size="18" fill="#000" text-anchor="middle" transform="translate(548.2 390.05) scale(0.9 1)" stroke="#000" stroke-width="0.55">#</text>
<text x="685.95" y="392.4" font-size="18.3" fill="#000" text-anchor="middle" class="dj" stroke="#000" stroke-width="0.4">*</text></g>
<g><g stroke="#b3b3b3" stroke-width="1.2" fill="none">
<path d="M38.8 682.2V895"/>
<path d="M32.9 682.2H38.8M32.9 735.4H38.8M32.9 788.6H38.8M32.9 841.8H38.8M32.9 895H38.8"/>
<path d="M38.8 788.6H354.36"/>
<path d="M38.3 788.6v4.5M77.53 788.6v4.5M116.75 788.6v4.5M155.98 788.6v4.5M195.2 788.6v4.5M234.43 788.6v4.5M273.65 788.6v4.5M312.88 788.6v4.5M352.1 788.6v4.5"/>
</g>
<path d="M40.7 789.88V784.02M37.4 784.02H44M43.3 785.41V779.56M40 779.56H46.6M45.91 790.73V784.88M42.61 784.88H49.21M48.51 796.37V790.52M45.21 790.52H51.81M51.11 789.66V783.81M47.81 783.81H54.41M53.72 793.39V787.54M50.42 787.54H57.02M56.32 787.54V781.68M53.02 781.68H59.62M58.92 786.47V780.62M55.62 780.62H62.22M61.52 789.66V783.81M58.22 783.81H64.82M64.13 792.32V786.47M60.83 786.47H67.43M66.73 796.37V790.52M63.43 790.52H70.03M69.33 790.73V784.88M66.03 784.88H72.63M71.94 788.6V782.75M68.64 782.75H75.24M74.54 792.32V786.47M71.24 786.47H77.84M77.14 790.73V784.88M73.84 784.88H80.44M79.75 788.6V782.75M76.45 782.75H83.05M82.35 791.79V785.94M79.05 785.94H85.65M84.95 799.24V793.39M81.65 793.39H88.25M87.55 790.73V784.88M84.25 784.88H90.85M90.16 784.34V775.41M86.86 775.41H93.46M92.76 785.41V779.56M89.46 779.56H96.06M95.36 783.81V777.96M92.06 777.96H98.66M97.97 786.47V780.62M94.67 780.62H101.27M100.57 782.22V776.36M97.27 776.36H103.87M103.17 783.28V777.43M99.87 777.43H106.47M105.78 781.15V775.3M102.48 775.3H109.08M108.38 780.09V774.24M105.08 774.24H111.68M110.98 782.22V776.36M107.68 776.36H114.28M113.58 783.28V777.43M110.28 777.43H116.88M116.19 776.9V771.04M112.89 771.04H119.49M118.79 779.02V773.17M115.49 773.17H122.09M121.39 777.96V768.92M118.09 768.92H124.69M124 777.96V768.92M120.7 768.92H127.3M126.6 773.38V764.34M123.3 764.34H129.9M129.2 769.87V760.83M125.9 760.83H132.5M131.81 777.43V768.38M128.5 768.38H135.11M134.41 786.47V777.43M131.11 777.43H137.71M137.01 783.28V774.24M133.71 774.24H140.31M139.61 783.81V774.77M136.31 774.77H142.91M142.22 780.41V771.36M138.92 771.36H145.52M144.82 768.7V759.66M141.52 759.66H148.12M147.42 780.41V771.36M144.12 771.36H150.72M150.03 780.09V771.04M146.73 771.04H153.33M152.63 780.41V771.36M149.33 771.36H155.93M155.23 783.28V774.24M151.93 774.24H158.53M157.84 786.9V777.85M154.53 777.85H161.14M160.44 783.28V774.24M157.14 774.24H163.74M163.04 791.05V782M159.74 782H166.34M165.64 798.18V789.13M162.34 789.13H168.94M168.25 793.39V784.34M164.95 784.34H171.55M170.85 803.92V794.88M167.55 794.88H174.15M173.45 798.71V789.66M170.15 789.66H176.75M176.06 808.07V799.03M172.76 799.03H179.36M178.66 805.09V796.05M175.36 796.05H181.96M181.26 812.01V802.96M177.96 802.96H184.56M183.87 822.65V813.6M180.56 813.6H187.17M186.47 821.05V812.01M183.17 812.01H189.77M189.07 818.71V809.67M185.77 809.67H192.37M191.67 816.8V807.75M188.37 807.75H194.97M194.28 825.1V816.05M190.98 816.05H197.58M196.88 821.58V812.54M193.58 812.54H200.18M199.48 821.05V811.48M196.18 811.48H202.78M202.09 819.46V809.88M198.79 809.88H205.39M204.69 818.18V808.6M201.39 808.6H207.99M207.29 817.33V807.75M203.99 807.75H210.59M209.9 818.18V808.6M206.6 808.6H213.2M212.5 816.26V806.69M209.2 806.69H215.8M215.1 819.46V809.88M211.8 809.88H218.4M217.7 815.2V805.62M214.4 805.62H221M220.31 812.01V802.43M217.01 802.43H223.61M222.91 809.88V800.3M219.61 800.3H226.21M225.51 808.28V798.71M222.21 798.71H228.81M228.12 810.94V801.37M224.82 801.37H231.42M230.72 815.73V806.16M227.42 806.16H234.02M233.32 815.2V805.62M230.02 805.62H236.62M235.93 811.69V802.11M232.62 802.11H239.23M238.53 805.62V796.05M235.23 796.05H241.83M241.13 801.37V791.79M237.83 791.79H244.43M243.73 808.82V799.24M240.43 799.24H247.03M246.34 804.56V794.98M243.04 794.98H249.64M248.94 803.5V793.92M245.64 793.92H252.24M251.54 799.24V789.66M248.24 789.66H254.84M254.15 797.11V787.54M250.85 787.54H257.45M256.75 798.18V788.6M253.45 788.6H260.05M259.35 804.56V794.98M256.05 794.98H262.65M261.96 798.18V788.6M258.66 788.6H265.26M264.56 797.64V788.07M261.26 788.07H267.86M267.16 804.56V794.98M263.86 794.98H270.46M269.76 794.98V785.41M266.46 785.41H273.06M272.37 792.86V783.28M269.07 783.28H275.67M274.97 793.92V784.34M271.67 784.34H278.27M277.57 791.79V777.96M274.27 777.96H280.87M280.18 793.92V787.54M276.88 787.54H283.48M282.78 796.05V789.66M279.48 789.66H286.08M285.38 798.71V792.32M282.08 792.32H288.68M287.99 794.98V788.6M284.69 788.6H291.29M290.59 792.86V786.47M287.29 786.47H293.89M293.19 798.18V791.79M289.89 791.79H296.49M295.79 794.98V788.6M292.49 788.6H299.09M298.4 791.79V785.41M295.1 785.41H301.7M301 788.6V777.96M297.7 777.96H304.3M303.6 793.92V787.54M300.3 787.54H306.9M306.21 796.05V789.66M302.91 789.66H309.51M308.81 792.86V786.47M305.51 786.47H312.11M311.41 789.66V780.62M308.11 780.62H314.71M314.01 793.92V787.54M310.71 787.54H317.31M316.62 796.05V789.66M313.32 789.66H319.92M319.22 794.98V788.6M315.92 788.6H322.52M321.82 797.11V790.73M318.52 790.73H325.12M324.43 794.98V788.6M321.13 788.6H327.73M327.03 792.86V786.47M323.73 786.47H330.33M329.63 796.05V785.41M326.33 785.41H332.93M332.24 806.37V799.98M328.94 799.98H335.54M334.84 797.11V790.73M331.54 790.73H338.14M337.44 802.22V795.84M334.14 795.84H340.74M340.05 798.18V791.79M336.75 791.79H343.35M342.65 796.05V789.66M339.35 789.66H345.95M345.25 798.18V791.79M341.95 791.79H348.55M347.85 801.37V794.98M344.55 794.98H351.15M350.46 805.62V799.24M347.16 799.24H353.76M353.06 808.82V802.43M349.76 802.43H356.36" stroke="#000" stroke-width="1.9" fill="none"/>
<path d="M40.7 789.88L43.3 785.41L45.91 790.73L48.51 796.37L51.11 789.66L53.72 793.39L56.32 787.54L58.92 786.47L61.52 789.66L64.13 792.32L66.73 796.37L69.33 790.73L71.94 788.6L74.54 792.32L77.14 790.73L79.75 788.6L82.35 791.79L84.95 799.24L87.55 790.73L90.16 784.34L92.76 785.41L95.36 783.81L97.97 786.47L100.57 782.22L103.17 783.28L105.78 781.15L108.38 780.09L110.98 782.22L113.58 783.28L116.19 776.9L118.79 779.02L121.39 777.96L124 777.96L126.6 773.38L129.2 769.87L131.81 777.43L134.41 786.47L137.01 783.28L139.61 783.81L142.22 780.41L144.82 768.7L147.42 780.41L150.03 780.09L152.63 780.41L155.23 783.28L157.84 786.9L160.44 783.28L163.04 791.05L165.64 798.18L168.25 793.39L170.85 803.92L173.45 798.71L176.06 808.07L178.66 805.09L181.26 812.01L183.87 822.65L186.47 821.05L189.07 818.71L191.67 816.8L194.28 825.1L196.88 821.58L199.48 821.05L202.09 819.46L204.69 818.18L207.29 817.33L209.9 818.18L212.5 816.26L215.1 819.46L217.7 815.2L220.31 812.01L222.91 809.88L225.51 808.28L228.12 810.94L230.72 815.73L233.32 815.2L235.93 811.69L238.53 805.62L241.13 801.37L243.73 808.82L246.34 804.56L248.94 803.5L251.54 799.24L254.15 797.11L256.75 798.18L259.35 804.56L261.96 798.18L264.56 797.64L267.16 804.56L269.76 794.98L272.37 792.86L274.97 793.92L277.57 791.79L280.18 793.92L282.78 796.05L285.38 798.71L287.99 794.98L290.59 792.86L293.19 798.18L295.79 794.98L298.4 791.79L301 788.6L303.6 793.92L306.21 796.05L308.81 792.86L311.41 789.66L314.01 793.92L316.62 796.05L319.22 794.98L321.82 797.11L324.43 794.98L327.03 792.86L329.63 796.05L332.24 806.37L334.84 797.11L337.44 802.22L340.05 798.18L342.65 796.05L345.25 798.18L347.85 801.37L350.46 805.62L353.06 808.82" stroke="#000" stroke-width="1" fill="none"/>
<g fill="#000"><circle cx="40.7" cy="789.88" r="2.3"/><circle cx="43.3" cy="785.41" r="2.3"/><circle cx="45.91" cy="790.73" r="2.3"/><circle cx="48.51" cy="796.37" r="2.3"/><circle cx="51.11" cy="789.66" r="2.3"/><circle cx="53.72" cy="793.39" r="2.3"/><circle cx="56.32" cy="787.54" r="2.3"/><circle cx="58.92" cy="786.47" r="2.3"/><circle cx="61.52" cy="789.66" r="2.3"/><circle cx="64.13" cy="792.32" r="2.3"/><circle cx="66.73" cy="796.37" r="2.3"/><circle cx="69.33" cy="790.73" r="2.3"/><circle cx="71.94" cy="788.6" r="2.3"/><circle cx="74.54" cy="792.32" r="2.3"/><circle cx="77.14" cy="790.73" r="2.3"/><circle cx="79.75" cy="788.6" r="2.3"/><circle cx="82.35" cy="791.79" r="2.3"/><circle cx="84.95" cy="799.24" r="2.3"/><circle cx="87.55" cy="790.73" r="2.3"/><circle cx="90.16" cy="784.34" r="2.3"/><circle cx="92.76" cy="785.41" r="2.3"/><circle cx="95.36" cy="783.81" r="2.3"/><circle cx="97.97" cy="786.47" r="2.3"/><circle cx="100.57" cy="782.22" r="2.3"/><circle cx="103.17" cy="783.28" r="2.3"/><circle cx="105.78" cy="781.15" r="2.3"/><circle cx="108.38" cy="780.09" r="2.3"/><circle cx="110.98" cy="782.22" r="2.3"/><circle cx="113.58" cy="783.28" r="2.3"/><circle cx="116.19" cy="776.9" r="2.3"/><circle cx="118.79" cy="779.02" r="2.3"/><circle cx="121.39" cy="777.96" r="2.3"/><circle cx="124" cy="777.96" r="2.3"/><circle cx="126.6" cy="773.38" r="2.3"/><circle cx="129.2" cy="769.87" r="2.3"/><circle cx="131.81" cy="777.43" r="2.3"/><circle cx="134.41" cy="786.47" r="2.3"/><circle cx="137.01" cy="783.28" r="2.3"/><circle cx="139.61" cy="783.81" r="2.3"/><circle cx="142.22" cy="780.41" r="2.3"/><circle cx="144.82" cy="768.7" r="2.3"/><circle cx="147.42" cy="780.41" r="2.3"/><circle cx="150.03" cy="780.09" r="2.3"/><circle cx="152.63" cy="780.41" r="2.3"/><circle cx="155.23" cy="783.28" r="2.3"/><circle cx="157.84" cy="786.9" r="2.3"/><circle cx="160.44" cy="783.28" r="2.3"/><circle cx="163.04" cy="791.05" r="2.3"/><circle cx="165.64" cy="798.18" r="2.3"/><circle cx="168.25" cy="793.39" r="2.3"/><circle cx="170.85" cy="803.92" r="2.3"/><circle cx="173.45" cy="798.71" r="2.3"/><circle cx="176.06" cy="808.07" r="2.3"/><circle cx="178.66" cy="805.09" r="2.3"/><circle cx="181.26" cy="812.01" r="2.3"/><circle cx="183.87" cy="822.65" r="2.3"/><circle cx="186.47" cy="821.05" r="2.3"/><circle cx="189.07" cy="818.71" r="2.3"/><circle cx="191.67" cy="816.8" r="2.3"/><circle cx="194.28" cy="825.1" r="2.3"/><circle cx="196.88" cy="821.58" r="2.3"/><circle cx="199.48" cy="821.05" r="2.3"/><circle cx="202.09" cy="819.46" r="2.3"/><circle cx="204.69" cy="818.18" r="2.3"/><circle cx="207.29" cy="817.33" r="2.3"/><circle cx="209.9" cy="818.18" r="2.3"/><circle cx="212.5" cy="816.26" r="2.3"/><circle cx="215.1" cy="819.46" r="2.3"/><circle cx="217.7" cy="815.2" r="2.3"/><circle cx="220.31" cy="812.01" r="2.3"/><circle cx="222.91" cy="809.88" r="2.3"/><circle cx="225.51" cy="808.28" r="2.3"/><circle cx="228.12" cy="810.94" r="2.3"/><circle cx="230.72" cy="815.73" r="2.3"/><circle cx="233.32" cy="815.2" r="2.3"/><circle cx="235.93" cy="811.69" r="2.3"/><circle cx="238.53" cy="805.62" r="2.3"/><circle cx="241.13" cy="801.37" r="2.3"/><circle cx="243.73" cy="808.82" r="2.3"/><circle cx="246.34" cy="804.56" r="2.3"/><circle cx="248.94" cy="803.5" r="2.3"/><circle cx="251.54" cy="799.24" r="2.3"/><circle cx="254.15" cy="797.11" r="2.3"/><circle cx="256.75" cy="798.18" r="2.3"/><circle cx="259.35" cy="804.56" r="2.3"/><circle cx="261.96" cy="798.18" r="2.3"/><circle cx="264.56" cy="797.64" r="2.3"/><circle cx="267.16" cy="804.56" r="2.3"/><circle cx="269.76" cy="794.98" r="2.3"/><circle cx="272.37" cy="792.86" r="2.3"/><circle cx="274.97" cy="793.92" r="2.3"/><circle cx="277.57" cy="791.79" r="2.3"/><circle cx="280.18" cy="793.92" r="2.3"/><circle cx="282.78" cy="796.05" r="2.3"/><circle cx="285.38" cy="798.71" r="2.3"/><circle cx="287.99" cy="794.98" r="2.3"/><circle cx="290.59" cy="792.86" r="2.3"/><circle cx="293.19" cy="798.18" r="2.3"/><circle cx="295.79" cy="794.98" r="2.3"/><circle cx="298.4" cy="791.79" r="2.3"/><circle cx="301" cy="788.6" r="2.3"/><circle cx="303.6" cy="793.92" r="2.3"/><circle cx="306.21" cy="796.05" r="2.3"/><circle cx="308.81" cy="792.86" r="2.3"/><circle cx="311.41" cy="789.66" r="2.3"/><circle cx="314.01" cy="793.92" r="2.3"/><circle cx="316.62" cy="796.05" r="2.3"/><circle cx="319.22" cy="794.98" r="2.3"/><circle cx="321.82" cy="797.11" r="2.3"/><circle cx="324.43" cy="794.98" r="2.3"/><circle cx="327.03" cy="792.86" r="2.3"/><circle cx="329.63" cy="796.05" r="2.3"/><circle cx="332.24" cy="806.37" r="2.3"/><circle cx="334.84" cy="797.11" r="2.3"/><circle cx="337.44" cy="802.22" r="2.3"/><circle cx="340.05" cy="798.18" r="2.3"/><circle cx="342.65" cy="796.05" r="2.3"/><circle cx="345.25" cy="798.18" r="2.3"/><circle cx="347.85" cy="801.37" r="2.3"/><circle cx="350.46" cy="805.62" r="2.3"/><circle cx="353.06" cy="808.82" r="2.3"/></g>
<path d="M40.7 781.2V776.94M37.4 776.94H44M43.3 784.23V779.97M40 779.97H46.6M45.91 781.74V777.48M42.61 777.48H49.21M48.51 784.38V780.12M45.21 780.12H51.81M51.11 782.34V778.08M47.81 778.08H54.41M53.72 782.41V778.16M50.42 778.16H57.02M56.32 782.39V778.13M53.02 778.13H59.62M58.92 780.07V775.81M55.62 775.81H62.22M61.52 782.23V777.97M58.22 777.97H64.82M64.13 785.59V781.34M60.83 781.34H67.43M66.73 785.02V780.76M63.43 780.76H70.03M69.33 786.8V782.54M66.03 782.54H72.63M71.94 788.32V784.07M68.64 784.07H75.24M74.54 791.72V787.46M71.24 787.46H77.84M77.14 787.78V783.52M73.84 783.52H80.44M79.75 790.7V786.45M76.45 786.45H83.05M82.35 791.64V787.39M79.05 787.39H85.65M84.95 790.37V786.11M81.65 786.11H88.25M87.55 793.43V789.17M84.25 789.17H90.85M90.16 792.27V788.02M86.86 788.02H93.46M92.76 794.39V790.14M89.46 790.14H96.06M95.36 791.44V787.18M92.06 787.18H98.66M97.97 793.69V789.44M94.67 789.44H101.27M100.57 790.94V786.69M97.27 786.69H103.87M103.17 799.04V794.78M99.87 794.78H106.47M105.78 791.9V787.65M102.48 787.65H109.08M108.38 789.72V785.46M105.08 785.46H111.68M110.98 792.49V788.24M107.68 788.24H114.28M113.58 792.04V787.79M110.28 787.79H116.88M116.19 792.23V787.97M112.89 787.97H119.49M118.79 792.98V788.72M115.49 788.72H122.09M121.39 792.17V787.92M118.09 787.92H124.69M124 795.66V791.41M120.7 791.41H127.3M126.6 795.67V791.41M123.3 791.41H129.9M129.2 797.13V792.87M125.9 792.87H132.5M131.81 791.08V786.82M128.5 786.82H135.11M134.41 786.05V781.8M131.11 781.8H137.71M137.01 779.21V770.7M133.71 770.7H140.31M139.61 771.88V763.37M136.31 763.37H142.91M142.22 765.35V756.84M138.92 756.84H145.52M144.82 759.07V750.55M141.52 750.55H148.12M147.42 756.78V748.27M144.12 748.27H150.72M150.03 761.24V752.73M146.73 752.73H153.33M152.63 758.74V750.23M149.33 750.23H155.93M155.23 766.67V758.16M151.93 758.16H158.53M157.84 773.34V764.83M154.53 764.83H161.14M160.44 775.57V767.06M157.14 767.06H163.74M163.04 776.51V768M159.74 768H166.34M165.64 783.54V775.03M162.34 775.03H168.94M168.25 784.35V780.09M164.95 780.09H171.55M170.85 788.48V784.22M167.55 784.22H174.15M173.45 792.74V788.48M170.15 788.48H176.75M176.06 790.56V786.3M172.76 786.3H179.36M178.66 795.63V791.37M175.36 791.37H181.96M181.26 801.7V797.44M177.96 797.44H184.56M183.87 798.11V793.86M180.56 793.86H187.17M186.47 800.52V796.26M183.17 796.26H189.77M189.07 796.13V791.88M185.77 791.88H192.37M191.67 795.3V791.04M188.37 791.04H194.97M194.28 793.77V789.52M190.98 789.52H197.58M196.88 794.02V789.76M193.58 789.76H200.18M199.48 794.24V789.98M196.18 789.98H202.78M202.09 793.93V789.67M198.79 789.67H205.39M204.69 796.05V791.8M201.39 791.8H207.99M207.29 794.59V790.33M203.99 790.33H210.59M209.9 793.78V789.52M206.6 789.52H213.2M212.5 794.28V790.03M209.2 790.03H215.8M215.1 793.85V789.6M211.8 789.6H218.4M217.7 795.45V791.2M214.4 791.2H221M220.31 796V791.75M217.01 791.75H223.61M222.91 800.14V795.89M219.61 795.89H226.21M225.51 801.87V797.61M222.21 797.61H228.81M228.12 801.06V796.8M224.82 796.8H231.42M230.72 799.23V794.98M227.42 794.98H234.02M233.32 799.02V794.77M230.02 794.77H236.62M235.93 799.52V795.26M232.62 795.26H239.23M238.53 799.09V794.83M235.23 794.83H241.83M241.13 799.13V794.87M237.83 794.87H244.43M243.73 796.54V792.29M240.43 792.29H247.03M246.34 797.1V792.84M243.04 792.84H249.64M248.94 802.99V798.73M245.64 798.73H252.24M251.54 800.07V795.81M248.24 795.81H254.84M254.15 797.11V792.86M250.85 792.86H257.45M256.75 794.62V790.36M253.45 790.36H260.05M259.35 796.06V791.8M256.05 791.8H262.65M261.96 794.54V790.28M258.66 790.28H265.26M264.56 795.66V791.4M261.26 791.4H267.86M267.16 793.29V789.03M263.86 789.03H270.46M269.76 792V787.74M266.46 787.74H273.06M272.37 793.59V789.34M269.07 789.34H275.67M274.97 791.39V787.13M271.67 787.13H278.27M277.57 788.68V784.42M274.27 784.42H280.87M280.18 789.72V785.46M276.88 785.46H283.48M282.78 792.22V787.96M279.48 787.96H286.08M285.38 793.38V789.13M282.08 789.13H288.68M287.99 793.18V788.92M284.69 788.92H291.29M290.59 796.94V792.68M287.29 792.68H293.89M293.19 795.7V791.44M289.89 791.44H296.49M295.79 798.38V794.12M292.49 794.12H299.09M298.4 797.63V793.38M295.1 793.38H301.7M301 798.71V794.46M297.7 794.46H304.3M303.6 801.48V797.22M300.3 797.22H306.9M306.21 800.96V796.7M302.91 796.7H309.51M308.81 798.07V793.82M305.51 793.82H312.11M311.41 797.28V793.03M308.11 793.03H314.71M314.01 794.19V789.93M310.71 789.93H317.31M316.62 796.12V791.87M313.32 791.87H319.92M319.22 796.96V792.71M315.92 792.71H322.52M321.82 796.25V791.99M318.52 791.99H325.12M324.43 797.1V792.84M321.13 792.84H327.73M327.03 795.57V791.32M323.73 791.32H330.33M329.63 793.85V789.6M326.33 789.6H332.93M332.24 794.94V790.68M328.94 790.68H335.54M334.84 794.59V790.34M331.54 790.34H338.14M337.44 791.19V786.93M334.14 786.93H340.74M340.05 792.3V788.04M336.75 788.04H343.35M342.65 791.19V786.94M339.35 786.94H345.95M345.25 792.46V788.21M341.95 788.21H348.55M347.85 791.14V786.88M344.55 786.88H351.15M350.46 793.6V789.35M347.16 789.35H353.76M353.06 791.62V787.36M349.76 787.36H356.36" stroke="#000" stroke-width="1.5" fill="none"/>
<path d="M40.7 781.2L43.3 784.23L45.91 781.74L48.51 784.38L51.11 782.34L53.72 782.41L56.32 782.39L58.92 780.07L61.52 782.23L64.13 785.59L66.73 785.02L69.33 786.8L71.94 788.32L74.54 791.72L77.14 787.78L79.75 790.7L82.35 791.64L84.95 790.37L87.55 793.43L90.16 792.27L92.76 794.39L95.36 791.44L97.97 793.69L100.57 790.94L103.17 799.04L105.78 791.9L108.38 789.72L110.98 792.49L113.58 792.04L116.19 792.23L118.79 792.98L121.39 792.17L124 795.66L126.6 795.67L129.2 797.13L131.81 791.08L134.41 786.05L137.01 779.21L139.61 771.88L142.22 765.35L144.82 759.07L147.42 756.78L150.03 761.24L152.63 758.74L155.23 766.67L157.84 773.34L160.44 775.57L163.04 776.51L165.64 783.54L168.25 784.35L170.85 788.48L173.45 792.74L176.06 790.56L178.66 795.63L181.26 801.7L183.87 798.11L186.47 800.52L189.07 796.13L191.67 795.3L194.28 793.77L196.88 794.02L199.48 794.24L202.09 793.93L204.69 796.05L207.29 794.59L209.9 793.78L212.5 794.28L215.1 793.85L217.7 795.45L220.31 796L222.91 800.14L225.51 801.87L228.12 801.06L230.72 799.23L233.32 799.02L235.93 799.52L238.53 799.09L241.13 799.13L243.73 796.54L246.34 797.1L248.94 802.99L251.54 800.07L254.15 797.11L256.75 794.62L259.35 796.06L261.96 794.54L264.56 795.66L267.16 793.29L269.76 792L272.37 793.59L274.97 791.39L277.57 788.68L280.18 789.72L282.78 792.22L285.38 793.38L287.99 793.18L290.59 796.94L293.19 795.7L295.79 798.38L298.4 797.63L301 798.71L303.6 801.48L306.21 800.96L308.81 798.07L311.41 797.28L314.01 794.19L316.62 796.12L319.22 796.96L321.82 796.25L324.43 797.1L327.03 795.57L329.63 793.85L332.24 794.94L334.84 794.59L337.44 791.19L340.05 792.3L342.65 791.19L345.25 792.46L347.85 791.14L350.46 793.6L353.06 791.62" stroke="#000" stroke-width="1" fill="none"/>
<g fill="#fff" stroke="#000" stroke-width="1.6"><circle cx="40.7" cy="781.2" r="2.2"/><circle cx="43.3" cy="784.23" r="2.2"/><circle cx="45.91" cy="781.74" r="2.2"/><circle cx="48.51" cy="784.38" r="2.2"/><circle cx="51.11" cy="782.34" r="2.2"/><circle cx="53.72" cy="782.41" r="2.2"/><circle cx="56.32" cy="782.39" r="2.2"/><circle cx="58.92" cy="780.07" r="2.2"/><circle cx="61.52" cy="782.23" r="2.2"/><circle cx="64.13" cy="785.59" r="2.2"/><circle cx="66.73" cy="785.02" r="2.2"/><circle cx="69.33" cy="786.8" r="2.2"/><circle cx="71.94" cy="788.32" r="2.2"/><circle cx="74.54" cy="791.72" r="2.2"/><circle cx="77.14" cy="787.78" r="2.2"/><circle cx="79.75" cy="790.7" r="2.2"/><circle cx="82.35" cy="791.64" r="2.2"/><circle cx="84.95" cy="790.37" r="2.2"/><circle cx="87.55" cy="793.43" r="2.2"/><circle cx="90.16" cy="792.27" r="2.2"/><circle cx="92.76" cy="794.39" r="2.2"/><circle cx="95.36" cy="791.44" r="2.2"/><circle cx="97.97" cy="793.69" r="2.2"/><circle cx="100.57" cy="790.94" r="2.2"/><circle cx="103.17" cy="799.04" r="2.2"/><circle cx="105.78" cy="791.9" r="2.2"/><circle cx="108.38" cy="789.72" r="2.2"/><circle cx="110.98" cy="792.49" r="2.2"/><circle cx="113.58" cy="792.04" r="2.2"/><circle cx="116.19" cy="792.23" r="2.2"/><circle cx="118.79" cy="792.98" r="2.2"/><circle cx="121.39" cy="792.17" r="2.2"/><circle cx="124" cy="795.66" r="2.2"/><circle cx="126.6" cy="795.67" r="2.2"/><circle cx="129.2" cy="797.13" r="2.2"/><circle cx="131.81" cy="791.08" r="2.2"/><circle cx="134.41" cy="786.05" r="2.2"/><circle cx="137.01" cy="779.21" r="2.2"/><circle cx="139.61" cy="771.88" r="2.2"/><circle cx="142.22" cy="765.35" r="2.2"/><circle cx="144.82" cy="759.07" r="2.2"/><circle cx="147.42" cy="756.78" r="2.2"/><circle cx="150.03" cy="761.24" r="2.2"/><circle cx="152.63" cy="758.74" r="2.2"/><circle cx="155.23" cy="766.67" r="2.2"/><circle cx="157.84" cy="773.34" r="2.2"/><circle cx="160.44" cy="775.57" r="2.2"/><circle cx="163.04" cy="776.51" r="2.2"/><circle cx="165.64" cy="783.54" r="2.2"/><circle cx="168.25" cy="784.35" r="2.2"/><circle cx="170.85" cy="788.48" r="2.2"/><circle cx="173.45" cy="792.74" r="2.2"/><circle cx="176.06" cy="790.56" r="2.2"/><circle cx="178.66" cy="795.63" r="2.2"/><circle cx="181.26" cy="801.7" r="2.2"/><circle cx="183.87" cy="798.11" r="2.2"/><circle cx="186.47" cy="800.52" r="2.2"/><circle cx="189.07" cy="796.13" r="2.2"/><circle cx="191.67" cy="795.3" r="2.2"/><circle cx="194.28" cy="793.77" r="2.2"/><circle cx="196.88" cy="794.02" r="2.2"/><circle cx="199.48" cy="794.24" r="2.2"/><circle cx="202.09" cy="793.93" r="2.2"/><circle cx="204.69" cy="796.05" r="2.2"/><circle cx="207.29" cy="794.59" r="2.2"/><circle cx="209.9" cy="793.78" r="2.2"/><circle cx="212.5" cy="794.28" r="2.2"/><circle cx="215.1" cy="793.85" r="2.2"/><circle cx="217.7" cy="795.45" r="2.2"/><circle cx="220.31" cy="796" r="2.2"/><circle cx="222.91" cy="800.14" r="2.2"/><circle cx="225.51" cy="801.87" r="2.2"/><circle cx="228.12" cy="801.06" r="2.2"/><circle cx="230.72" cy="799.23" r="2.2"/><circle cx="233.32" cy="799.02" r="2.2"/><circle cx="235.93" cy="799.52" r="2.2"/><circle cx="238.53" cy="799.09" r="2.2"/><circle cx="241.13" cy="799.13" r="2.2"/><circle cx="243.73" cy="796.54" r="2.2"/><circle cx="246.34" cy="797.1" r="2.2"/><circle cx="248.94" cy="802.99" r="2.2"/><circle cx="251.54" cy="800.07" r="2.2"/><circle cx="254.15" cy="797.11" r="2.2"/><circle cx="256.75" cy="794.62" r="2.2"/><circle cx="259.35" cy="796.06" r="2.2"/><circle cx="261.96" cy="794.54" r="2.2"/><circle cx="264.56" cy="795.66" r="2.2"/><circle cx="267.16" cy="793.29" r="2.2"/><circle cx="269.76" cy="792" r="2.2"/><circle cx="272.37" cy="793.59" r="2.2"/><circle cx="274.97" cy="791.39" r="2.2"/><circle cx="277.57" cy="788.68" r="2.2"/><circle cx="280.18" cy="789.72" r="2.2"/><circle cx="282.78" cy="792.22" r="2.2"/><circle cx="285.38" cy="793.38" r="2.2"/><circle cx="287.99" cy="793.18" r="2.2"/><circle cx="290.59" cy="796.94" r="2.2"/><circle cx="293.19" cy="795.7" r="2.2"/><circle cx="295.79" cy="798.38" r="2.2"/><circle cx="298.4" cy="797.63" r="2.2"/><circle cx="301" cy="798.71" r="2.2"/><circle cx="303.6" cy="801.48" r="2.2"/><circle cx="306.21" cy="800.96" r="2.2"/><circle cx="308.81" cy="798.07" r="2.2"/><circle cx="311.41" cy="797.28" r="2.2"/><circle cx="314.01" cy="794.19" r="2.2"/><circle cx="316.62" cy="796.12" r="2.2"/><circle cx="319.22" cy="796.96" r="2.2"/><circle cx="321.82" cy="796.25" r="2.2"/><circle cx="324.43" cy="797.1" r="2.2"/><circle cx="327.03" cy="795.57" r="2.2"/><circle cx="329.63" cy="793.85" r="2.2"/><circle cx="332.24" cy="794.94" r="2.2"/><circle cx="334.84" cy="794.59" r="2.2"/><circle cx="337.44" cy="791.19" r="2.2"/><circle cx="340.05" cy="792.3" r="2.2"/><circle cx="342.65" cy="791.19" r="2.2"/><circle cx="345.25" cy="792.46" r="2.2"/><circle cx="347.85" cy="791.14" r="2.2"/><circle cx="350.46" cy="793.6" r="2.2"/><circle cx="353.06" cy="791.62" r="2.2"/></g>
<rect x="122.3" y="683" width="154.3" height="203.7" fill="#a6a3a5" fill-opacity="0.55"/>
<rect x="198.9" y="683" width="1.3" height="203.7" fill="#fff"/>
<path d="M118.5 683.6V891.9" stroke="#000" stroke-width="1.6" stroke-dasharray="5.9 5.3" fill="none"/>
<text x="0" y="0" font-size="13.3" fill="#1a1a1a" text-anchor="end" transform="translate(24.2 686.95) scale(1.25 1)" stroke="#1a1a1a" stroke-width="0.3">10</text>
<text x="0" y="0" font-size="13.3" fill="#1a1a1a" text-anchor="end" transform="translate(24.2 740.15) scale(1.25 1)" stroke="#1a1a1a" stroke-width="0.3">5</text>
<text x="0" y="0" font-size="13.3" fill="#1a1a1a" text-anchor="end" transform="translate(24.2 793.35) scale(1.25 1)" stroke="#1a1a1a" stroke-width="0.3">0</text>
<text x="0" y="0" font-size="13.3" fill="#1a1a1a" text-anchor="end" transform="translate(24.2 846.55) scale(1.25 1)" stroke="#1a1a1a" stroke-width="0.3">-5</text>
<text x="0" y="0" font-size="13.3" fill="#1a1a1a" text-anchor="end" transform="translate(24.2 899.75) scale(1.25 1)" stroke="#1a1a1a" stroke-width="0.3">-10</text>
<text x="0" y="0" font-size="13.3" fill="#1a1a1a" text-anchor="middle" transform="translate(38.3 921.65) scale(1.25 1)" stroke="#1a1a1a" stroke-width="0.3">0</text>
<text x="0" y="0" font-size="13.3" fill="#1a1a1a" text-anchor="middle" transform="translate(77.53 921.65) scale(1.25 1)" stroke="#1a1a1a" stroke-width="0.3">15</text>
<text x="0" y="0" font-size="13.3" fill="#1a1a1a" text-anchor="middle" transform="translate(116.75 921.65) scale(1.25 1)" stroke="#1a1a1a" stroke-width="0.3">30</text>
<text x="0" y="0" font-size="13.3" fill="#1a1a1a" text-anchor="middle" transform="translate(155.98 921.65) scale(1.25 1)" stroke="#1a1a1a" stroke-width="0.3">45</text>
<text x="0" y="0" font-size="13.3" fill="#1a1a1a" text-anchor="middle" transform="translate(195.2 921.65) scale(1.25 1)" stroke="#1a1a1a" stroke-width="0.3">60</text>
<text x="0" y="0" font-size="13.3" fill="#1a1a1a" text-anchor="middle" transform="translate(234.43 921.65) scale(1.25 1)" stroke="#1a1a1a" stroke-width="0.3">75</text>
<text x="0" y="0" font-size="13.3" fill="#1a1a1a" text-anchor="middle" transform="translate(273.65 921.65) scale(1.25 1)" stroke="#1a1a1a" stroke-width="0.3">90</text>
<text x="0" y="0" font-size="13.3" fill="#1a1a1a" text-anchor="middle" transform="translate(312.88 921.65) scale(1.25 1)" stroke="#1a1a1a" stroke-width="0.3">105</text>
<text x="0" y="0" font-size="13.3" fill="#1a1a1a" text-anchor="middle" transform="translate(352.1 921.65) scale(1.25 1)" stroke="#1a1a1a" stroke-width="0.3">120</text>
<text x="194.4" y="939.2" font-size="14" fill="#1a1a1a" text-anchor="middle" textLength="30.3" lengthAdjust="spacingAndGlyphs" stroke="#1a1a1a" stroke-width="0.3">Beat</text>
<text x="0" y="0" font-size="15.2" fill="#1a1a1a" text-anchor="middle" textLength="66.5" lengthAdjust="spacingAndGlyphs" transform="translate(14 789) rotate(-90)" stroke="#1a1a1a" stroke-width="0.3">% Change</text>
<text x="288.8" y="855.6" font-size="12.6" fill="#1a1a1a" textLength="8.6" lengthAdjust="spacingAndGlyphs" stroke="#1a1a1a" stroke-width="0.3">N</text>
<text x="298.7" y="858.9" font-size="7.7" fill="#1a1a1a" textLength="19.9" lengthAdjust="spacingAndGlyphs" stroke="#1a1a1a" stroke-width="0.3">MAP</text>
<text x="321.6" y="855.6" font-size="12.6" fill="#1a1a1a" textLength="26" lengthAdjust="spacingAndGlyphs" stroke="#1a1a1a" stroke-width="0.3">= 23</text>
<text x="288.8" y="874.2" font-size="12.6" fill="#1a1a1a" textLength="8.6" lengthAdjust="spacingAndGlyphs" stroke="#1a1a1a" stroke-width="0.3">N</text>
<text x="298.6" y="877.3" font-size="7.7" fill="#1a1a1a" textLength="15.3" lengthAdjust="spacingAndGlyphs" stroke="#1a1a1a" stroke-width="0.3">TOI</text>
<text x="316.1" y="874.2" font-size="12.6" fill="#1a1a1a" textLength="26" lengthAdjust="spacingAndGlyphs" stroke="#1a1a1a" stroke-width="0.3">= 27</text>
<text x="147.3" y="708.9" font-size="18.3" fill="#000" text-anchor="middle" class="dj" stroke="#000" stroke-width="0.4">*</text>
<text x="0" y="0" font-size="18" fill="#000" text-anchor="middle" transform="translate(164 711.5) scale(0.9 1)" stroke="#000" stroke-width="0.55">#</text>
<text x="0" y="0" font-size="18" fill="#000" text-anchor="middle" transform="translate(231.25 708.5) scale(0.9 1)" stroke="#000" stroke-width="0.55">#</text></g>
<g><g stroke="#b3b3b3" stroke-width="1.2" fill="none">
<path d="M430.2 695.8V898.8"/>
<path d="M424.3 695.8H430.2M424.3 746.55H430.2M424.3 797.3H430.2M424.3 848.05H430.2M424.3 898.8H430.2"/>
<path d="M430.2 797.3H741.31"/>
<path d="M430.3 797.3v4.5M468.96 797.3v4.5M507.61 797.3v4.5M546.26 797.3v4.5M584.92 797.3v4.5M623.58 797.3v4.5M662.23 797.3v4.5M700.88 797.3v4.5M739.54 797.3v4.5"/>
</g>
<path d="M431.8 789.18V781.06M428.5 781.06H435.1M434.39 794.25V789.69M431.09 789.69H437.69M436.98 799.33V794.76M433.68 794.76H440.28M439.57 803.8V799.23M436.27 799.23H442.87M442.16 810.19V805.62M438.86 805.62H445.46M444.75 796.28V791.72M441.45 791.72H448.05M447.34 798.31V793.75M444.04 793.75H450.64M449.93 799.33V794.76M446.63 794.76H453.23M452.52 802.07V797.5M449.22 797.5H455.82M455.11 800.34V795.78M451.81 795.78H458.41M457.7 803.19V798.62M454.4 798.62H461M460.29 789.18V783.39M456.99 783.39H463.59M462.88 798.31V793.75M459.58 793.75H466.18M465.47 799.84V795.27M462.17 795.27H468.77M468.06 800.34V795.78M464.76 795.78H471.36M470.65 806.13V801.56M467.35 801.56H473.95M473.24 801.36V796.79M469.94 796.79H476.54M475.83 799.33V794.76M472.53 794.76H479.13M478.42 798.31V793.75M475.12 793.75H481.72M481.01 796.28V791.72M477.71 791.72H484.31M483.6 794.25V789.69M480.3 789.69H486.9M486.19 791.72V784.1M482.89 784.1H489.49M488.78 791.21V783.6M485.48 783.6H492.08M491.37 792.22V784.61M488.07 784.61H494.67M493.96 790.19V782.58M490.66 782.58H497.26M496.55 792.22V784.61M493.25 784.61H499.85M499.14 793.75V786.13M495.84 786.13H502.44M501.73 794.25V786.64M498.43 786.64H505.03M504.32 793.24V785.63M501.02 785.63H507.62M506.91 789.18V780.04M503.61 780.04H510.21M509.5 792.22V784.61M506.2 784.61H512.8M512.09 791.21V782.07M508.79 782.07H515.39M514.68 792.22V783.09M511.38 783.09H517.98M517.27 790.19V781.06M513.97 781.06H520.57M519.86 791.72V782.58M516.56 782.58H523.16M522.45 791.21V782.07M519.15 782.07H525.75M525.04 789.69V780.55M521.74 780.55H528.34M527.63 795.57V786.44M524.33 786.44H530.93M530.22 796.28V787.15M526.92 787.15H533.52M532.81 793.24V784.1M529.51 784.1H536.11M535.4 794.25V785.12M532.1 785.12H538.7M537.99 792.63V783.5M534.69 783.5H541.29M540.58 794.25V785.12M537.28 785.12H543.88M543.17 794.97V785.83M539.87 785.83H546.47M545.76 789.69V780.55M542.46 780.55H549.06M548.35 803.69V794.56M545.05 794.56H551.65M550.94 799.33V790.19M547.64 790.19H554.24M553.53 799.84V790.7M550.23 790.7H556.83M556.12 795.27V786.13M552.82 786.13H559.42M558.71 794.25V785.12M555.41 785.12H562.01M561.3 792.22V783.09M558 783.09H564.6M563.89 790.19V781.06M560.59 781.06H567.19M566.48 802.38V793.24M563.18 793.24H569.78M569.07 802.38V793.24M565.77 793.24H572.37M571.66 791.21V782.07M568.36 782.07H574.96M574.25 800.34V791.21M570.95 791.21H577.55M576.84 791.21V782.07M573.54 782.07H580.14M579.43 806.03V796.89M576.13 796.89H582.73M582.02 800.34V791.21M578.72 791.21H585.32M584.61 796.28V787.15M581.31 787.15H587.91M587.2 800.34V791.21M583.9 791.21H590.5M589.79 799.84V793.24M586.49 793.24H593.09M592.38 799.33V792.73M589.08 792.73H595.68M594.97 802.38V786.64M591.67 786.64H598.27M597.56 804.4V797.81M594.26 797.81H600.86M600.15 801.36V794.76M596.85 794.76H603.45M602.74 800.34V793.75M599.44 793.75H606.04M605.33 803.39V788.16M602.03 788.16H608.63M607.92 805.42V798.82M604.62 798.82H611.22M610.51 802.38V795.78M607.21 795.78H613.81M613.1 804.4V797.81M609.8 797.81H616.4M615.69 806.43V799.84M612.39 799.84H618.99M618.28 803.39V796.79M614.98 796.79H621.58M620.87 801.36V794.76M617.57 794.76H624.17M623.46 804.4V797.81M620.16 797.81H626.76M626.05 805.42V798.82M622.75 798.82H629.35M628.64 802.38V795.78M625.34 795.78H631.94M631.23 804.4V797.81M627.93 797.81H634.53M633.82 806.43V799.84M630.52 799.84H637.12M636.41 803.39V796.79M633.11 796.79H639.71M639 802.38V795.78M635.7 795.78H642.3M641.59 804.4V797.81M638.29 797.81H644.89M644.18 803.39V796.79M640.88 796.79H647.48M646.77 803.39V796.79M643.47 796.79H650.07M649.36 816.58V809.99M646.06 809.99H652.66M651.95 798.52V785.12M648.65 785.12H655.25M654.54 805.42V798.82M651.24 798.82H657.84M657.13 802.38V795.78M653.83 795.78H660.43M659.72 800.34V793.75M656.42 793.75H663.02M662.31 798.31V791.72M659.01 791.72H665.61M664.9 797.3V790.7M661.6 790.7H668.2M667.49 796.28V788.67M664.19 788.67H670.79M670.08 800.34V792.73M666.78 792.73H673.38M672.67 804.4V796.79M669.37 796.79H675.97M675.26 802.38V794.76M671.96 794.76H678.56M677.85 805.42V797.81M674.55 797.81H681.15M680.44 799.33V791.72M677.14 791.72H683.74M683.03 803.39V795.78M679.73 795.78H686.33M685.62 791.51V783.39M682.32 783.39H688.92M688.21 800.34V792.73M684.91 792.73H691.51M690.8 794.25V786.64M687.5 786.64H694.1M693.39 790.4V782.28M690.09 782.28H696.69M695.98 802.38V794.76M692.68 794.76H699.28M698.57 800.34V792.73M695.27 792.73H701.87M701.16 799.33V791.72M697.86 791.72H704.46M703.75 795.27V787.66M700.45 787.66H707.05M706.34 798.31V790.7M703.04 790.7H709.64M708.93 796.28V788.67M705.63 788.67H712.23M711.52 801.36V793.75M708.22 793.75H714.82M714.11 799.84V792.22M710.81 792.22H717.41M716.7 805.42V797.81M713.4 797.81H720M719.29 802.38V794.76M715.99 794.76H722.59M721.88 800.34V792.73M718.58 792.73H725.18M724.47 783.9V772.94M721.17 772.94H727.77M727.06 796.79V789.18M723.76 789.18H730.36M729.65 799.33V791.72M726.35 791.72H732.95M732.24 804.4V796.79M728.94 796.79H735.54M734.83 798.31V790.7M731.53 790.7H738.13M737.42 790.91V785.83M734.12 785.83H740.72M740.01 793.85V786.24M736.71 786.24H743.31" stroke="#000" stroke-width="1.9" fill="none"/>
<path d="M431.8 789.18L434.39 794.25L436.98 799.33L439.57 803.8L442.16 810.19L444.75 796.28L447.34 798.31L449.93 799.33L452.52 802.07L455.11 800.34L457.7 803.19L460.29 789.18L462.88 798.31L465.47 799.84L468.06 800.34L470.65 806.13L473.24 801.36L475.83 799.33L478.42 798.31L481.01 796.28L483.6 794.25L486.19 791.72L488.78 791.21L491.37 792.22L493.96 790.19L496.55 792.22L499.14 793.75L501.73 794.25L504.32 793.24L506.91 789.18L509.5 792.22L512.09 791.21L514.68 792.22L517.27 790.19L519.86 791.72L522.45 791.21L525.04 789.69L527.63 795.57L530.22 796.28L532.81 793.24L535.4 794.25L537.99 792.63L540.58 794.25L543.17 794.97L545.76 789.69L548.35 803.69L550.94 799.33L553.53 799.84L556.12 795.27L558.71 794.25L561.3 792.22L563.89 790.19L566.48 802.38L569.07 802.38L571.66 791.21L574.25 800.34L576.84 791.21L579.43 806.03L582.02 800.34L584.61 796.28L587.2 800.34L589.79 799.84L592.38 799.33L594.97 802.38L597.56 804.4L600.15 801.36L602.74 800.34L605.33 803.39L607.92 805.42L610.51 802.38L613.1 804.4L615.69 806.43L618.28 803.39L620.87 801.36L623.46 804.4L626.05 805.42L628.64 802.38L631.23 804.4L633.82 806.43L636.41 803.39L639 802.38L641.59 804.4L644.18 803.39L646.77 803.39L649.36 816.58L651.95 798.52L654.54 805.42L657.13 802.38L659.72 800.34L662.31 798.31L664.9 797.3L667.49 796.28L670.08 800.34L672.67 804.4L675.26 802.38L677.85 805.42L680.44 799.33L683.03 803.39L685.62 791.51L688.21 800.34L690.8 794.25L693.39 790.4L695.98 802.38L698.57 800.34L701.16 799.33L703.75 795.27L706.34 798.31L708.93 796.28L711.52 801.36L714.11 799.84L716.7 805.42L719.29 802.38L721.88 800.34L724.47 783.9L727.06 796.79L729.65 799.33L732.24 804.4L734.83 798.31L737.42 790.91L740.01 793.85" stroke="#000" stroke-width="1" fill="none"/>
<g fill="#000"><circle cx="431.8" cy="789.18" r="2.3"/><circle cx="434.39" cy="794.25" r="2.3"/><circle cx="436.98" cy="799.33" r="2.3"/><circle cx="439.57" cy="803.8" r="2.3"/><circle cx="442.16" cy="810.19" r="2.3"/><circle cx="444.75" cy="796.28" r="2.3"/><circle cx="447.34" cy="798.31" r="2.3"/><circle cx="449.93" cy="799.33" r="2.3"/><circle cx="452.52" cy="802.07" r="2.3"/><circle cx="455.11" cy="800.34" r="2.3"/><circle cx="457.7" cy="803.19" r="2.3"/><circle cx="460.29" cy="789.18" r="2.3"/><circle cx="462.88" cy="798.31" r="2.3"/><circle cx="465.47" cy="799.84" r="2.3"/><circle cx="468.06" cy="800.34" r="2.3"/><circle cx="470.65" cy="806.13" r="2.3"/><circle cx="473.24" cy="801.36" r="2.3"/><circle cx="475.83" cy="799.33" r="2.3"/><circle cx="478.42" cy="798.31" r="2.3"/><circle cx="481.01" cy="796.28" r="2.3"/><circle cx="483.6" cy="794.25" r="2.3"/><circle cx="486.19" cy="791.72" r="2.3"/><circle cx="488.78" cy="791.21" r="2.3"/><circle cx="491.37" cy="792.22" r="2.3"/><circle cx="493.96" cy="790.19" r="2.3"/><circle cx="496.55" cy="792.22" r="2.3"/><circle cx="499.14" cy="793.75" r="2.3"/><circle cx="501.73" cy="794.25" r="2.3"/><circle cx="504.32" cy="793.24" r="2.3"/><circle cx="506.91" cy="789.18" r="2.3"/><circle cx="509.5" cy="792.22" r="2.3"/><circle cx="512.09" cy="791.21" r="2.3"/><circle cx="514.68" cy="792.22" r="2.3"/><circle cx="517.27" cy="790.19" r="2.3"/><circle cx="519.86" cy="791.72" r="2.3"/><circle cx="522.45" cy="791.21" r="2.3"/><circle cx="525.04" cy="789.69" r="2.3"/><circle cx="527.63" cy="795.57" r="2.3"/><circle cx="530.22" cy="796.28" r="2.3"/><circle cx="532.81" cy="793.24" r="2.3"/><circle cx="535.4" cy="794.25" r="2.3"/><circle cx="537.99" cy="792.63" r="2.3"/><circle cx="540.58" cy="794.25" r="2.3"/><circle cx="543.17" cy="794.97" r="2.3"/><circle cx="545.76" cy="789.69" r="2.3"/><circle cx="548.35" cy="803.69" r="2.3"/><circle cx="550.94" cy="799.33" r="2.3"/><circle cx="553.53" cy="799.84" r="2.3"/><circle cx="556.12" cy="795.27" r="2.3"/><circle cx="558.71" cy="794.25" r="2.3"/><circle cx="561.3" cy="792.22" r="2.3"/><circle cx="563.89" cy="790.19" r="2.3"/><circle cx="566.48" cy="802.38" r="2.3"/><circle cx="569.07" cy="802.38" r="2.3"/><circle cx="571.66" cy="791.21" r="2.3"/><circle cx="574.25" cy="800.34" r="2.3"/><circle cx="576.84" cy="791.21" r="2.3"/><circle cx="579.43" cy="806.03" r="2.3"/><circle cx="582.02" cy="800.34" r="2.3"/><circle cx="584.61" cy="796.28" r="2.3"/><circle cx="587.2" cy="800.34" r="2.3"/><circle cx="589.79" cy="799.84" r="2.3"/><circle cx="592.38" cy="799.33" r="2.3"/><circle cx="594.97" cy="802.38" r="2.3"/><circle cx="597.56" cy="804.4" r="2.3"/><circle cx="600.15" cy="801.36" r="2.3"/><circle cx="602.74" cy="800.34" r="2.3"/><circle cx="605.33" cy="803.39" r="2.3"/><circle cx="607.92" cy="805.42" r="2.3"/><circle cx="610.51" cy="802.38" r="2.3"/><circle cx="613.1" cy="804.4" r="2.3"/><circle cx="615.69" cy="806.43" r="2.3"/><circle cx="618.28" cy="803.39" r="2.3"/><circle cx="620.87" cy="801.36" r="2.3"/><circle cx="623.46" cy="804.4" r="2.3"/><circle cx="626.05" cy="805.42" r="2.3"/><circle cx="628.64" cy="802.38" r="2.3"/><circle cx="631.23" cy="804.4" r="2.3"/><circle cx="633.82" cy="806.43" r="2.3"/><circle cx="636.41" cy="803.39" r="2.3"/><circle cx="639" cy="802.38" r="2.3"/><circle cx="641.59" cy="804.4" r="2.3"/><circle cx="644.18" cy="803.39" r="2.3"/><circle cx="646.77" cy="803.39" r="2.3"/><circle cx="649.36" cy="816.58" r="2.3"/><circle cx="651.95" cy="798.52" r="2.3"/><circle cx="654.54" cy="805.42" r="2.3"/><circle cx="657.13" cy="802.38" r="2.3"/><circle cx="659.72" cy="800.34" r="2.3"/><circle cx="662.31" cy="798.31" r="2.3"/><circle cx="664.9" cy="797.3" r="2.3"/><circle cx="667.49" cy="796.28" r="2.3"/><circle cx="670.08" cy="800.34" r="2.3"/><circle cx="672.67" cy="804.4" r="2.3"/><circle cx="675.26" cy="802.38" r="2.3"/><circle cx="677.85" cy="805.42" r="2.3"/><circle cx="680.44" cy="799.33" r="2.3"/><circle cx="683.03" cy="803.39" r="2.3"/><circle cx="685.62" cy="791.51" r="2.3"/><circle cx="688.21" cy="800.34" r="2.3"/><circle cx="690.8" cy="794.25" r="2.3"/><circle cx="693.39" cy="790.4" r="2.3"/><circle cx="695.98" cy="802.38" r="2.3"/><circle cx="698.57" cy="800.34" r="2.3"/><circle cx="701.16" cy="799.33" r="2.3"/><circle cx="703.75" cy="795.27" r="2.3"/><circle cx="706.34" cy="798.31" r="2.3"/><circle cx="708.93" cy="796.28" r="2.3"/><circle cx="711.52" cy="801.36" r="2.3"/><circle cx="714.11" cy="799.84" r="2.3"/><circle cx="716.7" cy="805.42" r="2.3"/><circle cx="719.29" cy="802.38" r="2.3"/><circle cx="721.88" cy="800.34" r="2.3"/><circle cx="724.47" cy="783.9" r="2.3"/><circle cx="727.06" cy="796.79" r="2.3"/><circle cx="729.65" cy="799.33" r="2.3"/><circle cx="732.24" cy="804.4" r="2.3"/><circle cx="734.83" cy="798.31" r="2.3"/><circle cx="737.42" cy="790.91" r="2.3"/><circle cx="740.01" cy="793.85" r="2.3"/></g>
<path d="M431.8 790.99V786.93M428.5 786.93H435.1M434.39 796.6V792.54M431.09 792.54H437.69M436.98 790.31V786.25M433.68 786.25H440.28M439.57 789.63V785.57M436.27 785.57H442.87M442.16 792.88V788.82M438.86 788.82H445.46M444.75 786.55V782.49M441.45 782.49H448.05M447.34 789.77V785.71M444.04 785.71H450.64M449.93 796.25V792.19M446.63 792.19H453.23M452.52 798.67V794.61M449.22 794.61H455.82M455.11 797.46V793.4M451.81 793.4H458.41M457.7 800.1V796.04M454.4 796.04H461M460.29 798.63V794.57M456.99 794.57H463.59M462.88 796.8V792.74M459.58 792.74H466.18M465.47 796.4V792.34M462.17 792.34H468.77M468.06 798.24V794.18M464.76 794.18H471.36M470.65 796.74V792.68M467.35 792.68H473.95M473.24 796.92V792.86M469.94 792.86H476.54M475.83 797.12V793.06M472.53 793.06H479.13M478.42 799.69V795.63M475.12 795.63H481.72M481.01 796.87V792.81M477.71 792.81H484.31M483.6 795.97V791.91M480.3 791.91H486.9M486.19 794.16V790.1M482.89 790.1H489.49M488.78 794V789.94M485.48 789.94H492.08M491.37 798.65V794.59M488.07 794.59H494.67M493.96 803.65V799.59M490.66 799.59H497.26M496.55 802.86V798.8M493.25 798.8H499.85M499.14 799.77V795.71M495.84 795.71H502.44M501.73 796.43V792.37M498.43 792.37H505.03M504.32 803.61V799.55M501.02 799.55H507.62M506.91 796.36V792.3M503.61 792.3H510.21M509.5 806.98V802.92M506.2 802.92H512.8M512.09 806.94V802.88M508.79 802.88H515.39M514.68 810.54V806.48M511.38 806.48H517.98M517.27 804.08V800.02M513.97 800.02H520.57M519.86 805.02V800.96M516.56 800.96H523.16M522.45 799.3V795.24M519.15 795.24H525.75M525.04 795.27V791.21M521.74 791.21H528.34M527.63 776.68V769.07M524.33 769.07H530.93M530.22 775.32V767.71M526.92 767.71H533.52M532.81 777.31V769.7M529.51 769.7H536.11M535.4 778.62V771M532.1 771H538.7M537.99 772.98V765.37M534.69 765.37H541.29M540.58 773.32V765.71M537.28 765.71H543.88M543.17 776.03V768.42M539.87 768.42H546.47M545.76 781.28V773.66M542.46 773.66H549.06M548.35 790.22V782.6M545.05 782.6H551.65M550.94 790.94V783.33M547.64 783.33H554.24M553.53 791.12V786.55M550.23 786.55H556.83M556.12 793.88V789.31M552.82 789.31H559.42M558.71 794.16V789.59M555.41 789.59H562.01M561.3 792.37V787.8M558 787.8H564.6M563.89 793.37V788.8M560.59 788.8H567.19M566.48 792.53V787.96M563.18 787.96H569.78M569.07 792.78V788.22M565.77 788.22H572.37M571.66 791.82V787.26M568.36 787.26H574.96M574.25 792.66V788.09M570.95 788.09H577.55M576.84 794.87V790.31M573.54 790.31H580.14M579.43 799.27V794.7M576.13 794.7H582.73M582.02 799.77V795.2M578.72 795.2H585.32M584.61 804.95V800.38M581.31 800.38H587.91M587.2 805.75V801.18M583.9 801.18H590.5M589.79 808.58V804.01M586.49 804.01H593.09M592.38 810.37V805.8M589.08 805.8H595.68M594.97 814.18V809.61M591.67 809.61H598.27M597.56 814.43V809.87M594.26 809.87H600.86M600.15 818.08V813.51M596.85 813.51H603.45M602.74 815.43V810.87M599.44 810.87H606.04M605.33 815.44V810.87M602.03 810.87H608.63M607.92 815.53V810.96M604.62 810.96H611.22M610.51 813.07V808.5M607.21 808.5H613.81M613.1 811.55V806.98M609.8 806.98H616.4M615.69 810.63V806.06M612.39 806.06H618.99M618.28 809.76V805.19M614.98 805.19H621.58M620.87 808.7V804.14M617.57 804.14H624.17M623.46 810.21V805.64M620.16 805.64H626.76M626.05 808.62V804.05M622.75 804.05H629.35M628.64 810.88V806.31M625.34 806.31H631.94M631.23 814.29V809.72M627.93 809.72H634.53M633.82 813.34V808.77M630.52 808.77H637.12M636.41 814.88V810.32M633.11 810.32H639.71M639 814.52V809.96M635.7 809.96H642.3M641.59 813.03V808.46M638.29 808.46H644.89M644.18 813.6V809.04M640.88 809.04H647.48M646.77 810.65V806.08M643.47 806.08H650.07M649.36 811.84V807.27M646.06 807.27H652.66M651.95 808.21V803.64M648.65 803.64H655.25M654.54 811.36V806.79M651.24 806.79H657.84M657.13 815.46V810.89M653.83 810.89H660.43M659.72 819.5V814.93M656.42 814.93H663.02M662.31 815.12V810.55M659.01 810.55H665.61M664.9 822.12V817.55M661.6 817.55H668.2M667.49 816.97V812.4M664.19 812.4H670.79M670.08 809.76V805.19M666.78 805.19H673.38M672.67 813.23V808.67M669.37 808.67H675.97M675.26 817.47V812.9M671.96 812.9H678.56M677.85 811.1V806.53M674.55 806.53H681.15M680.44 814.32V809.75M677.14 809.75H683.74M683.03 816.94V812.38M679.73 812.38H686.33M685.62 820.16V815.59M682.32 815.59H688.92M688.21 816.7V812.13M684.91 812.13H691.51M690.8 816.13V811.56M687.5 811.56H694.1M693.39 817.19V812.63M690.09 812.63H696.69M695.98 815.12V810.56M692.68 810.56H699.28M698.57 814.19V809.63M695.27 809.63H701.87M701.16 818.57V814M697.86 814H704.46M703.75 818.6V814.03M700.45 814.03H707.05M706.34 806.18V801.62M703.04 801.62H709.64M708.93 806.04V801.47M705.63 801.47H712.23M711.52 811.92V807.36M708.22 807.36H714.82M714.11 806.78V802.22M710.81 802.22H717.41M716.7 807.5V802.94M713.4 802.94H720M719.29 812.29V807.72M715.99 807.72H722.59M721.88 816.97V812.4M718.58 812.4H725.18M724.47 822.7V818.13M721.17 818.13H727.77M727.06 818.25V813.68M723.76 813.68H730.36M729.65 812.69V808.12M726.35 808.12H732.95M732.24 816.54V811.97M728.94 811.97H735.54M734.83 824.63V820.06M731.53 820.06H738.13M737.42 819.27V814.71M734.12 814.71H740.72M740.01 815.05V810.48M736.71 810.48H743.31" stroke="#000" stroke-width="1.6" fill="none"/>
<path d="M431.8 790.99L434.39 796.6L436.98 790.31L439.57 789.63L442.16 792.88L444.75 786.55L447.34 789.77L449.93 796.25L452.52 798.67L455.11 797.46L457.7 800.1L460.29 798.63L462.88 796.8L465.47 796.4L468.06 798.24L470.65 796.74L473.24 796.92L475.83 797.12L478.42 799.69L481.01 796.87L483.6 795.97L486.19 794.16L488.78 794L491.37 798.65L493.96 803.65L496.55 802.86L499.14 799.77L501.73 796.43L504.32 803.61L506.91 796.36L509.5 806.98L512.09 806.94L514.68 810.54L517.27 804.08L519.86 805.02L522.45 799.3L525.04 795.27L527.63 776.68L530.22 775.32L532.81 777.31L535.4 778.62L537.99 772.98L540.58 773.32L543.17 776.03L545.76 781.28L548.35 790.22L550.94 790.94L553.53 791.12L556.12 793.88L558.71 794.16L561.3 792.37L563.89 793.37L566.48 792.53L569.07 792.78L571.66 791.82L574.25 792.66L576.84 794.87L579.43 799.27L582.02 799.77L584.61 804.95L587.2 805.75L589.79 808.58L592.38 810.37L594.97 814.18L597.56 814.43L600.15 818.08L602.74 815.43L605.33 815.44L607.92 815.53L610.51 813.07L613.1 811.55L615.69 810.63L618.28 809.76L620.87 808.7L623.46 810.21L626.05 808.62L628.64 810.88L631.23 814.29L633.82 813.34L636.41 814.88L639 814.52L641.59 813.03L644.18 813.6L646.77 810.65L649.36 811.84L651.95 808.21L654.54 811.36L657.13 815.46L659.72 819.5L662.31 815.12L664.9 822.12L667.49 816.97L670.08 809.76L672.67 813.23L675.26 817.47L677.85 811.1L680.44 814.32L683.03 816.94L685.62 820.16L688.21 816.7L690.8 816.13L693.39 817.19L695.98 815.12L698.57 814.19L701.16 818.57L703.75 818.6L706.34 806.18L708.93 806.04L711.52 811.92L714.11 806.78L716.7 807.5L719.29 812.29L721.88 816.97L724.47 822.7L727.06 818.25L729.65 812.69L732.24 816.54L734.83 824.63L737.42 819.27L740.01 815.05" stroke="#000" stroke-width="1" fill="none"/>
<g fill="#fff" stroke="#000" stroke-width="1.6"><circle cx="431.8" cy="790.99" r="2.2"/><circle cx="434.39" cy="796.6" r="2.2"/><circle cx="436.98" cy="790.31" r="2.2"/><circle cx="439.57" cy="789.63" r="2.2"/><circle cx="442.16" cy="792.88" r="2.2"/><circle cx="444.75" cy="786.55" r="2.2"/><circle cx="447.34" cy="789.77" r="2.2"/><circle cx="449.93" cy="796.25" r="2.2"/><circle cx="452.52" cy="798.67" r="2.2"/><circle cx="455.11" cy="797.46" r="2.2"/><circle cx="457.7" cy="800.1" r="2.2"/><circle cx="460.29" cy="798.63" r="2.2"/><circle cx="462.88" cy="796.8" r="2.2"/><circle cx="465.47" cy="796.4" r="2.2"/><circle cx="468.06" cy="798.24" r="2.2"/><circle cx="470.65" cy="796.74" r="2.2"/><circle cx="473.24" cy="796.92" r="2.2"/><circle cx="475.83" cy="797.12" r="2.2"/><circle cx="478.42" cy="799.69" r="2.2"/><circle cx="481.01" cy="796.87" r="2.2"/><circle cx="483.6" cy="795.97" r="2.2"/><circle cx="486.19" cy="794.16" r="2.2"/><circle cx="488.78" cy="794" r="2.2"/><circle cx="491.37" cy="798.65" r="2.2"/><circle cx="493.96" cy="803.65" r="2.2"/><circle cx="496.55" cy="802.86" r="2.2"/><circle cx="499.14" cy="799.77" r="2.2"/><circle cx="501.73" cy="796.43" r="2.2"/><circle cx="504.32" cy="803.61" r="2.2"/><circle cx="506.91" cy="796.36" r="2.2"/><circle cx="509.5" cy="806.98" r="2.2"/><circle cx="512.09" cy="806.94" r="2.2"/><circle cx="514.68" cy="810.54" r="2.2"/><circle cx="517.27" cy="804.08" r="2.2"/><circle cx="519.86" cy="805.02" r="2.2"/><circle cx="522.45" cy="799.3" r="2.2"/><circle cx="525.04" cy="795.27" r="2.2"/><circle cx="527.63" cy="776.68" r="2.2"/><circle cx="530.22" cy="775.32" r="2.2"/><circle cx="532.81" cy="777.31" r="2.2"/><circle cx="535.4" cy="778.62" r="2.2"/><circle cx="537.99" cy="772.98" r="2.2"/><circle cx="540.58" cy="773.32" r="2.2"/><circle cx="543.17" cy="776.03" r="2.2"/><circle cx="545.76" cy="781.28" r="2.2"/><circle cx="548.35" cy="790.22" r="2.2"/><circle cx="550.94" cy="790.94" r="2.2"/><circle cx="553.53" cy="791.12" r="2.2"/><circle cx="556.12" cy="793.88" r="2.2"/><circle cx="558.71" cy="794.16" r="2.2"/><circle cx="561.3" cy="792.37" r="2.2"/><circle cx="563.89" cy="793.37" r="2.2"/><circle cx="566.48" cy="792.53" r="2.2"/><circle cx="569.07" cy="792.78" r="2.2"/><circle cx="571.66" cy="791.82" r="2.2"/><circle cx="574.25" cy="792.66" r="2.2"/><circle cx="576.84" cy="794.87" r="2.2"/><circle cx="579.43" cy="799.27" r="2.2"/><circle cx="582.02" cy="799.77" r="2.2"/><circle cx="584.61" cy="804.95" r="2.2"/><circle cx="587.2" cy="805.75" r="2.2"/><circle cx="589.79" cy="808.58" r="2.2"/><circle cx="592.38" cy="810.37" r="2.2"/><circle cx="594.97" cy="814.18" r="2.2"/><circle cx="597.56" cy="814.43" r="2.2"/><circle cx="600.15" cy="818.08" r="2.2"/><circle cx="602.74" cy="815.43" r="2.2"/><circle cx="605.33" cy="815.44" r="2.2"/><circle cx="607.92" cy="815.53" r="2.2"/><circle cx="610.51" cy="813.07" r="2.2"/><circle cx="613.1" cy="811.55" r="2.2"/><circle cx="615.69" cy="810.63" r="2.2"/><circle cx="618.28" cy="809.76" r="2.2"/><circle cx="620.87" cy="808.7" r="2.2"/><circle cx="623.46" cy="810.21" r="2.2"/><circle cx="626.05" cy="808.62" r="2.2"/><circle cx="628.64" cy="810.88" r="2.2"/><circle cx="631.23" cy="814.29" r="2.2"/><circle cx="633.82" cy="813.34" r="2.2"/><circle cx="636.41" cy="814.88" r="2.2"/><circle cx="639" cy="814.52" r="2.2"/><circle cx="641.59" cy="813.03" r="2.2"/><circle cx="644.18" cy="813.6" r="2.2"/><circle cx="646.77" cy="810.65" r="2.2"/><circle cx="649.36" cy="811.84" r="2.2"/><circle cx="651.95" cy="808.21" r="2.2"/><circle cx="654.54" cy="811.36" r="2.2"/><circle cx="657.13" cy="815.46" r="2.2"/><circle cx="659.72" cy="819.5" r="2.2"/><circle cx="662.31" cy="815.12" r="2.2"/><circle cx="664.9" cy="822.12" r="2.2"/><circle cx="667.49" cy="816.97" r="2.2"/><circle cx="670.08" cy="809.76" r="2.2"/><circle cx="672.67" cy="813.23" r="2.2"/><circle cx="675.26" cy="817.47" r="2.2"/><circle cx="677.85" cy="811.1" r="2.2"/><circle cx="680.44" cy="814.32" r="2.2"/><circle cx="683.03" cy="816.94" r="2.2"/><circle cx="685.62" cy="820.16" r="2.2"/><circle cx="688.21" cy="816.7" r="2.2"/><circle cx="690.8" cy="816.13" r="2.2"/><circle cx="693.39" cy="817.19" r="2.2"/><circle cx="695.98" cy="815.12" r="2.2"/><circle cx="698.57" cy="814.19" r="2.2"/><circle cx="701.16" cy="818.57" r="2.2"/><circle cx="703.75" cy="818.6" r="2.2"/><circle cx="706.34" cy="806.18" r="2.2"/><circle cx="708.93" cy="806.04" r="2.2"/><circle cx="711.52" cy="811.92" r="2.2"/><circle cx="714.11" cy="806.78" r="2.2"/><circle cx="716.7" cy="807.5" r="2.2"/><circle cx="719.29" cy="812.29" r="2.2"/><circle cx="721.88" cy="816.97" r="2.2"/><circle cx="724.47" cy="822.7" r="2.2"/><circle cx="727.06" cy="818.25" r="2.2"/><circle cx="729.65" cy="812.69" r="2.2"/><circle cx="732.24" cy="816.54" r="2.2"/><circle cx="734.83" cy="824.63" r="2.2"/><circle cx="737.42" cy="819.27" r="2.2"/><circle cx="740.01" cy="815.05" r="2.2"/></g>
<rect x="511" y="695.1" width="75.3" height="203.5" fill="#a6a3a5" fill-opacity="0.55"/>
<path d="M510.4 695.2V892.6" stroke="#000" stroke-width="1.8" stroke-dasharray="5.9 5.3" fill="none"/>
<text x="0" y="0" font-size="13.3" fill="#1a1a1a" text-anchor="end" transform="translate(415.6 700.55) scale(1.25 1)" stroke="#1a1a1a" stroke-width="0.3">10</text>
<text x="0" y="0" font-size="13.3" fill="#1a1a1a" text-anchor="end" transform="translate(415.6 751.3) scale(1.25 1)" stroke="#1a1a1a" stroke-width="0.3">5</text>
<text x="0" y="0" font-size="13.3" fill="#1a1a1a" text-anchor="end" transform="translate(415.6 802.05) scale(1.25 1)" stroke="#1a1a1a" stroke-width="0.3">0</text>
<text x="0" y="0" font-size="13.3" fill="#1a1a1a" text-anchor="end" transform="translate(415.6 852.8) scale(1.25 1)" stroke="#1a1a1a" stroke-width="0.3">-5</text>
<text x="0" y="0" font-size="13.3" fill="#1a1a1a" text-anchor="end" transform="translate(415.6 903.55) scale(1.25 1)" stroke="#1a1a1a" stroke-width="0.3">-10</text>
<text x="0" y="0" font-size="13.3" fill="#1a1a1a" text-anchor="middle" transform="translate(430.3 926.25) scale(1.25 1)" stroke="#1a1a1a" stroke-width="0.3">0</text>
<text x="0" y="0" font-size="13.3" fill="#1a1a1a" text-anchor="middle" transform="translate(468.96 926.25) scale(1.25 1)" stroke="#1a1a1a" stroke-width="0.3">15</text>
<text x="0" y="0" font-size="13.3" fill="#1a1a1a" text-anchor="middle" transform="translate(507.61 926.25) scale(1.25 1)" stroke="#1a1a1a" stroke-width="0.3">30</text>
<text x="0" y="0" font-size="13.3" fill="#1a1a1a" text-anchor="middle" transform="translate(546.26 926.25) scale(1.25 1)" stroke="#1a1a1a" stroke-width="0.3">45</text>
<text x="0" y="0" font-size="13.3" fill="#1a1a1a" text-anchor="middle" transform="translate(584.92 926.25) scale(1.25 1)" stroke="#1a1a1a" stroke-width="0.3">60</text>
<text x="0" y="0" font-size="13.3" fill="#1a1a1a" text-anchor="middle" transform="translate(623.58 926.25) scale(1.25 1)" stroke="#1a1a1a" stroke-width="0.3">75</text>
<text x="0" y="0" font-size="13.3" fill="#1a1a1a" text-anchor="middle" transform="translate(662.23 926.25) scale(1.25 1)" stroke="#1a1a1a" stroke-width="0.3">90</text>
<text x="0" y="0" font-size="13.3" fill="#1a1a1a" text-anchor="middle" transform="translate(700.88 926.25) scale(1.25 1)" stroke="#1a1a1a" stroke-width="0.3">105</text>
<text x="0" y="0" font-size="13.3" fill="#1a1a1a" text-anchor="middle" transform="translate(739.54 926.25) scale(1.25 1)" stroke="#1a1a1a" stroke-width="0.3">120</text>
<text x="583.9" y="939.7" font-size="14" fill="#1a1a1a" text-anchor="middle" textLength="30.3" lengthAdjust="spacingAndGlyphs" stroke="#1a1a1a" stroke-width="0.3">Beat</text>
<text x="0" y="0" font-size="15.2" fill="#1a1a1a" text-anchor="middle" textLength="67.3" lengthAdjust="spacingAndGlyphs" transform="translate(401.7 797.3) rotate(-90)" stroke="#1a1a1a" stroke-width="0.3">% Change</text>
<text x="681.6" y="869.9" font-size="12.6" fill="#1a1a1a" textLength="8.6" lengthAdjust="spacingAndGlyphs" stroke="#1a1a1a" stroke-width="0.3">N</text>
<text x="691.5" y="873.2" font-size="7.7" fill="#1a1a1a" textLength="19.9" lengthAdjust="spacingAndGlyphs" stroke="#1a1a1a" stroke-width="0.3">MAP</text>
<text x="713.4" y="869.9" font-size="12.6" fill="#1a1a1a" textLength="26" lengthAdjust="spacingAndGlyphs" stroke="#1a1a1a" stroke-width="0.3">= 16</text>
<text x="681.6" y="888.6" font-size="12.6" fill="#1a1a1a" textLength="8.6" lengthAdjust="spacingAndGlyphs" stroke="#1a1a1a" stroke-width="0.3">N</text>
<text x="691.4" y="891.7" font-size="7.7" fill="#1a1a1a" textLength="15.3" lengthAdjust="spacingAndGlyphs" stroke="#1a1a1a" stroke-width="0.3">TOI</text>
<text x="708.7" y="888.6" font-size="12.6" fill="#1a1a1a" textLength="26" lengthAdjust="spacingAndGlyphs" stroke="#1a1a1a" stroke-width="0.3">= 20</text>
<text x="540.15" y="727.1" font-size="18.3" fill="#000" text-anchor="middle" class="dj" stroke="#000" stroke-width="0.4">*</text></g>
<text x="382.3" y="11.55" font-size="14.3" fill="#000" text-anchor="middle" textLength="71.6" lengthAdjust="spacingAndGlyphs" font-weight="bold">2–4 Weeks</text>
<text x="382.2" y="338.3" font-size="14.3" fill="#000" text-anchor="middle" textLength="76.7" lengthAdjust="spacingAndGlyphs" font-weight="bold">2–3 Months</text>
<text x="382.5" y="676.2" font-size="14.3" fill="#000" text-anchor="middle" textLength="78" lengthAdjust="spacingAndGlyphs" font-weight="bold">5–6 Months</text>
<text x="216.2" y="35.2" font-size="16.3" fill="#000" text-anchor="middle" textLength="92.6" lengthAdjust="spacingAndGlyphs" stroke="#000" stroke-width="0.3">Quiet Sleep</text>
<text x="609" y="33.6" font-size="16.6" fill="#000" text-anchor="middle" textLength="98" lengthAdjust="spacingAndGlyphs" stroke="#000" stroke-width="0.3">Active Sleep</text>
</svg></body></html>
